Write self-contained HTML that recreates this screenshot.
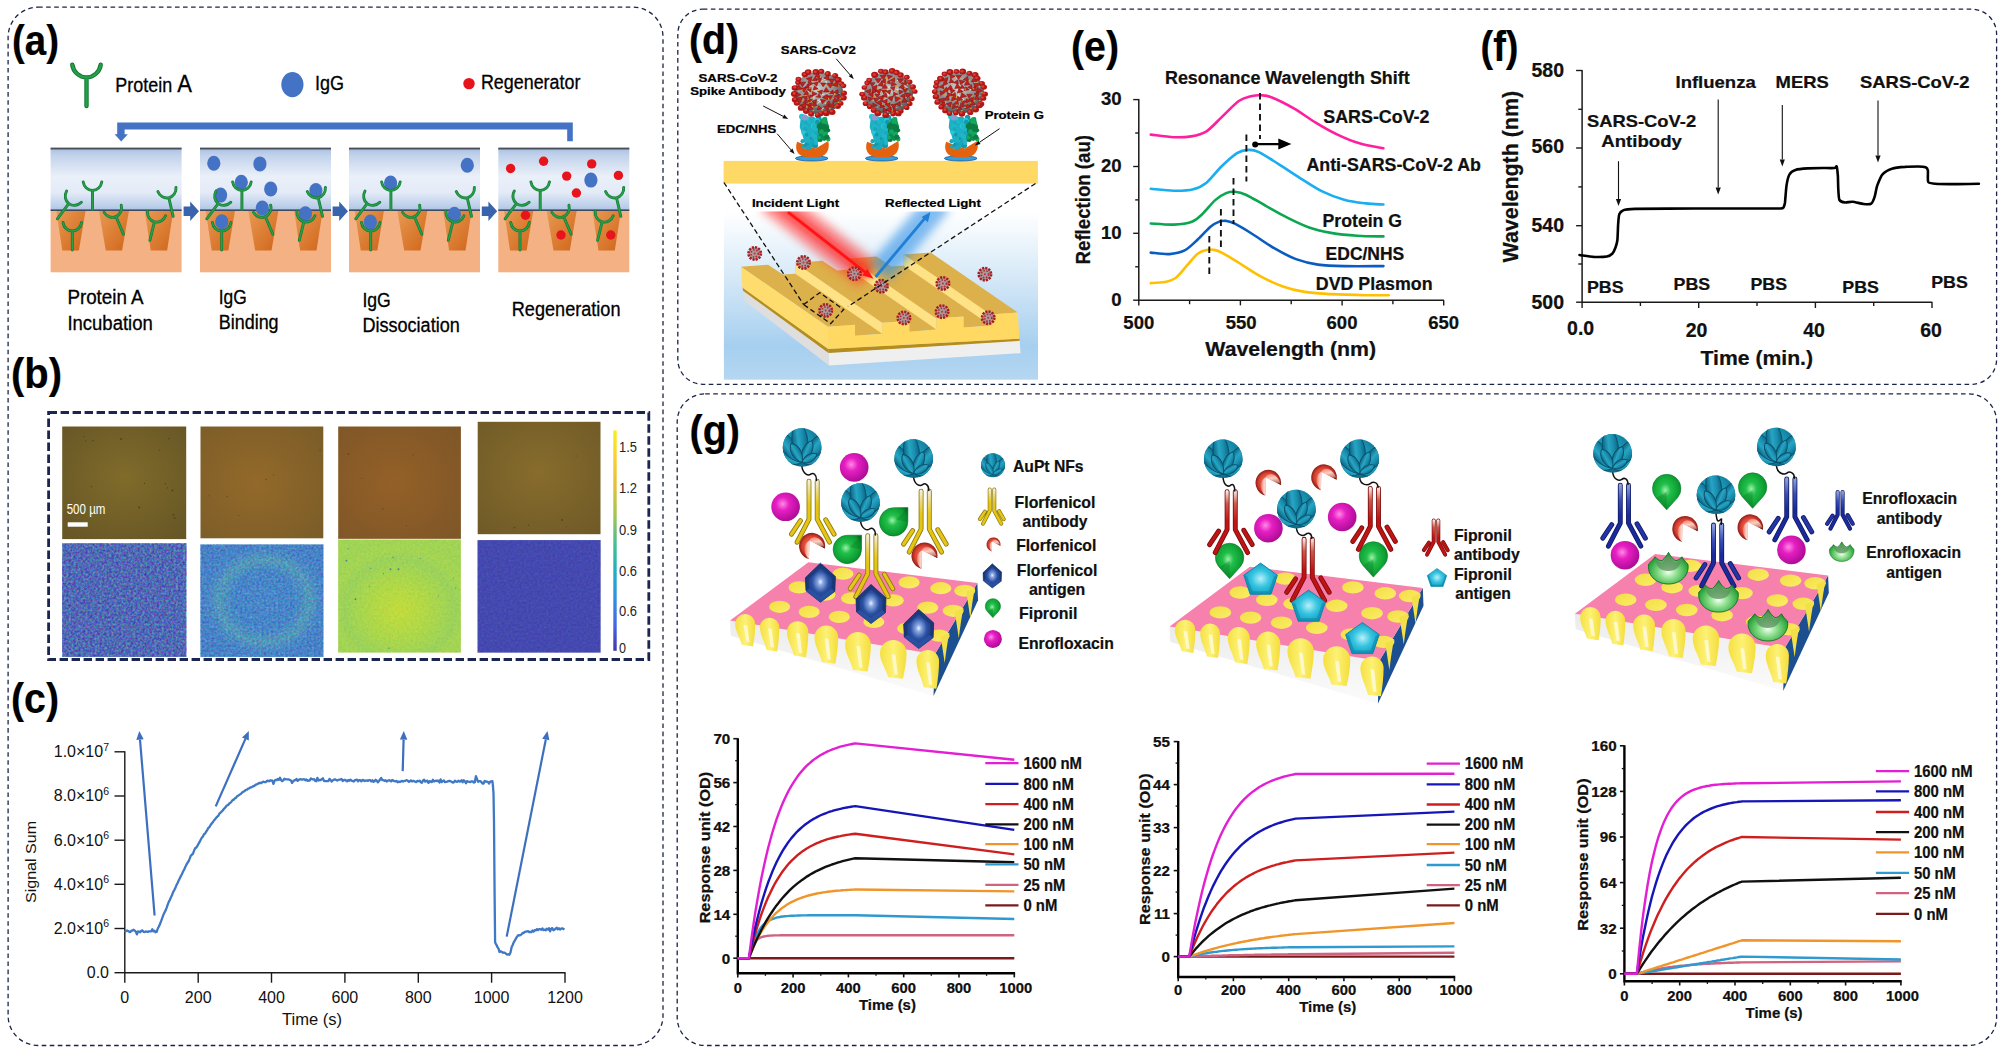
<!DOCTYPE html>
<html lang="en"><head><meta charset="utf-8"><title>Figure</title>
<style>
html,body{margin:0;padding:0;background:#fff;}
body{width:2001px;height:1053px;overflow:hidden;}
svg{display:block;font-family:"Liberation Sans",sans-serif;}
text[font-weight="bold"]{stroke:#000;stroke-width:0.22px;}
</style></head><body>
<svg width="2001" height="1053" viewBox="0 0 2001 1053">
<defs>
<linearGradient id="aSky" x1="0" y1="0" x2="0" y2="1">
<stop offset="0" stop-color="#a9bfe3"/><stop offset="0.12" stop-color="#c3d3ec"/><stop offset="0.45" stop-color="#eaf0f9"/>
<stop offset="0.7" stop-color="#e4ebf7"/><stop offset="0.92" stop-color="#bccfea"/><stop offset="1" stop-color="#a8c0e4"/></linearGradient>
<linearGradient id="aWell" x1="0" y1="0" x2="1" y2="1">
<stop offset="0" stop-color="#e79a55"/><stop offset="0.5" stop-color="#dc7f35"/><stop offset="1" stop-color="#cf661c"/></linearGradient>
<g id="aY" fill="none" stroke-linecap="round">
<path d="M-9.3 -10.6 A9.4 10 0 0 0 9.3 -10.6 M0 -0.6 L0 17" stroke="#157a36" stroke-width="2.9"/>
<path d="M-9.3 -10.6 A9.4 10 0 0 0 9.3 -10.6 M0 -0.6 L0 17" stroke="#27a04a" stroke-width="1.5"/>
</g>

<radialGradient id="bT1" cx="0.5" cy="0.45" r="0.75"><stop offset="0" stop-color="#806b2a"/><stop offset="1" stop-color="#655526"/></radialGradient>
<radialGradient id="bT2" cx="0.45" cy="0.5" r="0.75"><stop offset="0" stop-color="#93692a"/><stop offset="1" stop-color="#7a5c28"/></radialGradient>
<radialGradient id="bT3" cx="0.45" cy="0.5" r="0.75"><stop offset="0" stop-color="#946028"/><stop offset="1" stop-color="#7d5627"/></radialGradient>
<radialGradient id="bT4" cx="0.5" cy="0.45" r="0.75"><stop offset="0" stop-color="#876c2c"/><stop offset="1" stop-color="#6e5927"/></radialGradient>
<radialGradient id="bB2" cx="0.52" cy="0.5" r="0.5"><stop offset="0" stop-color="#4a88cc"/><stop offset="0.5" stop-color="#4584ca"/><stop offset="0.74" stop-color="#58a2b6"/><stop offset="0.9" stop-color="#4a88c8"/><stop offset="1" stop-color="#4680c8"/></radialGradient>
<radialGradient id="bB3" cx="0.5" cy="0.62" r="0.62"><stop offset="0" stop-color="#cbde38"/><stop offset="0.35" stop-color="#b4da46"/><stop offset="0.6" stop-color="#a2d556"/><stop offset="0.72" stop-color="#98d160"/><stop offset="0.85" stop-color="#a4d655"/><stop offset="1" stop-color="#a0d458"/></radialGradient>
<linearGradient id="bCB" x1="0" y1="0" x2="0" y2="1">
<stop offset="0" stop-color="#f9f016"/><stop offset="0.12" stop-color="#fbd02e"/><stop offset="0.25" stop-color="#e3c03c"/><stop offset="0.38" stop-color="#a6c550"/>
<stop offset="0.5" stop-color="#4fc08a"/><stop offset="0.62" stop-color="#1fb3bd"/><stop offset="0.75" stop-color="#2e94e0"/><stop offset="0.88" stop-color="#4468e6"/><stop offset="1" stop-color="#4436a8"/></linearGradient>
<filter id="nzA" x="0" y="0" width="1" height="1" color-interpolation-filters="sRGB"><feTurbulence type="fractalNoise" baseFrequency="0.42" numOctaves="2" seed="7"/>
<feColorMatrix type="matrix" values="1.3 0 0 0 -0.36  0 1.7 0 0 -0.43  0 0 1.0 0 0.22  0 0 0 0 1"/></filter>
<filter id="nzB" x="0" y="0" width="1" height="1" color-interpolation-filters="sRGB"><feTurbulence type="fractalNoise" baseFrequency="0.42" numOctaves="2" seed="11"/>
<feColorMatrix type="matrix" values="1.2 0 0 0 -0.3  0 1.3 0 0 -0.12  0 0 0.9 0 0.32  0 0 0 0 1"/></filter>
<filter id="nzC" x="0" y="0" width="1" height="1" color-interpolation-filters="sRGB"><feTurbulence type="fractalNoise" baseFrequency="0.45" numOctaves="1" seed="5"/>
<feColorMatrix type="matrix" values="0.8 0 0 0 0.25  0 0.5 0 0 0.58  0 0 0.6 0 0.0  0 0 0 0 1"/></filter>
<filter id="nzD" x="0" y="0" width="1" height="1" color-interpolation-filters="sRGB"><feTurbulence type="fractalNoise" baseFrequency="0.45" numOctaves="1" seed="9"/>
<feColorMatrix type="matrix" values="0.5 0 0 0 0.02  0 0.5 0 0 0.04  0 0 0.5 0 0.44  0 0 0 0 1"/></filter>


<linearGradient id="dBg" x1="0" y1="0" x2="0" y2="1"><stop offset="0" stop-color="#ffffff"/><stop offset="0.12" stop-color="#f3f9fd"/><stop offset="0.45" stop-color="#cfe5f6"/><stop offset="0.8" stop-color="#a6cfef"/><stop offset="1" stop-color="#b4d7f2"/></linearGradient>
<radialGradient id="dVg" cx="0.45" cy="0.4" r="0.6"><stop offset="0" stop-color="#cfcfcf"/><stop offset="0.6" stop-color="#8e8e8e"/><stop offset="1" stop-color="#555555"/></radialGradient>
<linearGradient id="dRed" gradientUnits="userSpaceOnUse" x1="787.8" y1="211.9" x2="873.5" y2="278.7"><stop offset="0" stop-color="#ff2020" stop-opacity="0.75"/><stop offset="0.8" stop-color="#ff2020" stop-opacity="0.7"/><stop offset="1" stop-color="#ff3020" stop-opacity="0.25"/></linearGradient>
<filter id="dBlur" x="-0.3" y="-0.3" width="1.6" height="1.6"><feGaussianBlur stdDeviation="5"/></filter>
<filter id="dBlur2" x="-0.3" y="-0.3" width="1.6" height="1.6"><feGaussianBlur stdDeviation="3.5"/></filter>
<clipPath id="dClip"><rect x="723.9" y="211.5" width="314.1" height="168.2"/></clipPath>


<radialGradient id="gNF" cx="0.42" cy="0.38" r="0.7"><stop offset="0" stop-color="#2fb1cf"/><stop offset="0.55" stop-color="#168aaa"/><stop offset="1" stop-color="#0a5f7f"/></radialGradient>
<linearGradient id="gLeaf" x1="0" y1="0" x2="1" y2="0"><stop offset="0" stop-color="#0b6180"/><stop offset="0.4" stop-color="#27a5c4"/><stop offset="0.7" stop-color="#1a8eae"/><stop offset="1" stop-color="#0c6785"/></linearGradient>
<radialGradient id="gMag" cx="0.4" cy="0.4" r="0.65"><stop offset="0" stop-color="#ff8ae6"/><stop offset="0.35" stop-color="#e71fc3"/><stop offset="1" stop-color="#a80a92"/></radialGradient>
<radialGradient id="gGrn" cx="0.45" cy="0.45" r="0.62"><stop offset="0" stop-color="#9ff0a8"/><stop offset="0.3" stop-color="#21c04a"/><stop offset="0.8" stop-color="#0b9a30"/><stop offset="1" stop-color="#086d22"/></radialGradient>
<radialGradient id="gRed" cx="0.52" cy="0.56" r="0.6"><stop offset="0" stop-color="#fff4ee"/><stop offset="0.3" stop-color="#f7b0a2"/><stop offset="0.7" stop-color="#dc5a4a"/><stop offset="1" stop-color="#b4322a"/></radialGradient>
<radialGradient id="gGem" cx="0.5" cy="0.48" r="0.55"><stop offset="0" stop-color="#eef3ff"/><stop offset="0.16" stop-color="#8aa8e2"/><stop offset="0.5" stop-color="#2a50a2"/><stop offset="1" stop-color="#17306f"/></radialGradient>
<radialGradient id="gPen" cx="0.5" cy="0.5" r="0.6"><stop offset="0" stop-color="#b8f0fa"/><stop offset="0.45" stop-color="#35c4e0"/><stop offset="1" stop-color="#0e93b8"/></radialGradient>
<radialGradient id="gCrn" cx="0.5" cy="0.62" r="0.62"><stop offset="0" stop-color="#f4fff2"/><stop offset="0.35" stop-color="#8fe08f"/><stop offset="0.8" stop-color="#2fa83f"/><stop offset="1" stop-color="#147a26"/></radialGradient>
<linearGradient id="gCone" x1="0" y1="0" x2="1" y2="0"><stop offset="0" stop-color="#f5e040"/><stop offset="0.5" stop-color="#fdf176"/><stop offset="1" stop-color="#f4dd3a"/></linearGradient>
<linearGradient id="gDot" x1="0" y1="0" x2="1" y2="1"><stop offset="0" stop-color="#f2dd45"/><stop offset="1" stop-color="#fbee66"/></linearGradient>
<linearGradient id="gFront" x1="0" y1="0" x2="0" y2="1"><stop offset="0" stop-color="#ecebec"/><stop offset="0.6" stop-color="#f6f5f6"/><stop offset="1" stop-color="#fbfbfb"/></linearGradient>
<linearGradient id="gAbY" gradientUnits="userSpaceOnUse" x1="0" y1="0" x2="0" y2="30"><stop offset="0" stop-color="#f4eedc"/><stop offset="0.35" stop-color="#ecd97c"/><stop offset="0.75" stop-color="#e6c81c"/><stop offset="1" stop-color="#e4c414"/></linearGradient>
<linearGradient id="gAbR" gradientUnits="userSpaceOnUse" x1="0" y1="0" x2="0" y2="30"><stop offset="0" stop-color="#f6e6e0"/><stop offset="0.4" stop-color="#cf5a4a"/><stop offset="1" stop-color="#c01414"/></linearGradient>
<linearGradient id="gAbB" gradientUnits="userSpaceOnUse" x1="0" y1="0" x2="0" y2="30"><stop offset="0" stop-color="#8fa2dc"/><stop offset="0.5" stop-color="#3a4fb8"/><stop offset="1" stop-color="#1a2a9a"/></linearGradient>
<clipPath id="gNFc"><circle r="19.3"/></clipPath>
<g id="gNFs">
<circle r="19.3" fill="url(#gNF)"/>
<g stroke="#084e69" stroke-width="0.9" fill="url(#gLeaf)" clip-path="url(#gNFc)">
<path d="M0 15 C-10 4 -10 -14 0 -24 C10 -14 10 4 0 15 Z" transform="rotate(-72 0 15)"/>
<path d="M0 15 C-10 4 -10 -14 0 -24 C10 -14 10 4 0 15 Z" transform="rotate(74 0 15)"/>
<path d="M0 15 C-10 4 -10 -16 0 -26 C10 -16 10 4 0 15 Z" transform="rotate(-40 0 15)"/>
<path d="M0 15 C-10 4 -10 -16 0 -26 C10 -16 10 4 0 15 Z" transform="rotate(42 0 15)"/>
<path d="M0 15 C-10.5 3 -10.5 -17 0 -27 C10.5 -17 10.5 3 0 15 Z" transform="rotate(-6 0 15)"/>
<path d="M0 15 C-6 8 -6.5 -3 0 -9 C6.5 -3 6 8 0 15 Z" transform="rotate(24 0 15)"/>
<path d="M0 15 C-6 8 -6.5 -2 0 -7 C6.5 -2 6 8 0 15 Z" transform="rotate(-30 0 15)"/>
<path d="M0 15 C-5 10 -5 2 0 -2 C5 2 5 10 0 15 Z" transform="rotate(60 0 15)"/>
</g></g>
<linearGradient id="gPacA" x1="0.3" y1="0" x2="0.55" y2="1"><stop offset="0" stop-color="#f08474"/><stop offset="0.4" stop-color="#fbd0c4"/><stop offset="0.8" stop-color="#c88474"/><stop offset="1" stop-color="#5c1c18"/></linearGradient>
<linearGradient id="gPacB" x1="0" y1="0.5" x2="1" y2="0.5"><stop offset="0" stop-color="#ea6e5e"/><stop offset="0.55" stop-color="#f8c2b4"/><stop offset="1" stop-color="#fde2d8"/></linearGradient>
<radialGradient id="gPacO" cx="0.5" cy="0.5" r="0.5"><stop offset="0.35" stop-color="#f26a58"/><stop offset="0.75" stop-color="#d8402f"/><stop offset="1" stop-color="#8e1d18"/></radialGradient>
<g id="gPacS">
<path d="M-4 14.3 A13.5 13.8 0 1 1 12.6 3.2 L-3.5 -5 Z" fill="url(#gPacO)"/>
<path d="M-3.5 -5 C-0.5 -11 9 -9.5 12.6 3.2 Z" fill="url(#gPacA)"/>
<path d="M-3.5 -5 C-10.5 -1 -10 9 -4 14.3 Z" fill="url(#gPacB)"/>
</g>
<g id="gGemS"><polygon points="0,-19.6 15,-6.2 14.4,8.6 0,19.4 -14.4,8 -15,-5" fill="url(#gGem)" stroke="#17326f" stroke-width="0.8"/>
<path d="M0 -19.6 L15 -6.2 L14.4 8.6 L11.3 6 L11.6 -4.6 L0 -14.6 L-11.6 -3.8 L-11.2 5.6 L-14.4 8 L-15 -5 Z" fill="#19336f" opacity="0.6"/>
<path d="M-14.4 8 L-11.2 5.6 L0 14 L11.3 6 L14.4 8.6 L0 19.4 Z" fill="#2c56a8" opacity="0.75"/></g>
<g id="gPenS"><polygon points="0,-16.5 16.8,-4.4 10.4,14.6 -10.4,14.6 -16.8,-4.4" fill="url(#gPen)" stroke="#0c82a6" stroke-width="0.9"/>
<path d="M-16.8 -4.4 L-10.4 14.6 L10.4 14.6 L16.8 -4.4 L13.4 -3.2 L8.2 11.6 L-8.2 11.6 L-13.4 -3.2 Z" fill="#0a87ab" opacity="0.6"/></g>
<g id="gCrnS"><path d="M-19.6 -5.5 C-17 -8 -14.5 -10.5 -13.2 -12.6 C-11 -9.8 -8.4 -8.6 -6.2 -8.8 C-3.6 -11 -1.4 -14.2 0.2 -17 C2 -13.6 4.2 -10.6 7 -8.8 C9.6 -8.8 11.8 -10.2 13.6 -12.6 C15 -10 17.4 -7.2 19.6 -5.2 C21.4 5 13 14.6 0 14.6 C-13 14.6 -21.4 5 -19.6 -5.5 Z" fill="url(#gCrn)" stroke="#126e22" stroke-width="0.9"/>
<path d="M-13.2 -11 C-11 -8 -8.4 -7 -6.2 -7.2 C-3.6 -9.4 -1.4 -12.4 0.2 -15 C2 -12 4.2 -9 7 -7.2 C9.6 -7.2 11.8 -8.6 13.6 -11 C12 -2 7 1.5 0 1.5 C-7 1.5 -12 -2 -13.2 -11 Z" fill="#5f8f62" opacity="0.75"/></g>

</defs>
<rect width="2001" height="1053" fill="#fff"/>
<rect x="8.1" y="7.2" width="654.9" height="1038.3" rx="30" ry="30" fill="none" stroke="#1c2348" stroke-width="1.3" stroke-dasharray="4.6 3.45"/>
<rect x="677.8" y="9.2" width="1318.8" height="375.1" rx="25" ry="25" fill="none" stroke="#1c2348" stroke-width="1.3" stroke-dasharray="4.6 3.45"/>
<rect x="677.2" y="393.8" width="1319.4" height="651.7" rx="28" ry="28" fill="none" stroke="#1c2348" stroke-width="1.3" stroke-dasharray="4.6 3.45"/>
<text x="12.0" y="54.5" font-size="42" font-weight="bold" textLength="47.0" lengthAdjust="spacingAndGlyphs" >(a)</text>
<text x="11.0" y="388.0" font-size="42" font-weight="bold" textLength="51.0" lengthAdjust="spacingAndGlyphs" >(b)</text>
<text x="11.0" y="713.0" font-size="42" font-weight="bold" textLength="48.0" lengthAdjust="spacingAndGlyphs" >(c)</text>
<text x="689.0" y="54.0" font-size="42" font-weight="bold" textLength="50.0" lengthAdjust="spacingAndGlyphs" >(d)</text>
<text x="1071.0" y="60.5" font-size="42" font-weight="bold" textLength="48.0" lengthAdjust="spacingAndGlyphs" >(e)</text>
<text x="1480.5" y="61.0" font-size="42" font-weight="bold" textLength="38.0" lengthAdjust="spacingAndGlyphs" >(f)</text>
<text x="689.5" y="445.0" font-size="42" font-weight="bold" textLength="50.5" lengthAdjust="spacingAndGlyphs" >(g)</text>
<g transform="translate(50.6 0)">
<rect x="0" y="148.2" width="131" height="63" fill="url(#aSky)"/>
<rect x="0" y="210.2" width="131" height="62.1" fill="#f4b183"/>
<polygon points="5.7,210.6 35,210.6 28.3,250.4 11.7,250.4" fill="url(#aWell)"/>
<polygon points="48.3,210.6 78.4,210.6 71.5,250.4 55.2,250.4" fill="url(#aWell)"/>
<polygon points="94.1,210.6 122.7,210.6 116.5,250.4 100.1,250.4" fill="url(#aWell)"/>
<rect x="0" y="147.6" width="131" height="1.9" fill="#4a4f58"/>
<rect x="0" y="209.4" width="131" height="1.6" fill="#3f4a5c"/>
<use href="#aY" transform="translate(41.9 192.5) rotate(0)"/>
<use href="#aY" transform="translate(17.0 205.2) rotate(37)"/>
<use href="#aY" transform="translate(21.7 233.1) rotate(0)"/>
<use href="#aY" transform="translate(66.2 218.5) rotate(-23)"/>
<use href="#aY" transform="translate(118.7 199.8) rotate(-13)"/>
<use href="#aY" transform="translate(103.4 223.8) rotate(14)"/>
</g>
<g transform="translate(200.0 0)">
<rect x="0" y="148.2" width="131" height="63" fill="url(#aSky)"/>
<rect x="0" y="210.2" width="131" height="62.1" fill="#f4b183"/>
<polygon points="5.7,210.6 35,210.6 28.3,250.4 11.7,250.4" fill="url(#aWell)"/>
<polygon points="48.3,210.6 78.4,210.6 71.5,250.4 55.2,250.4" fill="url(#aWell)"/>
<polygon points="94.1,210.6 122.7,210.6 116.5,250.4 100.1,250.4" fill="url(#aWell)"/>
<rect x="0" y="147.6" width="131" height="1.9" fill="#4a4f58"/>
<rect x="0" y="209.4" width="131" height="1.6" fill="#3f4a5c"/>
<ellipse cx="13.8" cy="163.3" rx="6.6" ry="7.5" fill="#4472c4"/>
<ellipse cx="59.9" cy="163.9" rx="6.6" ry="7.5" fill="#4472c4"/>
<ellipse cx="41.3" cy="182.2" rx="6.6" ry="7.5" fill="#4472c4"/>
<ellipse cx="20.6" cy="195.1" rx="6.6" ry="7.5" fill="#4472c4"/>
<ellipse cx="70.7" cy="189" rx="6.6" ry="7.5" fill="#4472c4"/>
<ellipse cx="115.9" cy="190.6" rx="6.6" ry="7.5" fill="#4472c4"/>
<ellipse cx="62.3" cy="208" rx="6.6" ry="7.5" fill="#4472c4"/>
<ellipse cx="105.4" cy="213.7" rx="6.6" ry="7.5" fill="#4472c4"/>
<ellipse cx="21.8" cy="221.8" rx="6.6" ry="7.5" fill="#4472c4"/>
<use href="#aY" transform="translate(41.9 192.5) rotate(0)"/>
<use href="#aY" transform="translate(17.0 205.2) rotate(37)"/>
<use href="#aY" transform="translate(21.7 233.1) rotate(0)"/>
<use href="#aY" transform="translate(66.2 218.5) rotate(-23)"/>
<use href="#aY" transform="translate(118.7 199.8) rotate(-13)"/>
<use href="#aY" transform="translate(103.4 223.8) rotate(14)"/>
</g>
<g transform="translate(349.0 0)">
<rect x="0" y="148.2" width="131" height="63" fill="url(#aSky)"/>
<rect x="0" y="210.2" width="131" height="62.1" fill="#f4b183"/>
<polygon points="5.7,210.6 35,210.6 28.3,250.4 11.7,250.4" fill="url(#aWell)"/>
<polygon points="48.3,210.6 78.4,210.6 71.5,250.4 55.2,250.4" fill="url(#aWell)"/>
<polygon points="94.1,210.6 122.7,210.6 116.5,250.4 100.1,250.4" fill="url(#aWell)"/>
<rect x="0" y="147.6" width="131" height="1.9" fill="#4a4f58"/>
<rect x="0" y="209.4" width="131" height="1.6" fill="#3f4a5c"/>
<ellipse cx="118.3" cy="165.2" rx="6.6" ry="7.5" fill="#4472c4"/>
<ellipse cx="41.6" cy="183" rx="6.6" ry="7.5" fill="#4472c4"/>
<ellipse cx="105.4" cy="214.2" rx="6.6" ry="7.5" fill="#4472c4"/>
<ellipse cx="21.4" cy="222.1" rx="6.6" ry="7.5" fill="#4472c4"/>
<use href="#aY" transform="translate(41.9 192.5) rotate(0)"/>
<use href="#aY" transform="translate(17.0 205.2) rotate(37)"/>
<use href="#aY" transform="translate(21.7 233.1) rotate(0)"/>
<use href="#aY" transform="translate(66.2 218.5) rotate(-23)"/>
<use href="#aY" transform="translate(118.7 199.8) rotate(-13)"/>
<use href="#aY" transform="translate(103.4 223.8) rotate(14)"/>
</g>
<g transform="translate(498.3 0)">
<rect x="0" y="148.2" width="131" height="63" fill="url(#aSky)"/>
<rect x="0" y="210.2" width="131" height="62.1" fill="#f4b183"/>
<polygon points="5.7,210.6 35,210.6 28.3,250.4 11.7,250.4" fill="url(#aWell)"/>
<polygon points="48.3,210.6 78.4,210.6 71.5,250.4 55.2,250.4" fill="url(#aWell)"/>
<polygon points="94.1,210.6 122.7,210.6 116.5,250.4 100.1,250.4" fill="url(#aWell)"/>
<rect x="0" y="147.6" width="131" height="1.9" fill="#4a4f58"/>
<rect x="0" y="209.4" width="131" height="1.6" fill="#3f4a5c"/>
<circle cx="12.3" cy="168.5" r="4.7" fill="#e8141c"/>
<circle cx="45.3" cy="161.2" r="4.7" fill="#e8141c"/>
<circle cx="93.4" cy="163.9" r="4.7" fill="#e8141c"/>
<circle cx="68.4" cy="176.1" r="4.7" fill="#e8141c"/>
<circle cx="120.1" cy="175.4" r="4.7" fill="#e8141c"/>
<circle cx="78.1" cy="193" r="4.7" fill="#e8141c"/>
<circle cx="27.2" cy="215.3" r="4.7" fill="#e8141c"/>
<circle cx="62.7" cy="235" r="4.7" fill="#e8141c"/>
<circle cx="112.5" cy="235" r="4.7" fill="#e8141c"/>
<ellipse cx="92.6" cy="180.1" rx="6.6" ry="7.5" fill="#4472c4"/>
<use href="#aY" transform="translate(41.9 192.5) rotate(0)"/>
<use href="#aY" transform="translate(17.0 205.2) rotate(37)"/>
<use href="#aY" transform="translate(21.7 233.1) rotate(0)"/>
<use href="#aY" transform="translate(66.2 218.5) rotate(-23)"/>
<use href="#aY" transform="translate(118.7 199.8) rotate(-13)"/>
<use href="#aY" transform="translate(103.4 223.8) rotate(14)"/>
</g>
<polygon points="183.6,206.5 190.2,206.5 190.2,201.6 199.0,211.3 190.2,221 190.2,216.1 183.6,216.1" fill="#3a63ad"/>
<polygon points="332.6,206.5 339.20000000000005,206.5 339.20000000000005,201.6 348.0,211.3 339.20000000000005,221 339.20000000000005,216.1 332.6,216.1" fill="#3a63ad"/>
<polygon points="481.8,206.5 488.40000000000003,206.5 488.40000000000003,201.6 497.2,211.3 488.40000000000003,221 488.40000000000003,216.1 481.8,216.1" fill="#3a63ad"/>
<path d="M572.8 141.3 L572.8 122.4 L117.2 122.4 L117.2 135 L124.6 135 L124.6 129.4 L567.2 129.4 L567.2 141.3 Z" fill="#4472c4"/>
<polygon points="114.6,134.3 127.9,134.3 121.2,141.4" fill="#4472c4"/>
<g transform="translate(86.5 80.5) scale(1.53 1.5)"><use href="#aY"/></g>
<text x="115.3" y="92.0" font-size="20" textLength="76.5" lengthAdjust="spacingAndGlyphs" stroke="#000" stroke-width="0.3">Protein <tspan font-size="24.5">A</tspan></text>
<ellipse cx="292.4" cy="84.6" rx="11.1" ry="12.6" fill="#4472c4"/>
<text x="315.0" y="89.5" font-size="20" textLength="29.0" lengthAdjust="spacingAndGlyphs" stroke="#000" stroke-width="0.3">IgG</text>
<circle cx="469" cy="83.6" r="5.7" fill="#e8141c"/>
<text x="480.9" y="88.8" font-size="20" textLength="99.5" lengthAdjust="spacingAndGlyphs" stroke="#000" stroke-width="0.3">Regenerator</text>
<text x="67.4" y="304.3" font-size="19.5" textLength="76.2" lengthAdjust="spacingAndGlyphs" stroke="#000" stroke-width="0.3">Protein A</text>
<text x="67.4" y="330.0" font-size="19.5" textLength="85.4" lengthAdjust="spacingAndGlyphs" stroke="#000" stroke-width="0.3">Incubation</text>
<text x="218.8" y="303.6" font-size="19.5" textLength="28.0" lengthAdjust="spacingAndGlyphs" stroke="#000" stroke-width="0.3">IgG</text>
<text x="218.8" y="328.9" font-size="19.5" textLength="59.8" lengthAdjust="spacingAndGlyphs" stroke="#000" stroke-width="0.3">Binding</text>
<text x="362.4" y="306.7" font-size="19.5" textLength="28.4" lengthAdjust="spacingAndGlyphs" stroke="#000" stroke-width="0.3">IgG</text>
<text x="362.4" y="331.6" font-size="19.5" textLength="97.4" lengthAdjust="spacingAndGlyphs" stroke="#000" stroke-width="0.3">Dissociation</text>
<text x="511.8" y="316.2" font-size="19.5" textLength="108.7" lengthAdjust="spacingAndGlyphs" stroke="#000" stroke-width="0.3">Regeneration</text>
<rect x="48.6" y="412.5" width="600.2" height="247" fill="none" stroke="#1a2550" stroke-width="2.8" stroke-dasharray="8.4 3.6"/>
<rect x="62.2" y="426.5" width="124" height="112.6" fill="url(#bT1)"/>
<rect x="200.5" y="426.5" width="122.8" height="111.8" fill="url(#bT2)"/>
<rect x="338.2" y="426.5" width="122.7" height="112.4" fill="url(#bT3)"/>
<rect x="477.7" y="421.8" width="122.8" height="112.4" fill="url(#bT4)"/>
<rect x="62.2" y="543.3" width="124" height="113.6" fill="#5568b4"/>
<rect x="62.2" y="543.3" width="124" height="113.6" filter="url(#nzA)" opacity="0.38"/>
<rect x="200.5" y="544.5" width="122.8" height="112.4" fill="url(#bB2)"/>
<rect x="200.5" y="544.5" width="122.8" height="112.4" filter="url(#nzB)" opacity="0.3"/>
<rect x="338.2" y="539.6" width="122.7" height="112.9" fill="url(#bB3)"/>
<rect x="338.2" y="539.6" width="122.7" height="112.9" filter="url(#nzC)" opacity="0.22"/>
<rect x="338.2" y="538.9" width="122.7" height="0.8" fill="#d8e8b0"/>
<rect x="477.7" y="540.1" width="122.8" height="112.4" fill="#4549b0"/>
<rect x="477.7" y="540.1" width="122.8" height="112.4" filter="url(#nzD)" opacity="0.3"/>
<circle cx="93.1" cy="440.5" r="0.70" fill="#4a4326"/>
<circle cx="83.5" cy="436.6" r="0.70" fill="#4a4326"/>
<circle cx="173.5" cy="514.8" r="0.88" fill="#4a4326"/>
<circle cx="91.4" cy="486.7" r="0.64" fill="#4a4326"/>
<circle cx="85.6" cy="440.8" r="0.61" fill="#4a4326"/>
<circle cx="174.6" cy="517.9" r="0.90" fill="#4a4326"/>
<circle cx="159.7" cy="450.1" r="0.65" fill="#4a4326"/>
<circle cx="139.2" cy="507.5" r="0.93" fill="#4a4326"/>
<circle cx="169.0" cy="438.7" r="0.80" fill="#4a4326"/>
<circle cx="144.5" cy="483.4" r="0.59" fill="#4a4326"/>
<circle cx="121.1" cy="439.0" r="0.97" fill="#4a4326"/>
<circle cx="167.3" cy="487.9" r="0.65" fill="#4a4326"/>
<circle cx="172.4" cy="490.5" r="0.94" fill="#4a4326"/>
<circle cx="165.3" cy="483.7" r="0.71" fill="#4a4326"/>
<circle cx="273.5" cy="475.1" r="0.58" fill="#5e4a24"/>
<circle cx="239.1" cy="515.5" r="0.52" fill="#5e4a24"/>
<circle cx="208.9" cy="495.8" r="0.64" fill="#5e4a24"/>
<circle cx="265.9" cy="479.4" r="0.67" fill="#5e4a24"/>
<circle cx="320.0" cy="450.2" r="0.71" fill="#5e4a24"/>
<circle cx="227.2" cy="496.4" r="0.64" fill="#5e4a24"/>
<circle cx="382.7" cy="509.0" r="0.66" fill="#5e4424"/>
<circle cx="406.4" cy="525.7" r="0.55" fill="#5e4424"/>
<circle cx="348.4" cy="453.9" r="0.88" fill="#5e4424"/>
<circle cx="413.0" cy="454.8" r="0.67" fill="#5e4424"/>
<circle cx="361.9" cy="478.3" r="0.52" fill="#5e4424"/>
<circle cx="562.1" cy="520.1" r="0.98" fill="#564824"/>
<circle cx="566.5" cy="526.9" r="0.51" fill="#564824"/>
<circle cx="514.5" cy="527.6" r="0.89" fill="#564824"/>
<circle cx="528.6" cy="525.2" r="0.81" fill="#564824"/>
<circle cx="576.2" cy="456.0" r="0.60" fill="#564824"/>
<circle cx="393.0" cy="557.2" r="0.69" fill="#3f8a9a"/>
<circle cx="453.4" cy="578.0" r="0.50" fill="#3f8a9a"/>
<circle cx="346.4" cy="560.7" r="0.89" fill="#3f8a9a"/>
<circle cx="383.5" cy="573.6" r="0.55" fill="#3f8a9a"/>
<circle cx="455.8" cy="587.9" r="0.60" fill="#3f8a9a"/>
<circle cx="348.1" cy="548.5" r="0.58" fill="#3f8a9a"/>
<circle cx="420.2" cy="558.6" r="0.52" fill="#3f8a9a"/>
<circle cx="398.5" cy="569.2" r="1.00" fill="#3f8a9a"/>
<circle cx="355.5" cy="599.2" r="0.89" fill="#3f8a9a"/>
<circle cx="389.0" cy="648.2" r="0.74" fill="#3f8a9a"/>
<circle cx="369.4" cy="586.5" r="0.52" fill="#3f8a9a"/>
<circle cx="390.4" cy="569.2" r="0.94" fill="#3f8a9a"/>
<circle cx="438.2" cy="595.9" r="0.52" fill="#3f8a9a"/>
<circle cx="370.9" cy="568.5" r="0.60" fill="#3f8a9a"/>
<text x="66.7" y="514.1" font-size="14.5" textLength="38.7" lengthAdjust="spacingAndGlyphs" fill="#fff" >500 µm</text>
<rect x="67.7" y="522.3" width="20" height="4.4" fill="#fff"/>
<rect x="613.3" y="430.4" width="3.4" height="220.4" fill="url(#bCB)"/>
<text x="619.0" y="452.0" font-size="15.5" textLength="18.0" lengthAdjust="spacingAndGlyphs" fill="#222" >1.5</text>
<text x="619.0" y="492.7" font-size="15.5" textLength="18.0" lengthAdjust="spacingAndGlyphs" fill="#222" >1.2</text>
<text x="619.0" y="535.4" font-size="15.5" textLength="18.0" lengthAdjust="spacingAndGlyphs" fill="#222" >0.9</text>
<text x="619.0" y="575.5" font-size="15.5" textLength="18.0" lengthAdjust="spacingAndGlyphs" fill="#222" >0.6</text>
<text x="619.0" y="616.2" font-size="15.5" textLength="18.0" lengthAdjust="spacingAndGlyphs" fill="#222" >0.6</text>
<text x="619.0" y="653.3" font-size="15.5" textLength="7.0" lengthAdjust="spacingAndGlyphs" fill="#222" >0</text>
<path d="M124.8 751.3 L124.8 972.7 L565.5 972.7" fill="none" stroke="#1a1a1a" stroke-width="1.4"/>
<line x1="114.5" y1="972.7" x2="124.8" y2="972.7" stroke="#1a1a1a" stroke-width="1.4"/>
<text x="109.0" y="978.0" font-size="16" text-anchor="end" fill="#111" >0.0</text>
<line x1="114.5" y1="928.5" x2="124.8" y2="928.5" stroke="#1a1a1a" stroke-width="1.4"/>
<text x="109.0" y="933.8" font-size="16" text-anchor="end" fill="#111" >2.0×10<tspan font-size="10.5" dy="-6.5">6</tspan></text>
<line x1="114.5" y1="884.3" x2="124.8" y2="884.3" stroke="#1a1a1a" stroke-width="1.4"/>
<text x="109.0" y="889.6" font-size="16" text-anchor="end" fill="#111" >4.0×10<tspan font-size="10.5" dy="-6.5">6</tspan></text>
<line x1="114.5" y1="840.2" x2="124.8" y2="840.2" stroke="#1a1a1a" stroke-width="1.4"/>
<text x="109.0" y="845.5" font-size="16" text-anchor="end" fill="#111" >6.0×10<tspan font-size="10.5" dy="-6.5">6</tspan></text>
<line x1="114.5" y1="796.0" x2="124.8" y2="796.0" stroke="#1a1a1a" stroke-width="1.4"/>
<text x="109.0" y="801.3" font-size="16" text-anchor="end" fill="#111" >8.0×10<tspan font-size="10.5" dy="-6.5">6</tspan></text>
<line x1="114.5" y1="751.8" x2="124.8" y2="751.8" stroke="#1a1a1a" stroke-width="1.4"/>
<text x="109.0" y="757.1" font-size="16" text-anchor="end" fill="#111" >1.0×10<tspan font-size="10.5" dy="-6.5">7</tspan></text>
<line x1="124.8" y1="972.7" x2="124.8" y2="982.7" stroke="#1a1a1a" stroke-width="1.4"/>
<text x="124.8" y="1002.9" font-size="16" text-anchor="middle" fill="#111" >0</text>
<line x1="198.2" y1="972.7" x2="198.2" y2="982.7" stroke="#1a1a1a" stroke-width="1.4"/>
<text x="198.2" y="1002.9" font-size="16" text-anchor="middle" fill="#111" >200</text>
<line x1="271.5" y1="972.7" x2="271.5" y2="982.7" stroke="#1a1a1a" stroke-width="1.4"/>
<text x="271.5" y="1002.9" font-size="16" text-anchor="middle" fill="#111" >400</text>
<line x1="344.9" y1="972.7" x2="344.9" y2="982.7" stroke="#1a1a1a" stroke-width="1.4"/>
<text x="344.9" y="1002.9" font-size="16" text-anchor="middle" fill="#111" >600</text>
<line x1="418.3" y1="972.7" x2="418.3" y2="982.7" stroke="#1a1a1a" stroke-width="1.4"/>
<text x="418.3" y="1002.9" font-size="16" text-anchor="middle" fill="#111" >800</text>
<line x1="491.6" y1="972.7" x2="491.6" y2="982.7" stroke="#1a1a1a" stroke-width="1.4"/>
<text x="491.6" y="1002.9" font-size="16" text-anchor="middle" fill="#111" >1000</text>
<line x1="565.0" y1="972.7" x2="565.0" y2="982.7" stroke="#1a1a1a" stroke-width="1.4"/>
<text x="565.0" y="1002.9" font-size="16" text-anchor="middle" fill="#111" >1200</text>
<text x="312.0" y="1024.7" font-size="16" text-anchor="middle" textLength="60.0" lengthAdjust="spacingAndGlyphs" fill="#111" >Time (s)</text>
<text x="36.4" y="862.0" font-size="15" text-anchor="middle" textLength="82.0" lengthAdjust="spacingAndGlyphs" fill="#111" transform="rotate(-90 36.4 862.0)" >Signal Sum</text>
<path d="M124.8 932.3 L125.9 931.0 L127.0 930.4 L128.1 931.1 L129.2 931.6 L130.3 932.1 L131.4 930.7 L132.5 930.5 L133.6 929.8 L134.7 930.7 L135.8 931.6 L136.9 934.4 L138.0 931.5 L139.1 931.6 L140.2 932.2 L141.3 930.8 L142.4 930.4 L143.5 931.8 L144.6 932.0 L145.7 931.5 L146.8 931.6 L147.9 931.9 L149.0 931.4 L150.1 931.4 L151.2 931.3 L152.3 929.3 L153.4 931.4 L154.5 930.6 L155.6 932.3 L156.7 931.8 L157.8 928.5 L158.9 926.5 L160.0 924.0 L161.1 921.2 L162.2 918.2 L163.3 915.1 L164.4 912.8 L165.5 910.4 L166.6 907.9 L167.7 904.7 L168.8 901.9 L169.9 899.8 L171.0 897.2 L172.1 895.0 L173.2 891.8 L174.3 890.1 L175.4 887.7 L176.5 885.1 L177.6 882.9 L178.7 880.5 L179.8 878.3 L180.9 876.1 L182.0 874.0 L183.1 871.4 L184.2 869.7 L185.3 866.9 L186.4 864.7 L187.5 862.8 L188.6 861.3 L189.7 858.6 L190.8 855.6 L191.9 854.8 L193.0 853.6 L194.1 850.6 L195.2 848.3 L196.3 847.5 L197.4 845.9 L198.5 843.8 L199.6 841.9 L200.7 839.7 L201.8 837.7 L202.9 836.4 L204.0 834.3 L205.1 833.5 L206.2 831.6 L207.3 829.8 L208.4 827.9 L209.5 827.0 L210.6 825.0 L211.7 823.5 L212.8 822.3 L213.9 820.5 L215.0 819.4 L216.1 817.9 L217.2 816.7 L218.3 815.8 L219.4 813.7 L220.5 812.7 L221.6 811.6 L222.7 810.5 L223.8 809.0 L224.9 807.9 L226.0 806.6 L227.1 805.3 L228.2 805.0 L229.3 803.4 L230.4 802.8 L231.5 801.7 L232.6 800.0 L233.7 799.8 L234.8 798.4 L236.0 797.8 L237.1 796.2 L238.2 795.7 L239.3 794.8 L240.4 794.3 L241.5 793.2 L242.6 792.2 L243.7 791.6 L244.8 790.8 L245.9 789.8 L247.0 789.7 L248.1 788.6 L249.2 788.4 L250.3 787.4 L251.4 787.4 L252.5 786.6 L253.6 786.1 L254.7 785.6 L255.8 784.7 L256.9 784.4 L258.0 783.7 L259.1 783.0 L260.2 782.9 L261.3 783.1 L262.4 782.0 L263.5 781.7 L264.6 782.2 L265.7 782.1 L266.8 781.1 L267.9 780.7 L269.0 781.3 L270.1 780.5 L271.2 780.3 L272.3 780.6 L273.4 783.8 L274.5 780.9 L275.6 779.8 L276.7 780.2 L277.8 779.0 L278.9 779.8 L280.0 777.7 L281.1 780.1 L282.2 781.2 L283.3 780.3 L284.4 778.8 L285.5 779.3 L286.6 779.3 L287.7 779.4 L288.8 779.5 L289.9 779.9 L291.0 780.5 L292.1 782.9 L293.2 781.4 L294.3 780.2 L295.4 780.2 L296.5 778.9 L297.6 780.8 L298.7 779.8 L299.8 779.4 L300.9 779.2 L302.0 779.7 L303.1 779.3 L304.2 779.2 L305.3 780.3 L306.4 779.4 L307.5 780.8 L308.6 780.5 L309.7 780.6 L310.8 778.4 L311.9 779.1 L313.0 779.5 L314.1 779.2 L315.2 780.8 L316.3 781.2 L317.4 777.9 L318.5 780.6 L319.6 779.8 L320.7 780.0 L321.8 779.2 L322.9 778.3 L324.0 780.9 L325.1 781.1 L326.2 781.1 L327.3 781.1 L328.4 781.0 L329.5 778.9 L330.6 780.1 L331.7 781.5 L332.8 780.4 L333.9 779.6 L335.0 779.3 L336.1 779.9 L337.2 780.6 L338.3 779.9 L339.4 779.6 L340.5 779.6 L341.6 779.0 L342.7 781.0 L343.8 780.1 L344.9 779.8 L346.0 780.5 L347.1 781.4 L348.2 780.1 L349.3 780.7 L350.4 779.6 L351.5 780.6 L352.6 780.9 L353.7 781.5 L354.8 780.2 L355.9 780.0 L357.0 779.6 L358.1 781.3 L359.2 780.1 L360.3 780.2 L361.4 781.4 L362.5 780.0 L363.6 780.2 L364.7 781.0 L365.8 780.6 L366.9 780.4 L368.0 780.9 L369.1 780.1 L370.2 780.2 L371.3 781.4 L372.4 780.2 L373.5 781.9 L374.6 781.2 L375.7 779.8 L376.8 780.7 L377.9 782.2 L379.0 781.1 L380.1 779.4 L381.2 778.0 L382.3 780.2 L383.4 780.1 L384.5 780.8 L385.6 780.1 L386.7 781.5 L387.8 780.8 L388.9 780.2 L390.0 780.6 L391.1 781.4 L392.2 779.9 L393.3 780.7 L394.4 781.1 L395.5 781.3 L396.6 780.9 L397.7 782.2 L398.8 781.6 L399.9 782.0 L401.0 781.4 L402.1 780.9 L403.2 781.6 L404.3 780.9 L405.4 780.8 L406.5 780.2 L407.6 780.5 L408.7 781.9 L409.8 781.4 L410.9 780.5 L412.0 781.4 L413.1 780.8 L414.2 781.2 L415.3 781.7 L416.4 782.1 L417.5 780.8 L418.6 781.2 L419.7 780.7 L420.8 782.2 L421.9 782.8 L423.0 780.5 L424.1 779.7 L425.2 781.6 L426.3 781.1 L427.4 780.7 L428.5 782.9 L429.6 781.1 L430.7 781.7 L431.8 782.1 L432.9 779.8 L434.0 781.5 L435.1 780.9 L436.2 780.6 L437.3 781.1 L438.4 780.6 L439.5 782.5 L440.6 779.4 L441.7 782.1 L442.8 781.1 L443.9 780.5 L445.0 782.1 L446.1 781.9 L447.2 781.6 L448.3 781.2 L449.4 781.0 L450.5 781.2 L451.6 781.8 L452.7 782.5 L453.8 782.3 L454.9 780.7 L456.1 781.7 L457.2 781.8 L458.3 780.7 L459.4 781.7 L460.5 781.4 L461.6 780.2 L462.7 782.2 L463.8 780.3 L464.9 781.3 L466.0 783.2 L467.1 781.1 L468.2 781.7 L469.3 781.8 L470.4 782.0 L471.5 781.3 L472.6 781.3 L473.7 782.6 L474.8 782.2 L475.9 776.2 L477.0 779.0 L478.1 781.9 L479.2 781.1 L480.3 781.1 L481.4 782.0 L482.5 783.5 L483.6 783.5 L484.7 780.9 L485.8 781.5 L486.9 781.6 L488.0 782.1 L489.1 783.5 L490.2 781.6 L491.3 781.4 L492.4 781.2 L492.9 785.3 L493.5 793.0 L494.0 822.1 L494.6 893.9 L495.1 942.3 L495.7 943.6 L496.2 944.5 L496.8 945.4 L497.3 946.9 L498.4 948.4 L499.5 952.0 L500.6 951.2 L501.7 951.7 L502.8 952.8 L503.9 952.5 L505.0 952.9 L506.1 953.8 L507.2 954.7 L508.3 954.2 L509.4 954.7 L510.5 952.5 L511.6 947.3 L512.7 945.0 L513.8 942.1 L514.9 940.5 L516.0 938.4 L517.1 936.6 L518.2 935.2 L519.3 935.5 L520.4 935.1 L521.5 934.4 L522.6 933.0 L523.7 933.1 L524.8 931.8 L525.9 931.6 L527.0 931.5 L528.1 931.1 L529.2 932.1 L530.3 931.9 L531.4 932.2 L532.5 930.5 L533.6 931.6 L534.7 930.2 L535.8 930.4 L536.9 929.1 L538.0 930.0 L539.1 929.1 L540.2 929.1 L541.3 929.9 L542.4 928.5 L543.5 930.1 L544.6 929.7 L545.7 930.3 L546.8 928.8 L547.9 929.6 L549.0 928.1 L550.1 931.3 L551.2 928.7 L552.3 928.1 L553.4 930.2 L554.5 929.7 L555.6 928.6 L556.7 927.8 L557.8 929.4 L558.9 928.3 L560.0 929.5 L561.1 928.6 L562.2 928.3 L563.3 928.8 L564.4 929.6" fill="none" stroke="#3f78c4" stroke-width="2.3" stroke-linejoin="round"/>
<line x1="154.6" y1="915.5" x2="140.0" y2="739.6" stroke="#3d6fc0" stroke-width="2.2"/>
<polygon points="139.3,731.1 143.7,739.3 136.3,739.9" fill="#3d6fc0"/>
<line x1="215.7" y1="806.4" x2="245.4" y2="738.9" stroke="#3d6fc0" stroke-width="2.2"/>
<polygon points="248.8,731.1 248.8,740.4 242.0,737.4" fill="#3d6fc0"/>
<line x1="402.7" y1="771.1" x2="403.6" y2="739.6" stroke="#3d6fc0" stroke-width="2.2"/>
<polygon points="403.8,731.1 407.3,739.7 399.9,739.5" fill="#3d6fc0"/>
<line x1="506.7" y1="936.6" x2="545.8" y2="739.5" stroke="#3d6fc0" stroke-width="2.2"/>
<polygon points="547.5,731.1 549.4,740.2 542.2,738.7" fill="#3d6fc0"/>
<rect x="723.6" y="160.9" width="314.3" height="22.7" fill="#ffd966"/>
<rect x="723.9" y="211.5" width="314.1" height="168.2" fill="url(#dBg)"/>
<polygon points="743.1,290.2 828.5,352.7 829.1,365.5 744.4,300.7" fill="#dedede"/>
<polygon points="828.5,352.7 1019.6,340.2 1020.6,353.2 829.1,365.5" fill="#efefef"/>
<polygon points="742.5,287.2 828.2,348.7 828.5,353.1 743.1,290.7" fill="#b58d1e"/>
<polygon points="828.2,348.7 1019.4,338.6 1019.7,340.8 828.5,353.1" fill="#b58d1e"/>
<polygon points="740.9,266.7 768.0,264.7 782.9,274.6 795.2,273.7 795.2,262.7 822.3,260.7 837.2,270.5 849.4,269.6 849.4,258.6 876.5,256.6 891.5,266.5 903.7,265.6 903.7,254.6 930.8,252.6 1017.8,312.6 990.7,314.6 990.7,325.6 963.5,327.6 963.5,316.6 936.4,318.6 936.4,329.6 909.3,331.7 909.3,320.7 882.2,322.7 882.2,333.7 855.0,335.7 855.0,324.7 827.9,326.7" fill="#dcb04a"/>
<polygon points="882.2,322.7 795.2,262.7 795.2,273.7 882.2,333.7" fill="#ffe285"/>
<polygon points="936.4,318.6 849.4,258.6 849.4,269.6 936.4,329.6" fill="#ffe285"/>
<polygon points="990.7,314.6 903.7,254.6 903.7,265.6 990.7,325.6" fill="#ffe285"/>
<polygon points="827.9,326.7 740.9,266.7 742.5,287.7 828.2,349.0" fill="#ffdc6e"/>
<polygon points="827.9,326.7 855.0,324.7 855.0,335.7 882.2,333.7 882.2,322.7 909.3,320.7 909.3,331.7 936.4,329.6 936.4,318.6 963.5,316.6 963.5,327.6 990.7,325.6 990.7,314.6 1017.8,312.6 1019.4,338.8 828.2,349.0" fill="#ffd962"/>
<g clip-path="url(#dClip)">
<line x1="770" y1="198" x2="868" y2="274.5" stroke="#ff2a2a" stroke-width="30" opacity="0.55" filter="url(#dBlur)"/>
<line x1="880" y1="272" x2="940" y2="201" stroke="#2d8fe6" stroke-width="26" opacity="0.6" filter="url(#dBlur)"/>
<line x1="772" y1="199.6" x2="868" y2="274.5" stroke="#ff1010" stroke-width="9" opacity="0.55" filter="url(#dBlur2)"/>
<line x1="787.8" y1="211.9" x2="867" y2="273.7" stroke="#ff1414" stroke-width="2.8"/>
<polygon points="873.5,278.7 862.3,275.2 867.2,268.9" fill="#ff1414"/>
<line x1="875.5" y1="277" x2="925" y2="218.2" stroke="#1f7fd6" stroke-width="2.8"/>
<polygon points="930.4,212 927.9,222.3 921.6,217" fill="#1f7fd6"/>
</g>
<g transform="translate(754.7 253.5)"><circle r="6.4" fill="#a89c9c"/><circle r="6.2" fill="none" stroke="#a81c26" stroke-width="2.6" stroke-dasharray="2.1 1.1"/><circle r="3.6" fill="none" stroke="#b42a32" stroke-width="1.6" stroke-dasharray="1.5 1.5"/><circle r="1" fill="#c03038"/></g>
<g transform="translate(803.5 262.5)"><circle r="6.4" fill="#a89c9c"/><circle r="6.2" fill="none" stroke="#a81c26" stroke-width="2.6" stroke-dasharray="2.1 1.1"/><circle r="3.6" fill="none" stroke="#b42a32" stroke-width="1.6" stroke-dasharray="1.5 1.5"/><circle r="1" fill="#c03038"/></g>
<g transform="translate(854.4 273.7)"><circle r="6.4" fill="#a89c9c"/><circle r="6.2" fill="none" stroke="#a81c26" stroke-width="2.6" stroke-dasharray="2.1 1.1"/><circle r="3.6" fill="none" stroke="#b42a32" stroke-width="1.6" stroke-dasharray="1.5 1.5"/><circle r="1" fill="#c03038"/></g>
<g transform="translate(881.4 286.2)"><circle r="6.4" fill="#a89c9c"/><circle r="6.2" fill="none" stroke="#a81c26" stroke-width="2.6" stroke-dasharray="2.1 1.1"/><circle r="3.6" fill="none" stroke="#b42a32" stroke-width="1.6" stroke-dasharray="1.5 1.5"/><circle r="1" fill="#c03038"/></g>
<g transform="translate(942.9 283.5)"><circle r="6.4" fill="#a89c9c"/><circle r="6.2" fill="none" stroke="#a81c26" stroke-width="2.6" stroke-dasharray="2.1 1.1"/><circle r="3.6" fill="none" stroke="#b42a32" stroke-width="1.6" stroke-dasharray="1.5 1.5"/><circle r="1" fill="#c03038"/></g>
<g transform="translate(984.9 274.2)"><circle r="6.4" fill="#a89c9c"/><circle r="6.2" fill="none" stroke="#a81c26" stroke-width="2.6" stroke-dasharray="2.1 1.1"/><circle r="3.6" fill="none" stroke="#b42a32" stroke-width="1.6" stroke-dasharray="1.5 1.5"/><circle r="1" fill="#c03038"/></g>
<g transform="translate(825.7 310.5)"><circle r="6.4" fill="#a89c9c"/><circle r="6.2" fill="none" stroke="#a81c26" stroke-width="2.6" stroke-dasharray="2.1 1.1"/><circle r="3.6" fill="none" stroke="#b42a32" stroke-width="1.6" stroke-dasharray="1.5 1.5"/><circle r="1" fill="#c03038"/></g>
<g transform="translate(903.9 318.0)"><circle r="6.4" fill="#a89c9c"/><circle r="6.2" fill="none" stroke="#a81c26" stroke-width="2.6" stroke-dasharray="2.1 1.1"/><circle r="3.6" fill="none" stroke="#b42a32" stroke-width="1.6" stroke-dasharray="1.5 1.5"/><circle r="1" fill="#c03038"/></g>
<g transform="translate(942.1 311.7)"><circle r="6.4" fill="#a89c9c"/><circle r="6.2" fill="none" stroke="#a81c26" stroke-width="2.6" stroke-dasharray="2.1 1.1"/><circle r="3.6" fill="none" stroke="#b42a32" stroke-width="1.6" stroke-dasharray="1.5 1.5"/><circle r="1" fill="#c03038"/></g>
<g transform="translate(988.2 317.7)"><circle r="6.4" fill="#a89c9c"/><circle r="6.2" fill="none" stroke="#a81c26" stroke-width="2.6" stroke-dasharray="2.1 1.1"/><circle r="3.6" fill="none" stroke="#b42a32" stroke-width="1.6" stroke-dasharray="1.5 1.5"/><circle r="1" fill="#c03038"/></g>
<path d="M723.9 182.5 L803.7 304.6 M1035.5 183.5 L848 306.5" fill="none" stroke="#111" stroke-width="1.3" stroke-dasharray="5 3"/>
<polygon points="803.7,304.6 819.7,292.7 843.6,309.6 830.6,323.6" fill="none" stroke="#111" stroke-width="1.3" stroke-dasharray="5 3"/>
<g transform="translate(811.7 0)">
<ellipse cx="0" cy="158.4" rx="16.3" ry="2.6" fill="#2f9fe0" stroke="#174a80" stroke-width="0.7"/>
<path d="M-14.6 141.8 C-17.5 150 -14 157.2 -3 157.2 L5 157.2 C14 157.2 19 150 16.5 141 L4 148.5 Z" fill="#e4620e"/>
<path d="M-11 118 L2 116.5 L9 124 L7.5 140 L3 147.5 L-6 147 L-9 136 L-12 127 Z" fill="#1cb0c4"/>
<path d="M6 119 L15 118 L17.5 127 L15 138 L8 140.5 L5 131 Z" fill="#109a56"/>
<circle cx="0.6" cy="139.5" r="2.8" fill="#1fb6c9"/>
<circle cx="5.1" cy="140.6" r="2.2" fill="#1fb6c9"/>
<circle cx="6.4" cy="120.0" r="2.4" fill="#25c6d6"/>
<circle cx="-4.5" cy="119.7" r="2.2" fill="#25c6d6"/>
<circle cx="-3.9" cy="122.1" r="2.9" fill="#1aa7bb"/>
<circle cx="-9.1" cy="141.2" r="2.1" fill="#1aa7bb"/>
<circle cx="-9.8" cy="116.6" r="2.9" fill="#25c6d6"/>
<circle cx="3.7" cy="146.3" r="2.1" fill="#25c6d6"/>
<circle cx="-6.4" cy="146.3" r="2.5" fill="#25c6d6"/>
<circle cx="-8.7" cy="146.5" r="2.1" fill="#1aa7bb"/>
<circle cx="-6.2" cy="127.7" r="2.1" fill="#25c6d6"/>
<circle cx="-7.0" cy="126.8" r="2.8" fill="#1fb6c9"/>
<circle cx="0.0" cy="138.4" r="2.0" fill="#1597ac"/>
<circle cx="4.7" cy="131.4" r="2.2" fill="#1aa7bb"/>
<circle cx="-2.6" cy="122.0" r="2.2" fill="#1fb6c9"/>
<circle cx="7.4" cy="127.6" r="2.3" fill="#1aa7bb"/>
<circle cx="-4.8" cy="134.4" r="1.9" fill="#1fb6c9"/>
<circle cx="2.4" cy="135.8" r="2.9" fill="#1fb6c9"/>
<circle cx="3.4" cy="145.3" r="2.9" fill="#1597ac"/>
<circle cx="-1.7" cy="144.2" r="2.2" fill="#1aa7bb"/>
<circle cx="4.2" cy="143.2" r="1.9" fill="#1fb6c9"/>
<circle cx="-8.1" cy="132.4" r="2.3" fill="#25c6d6"/>
<circle cx="-5.4" cy="145.2" r="2.5" fill="#1597ac"/>
<circle cx="1.9" cy="126.0" r="2.8" fill="#25c6d6"/>
<circle cx="2.6" cy="126.1" r="2.4" fill="#1fb6c9"/>
<circle cx="6.9" cy="117.5" r="2.7" fill="#1597ac"/>
<circle cx="4.9" cy="130.6" r="2.4" fill="#1fb6c9"/>
<circle cx="8.1" cy="136.3" r="2.8" fill="#1597ac"/>
<circle cx="5.1" cy="120.5" r="2.7" fill="#25c6d6"/>
<circle cx="0.7" cy="140.9" r="2.0" fill="#1aa7bb"/>
<circle cx="-4.7" cy="118.3" r="2.4" fill="#25c6d6"/>
<circle cx="-3.0" cy="147.5" r="2.8" fill="#1aa7bb"/>
<circle cx="7.7" cy="137.9" r="2.2" fill="#1597ac"/>
<circle cx="-6.4" cy="129.0" r="2.1" fill="#1aa7bb"/>
<circle cx="4.8" cy="133.0" r="2.1" fill="#1aa7bb"/>
<circle cx="5.7" cy="122.1" r="2.4" fill="#1597ac"/>
<circle cx="-5.0" cy="134.7" r="1.9" fill="#1597ac"/>
<circle cx="9.6" cy="133.6" r="2.1" fill="#0e8c4c"/>
<circle cx="8.5" cy="139.6" r="2.5" fill="#0b7d43"/>
<circle cx="12.8" cy="131.0" r="1.8" fill="#0b7d43"/>
<circle cx="9.2" cy="124.4" r="2.1" fill="#0b7d43"/>
<circle cx="9.4" cy="132.3" r="2.5" fill="#0e8c4c"/>
<circle cx="9.5" cy="136.6" r="2.7" fill="#0e8c4c"/>
<circle cx="16.5" cy="139.1" r="2.3" fill="#13a862"/>
<circle cx="7.7" cy="126.3" r="2.7" fill="#0b7d43"/>
<circle cx="13.3" cy="134.0" r="2.5" fill="#13a862"/>
<circle cx="12.5" cy="138.6" r="2.3" fill="#0e8c4c"/>
<circle cx="8.9" cy="130.4" r="2.7" fill="#0b7d43"/>
<circle cx="13.6" cy="119.1" r="2.0" fill="#0e8c4c"/>
<circle cx="12.6" cy="122.4" r="2.6" fill="#13a862"/>
<circle cx="12.6" cy="119.4" r="2.3" fill="#13a862"/>
<circle cx="7.4" cy="137.7" r="1.9" fill="#13a862"/>
<circle cx="11.0" cy="130.3" r="2.2" fill="#0b7d43"/>
<circle cx="9.8" cy="131.7" r="2.4" fill="#13a862"/>
<circle cx="13.6" cy="126.5" r="2.2" fill="#0b7d43"/>
<circle cx="15.2" cy="137.1" r="2.5" fill="#0b7d43"/>
<circle cx="16.4" cy="130.3" r="2.1" fill="#0b7d43"/>
<circle cx="11.7" cy="125.8" r="2.4" fill="#0b7d43"/>
<circle cx="14.7" cy="127.5" r="2.6" fill="#0b7d43"/>
<circle cx="-7" cy="117.5" r="3" fill="#8f9bd0"/>
</g>
<g transform="translate(881.7 0)">
<ellipse cx="0" cy="158.4" rx="16.3" ry="2.6" fill="#2f9fe0" stroke="#174a80" stroke-width="0.7"/>
<path d="M-14.6 141.8 C-17.5 150 -14 157.2 -3 157.2 L5 157.2 C14 157.2 19 150 16.5 141 L4 148.5 Z" fill="#e4620e"/>
<path d="M-11 118 L2 116.5 L9 124 L7.5 140 L3 147.5 L-6 147 L-9 136 L-12 127 Z" fill="#1cb0c4"/>
<path d="M6 119 L15 118 L17.5 127 L15 138 L8 140.5 L5 131 Z" fill="#109a56"/>
<circle cx="0.6" cy="139.5" r="2.8" fill="#1fb6c9"/>
<circle cx="5.1" cy="140.6" r="2.2" fill="#1fb6c9"/>
<circle cx="6.4" cy="120.0" r="2.4" fill="#25c6d6"/>
<circle cx="-4.5" cy="119.7" r="2.2" fill="#25c6d6"/>
<circle cx="-3.9" cy="122.1" r="2.9" fill="#1aa7bb"/>
<circle cx="-9.1" cy="141.2" r="2.1" fill="#1aa7bb"/>
<circle cx="-9.8" cy="116.6" r="2.9" fill="#25c6d6"/>
<circle cx="3.7" cy="146.3" r="2.1" fill="#25c6d6"/>
<circle cx="-6.4" cy="146.3" r="2.5" fill="#25c6d6"/>
<circle cx="-8.7" cy="146.5" r="2.1" fill="#1aa7bb"/>
<circle cx="-6.2" cy="127.7" r="2.1" fill="#25c6d6"/>
<circle cx="-7.0" cy="126.8" r="2.8" fill="#1fb6c9"/>
<circle cx="0.0" cy="138.4" r="2.0" fill="#1597ac"/>
<circle cx="4.7" cy="131.4" r="2.2" fill="#1aa7bb"/>
<circle cx="-2.6" cy="122.0" r="2.2" fill="#1fb6c9"/>
<circle cx="7.4" cy="127.6" r="2.3" fill="#1aa7bb"/>
<circle cx="-4.8" cy="134.4" r="1.9" fill="#1fb6c9"/>
<circle cx="2.4" cy="135.8" r="2.9" fill="#1fb6c9"/>
<circle cx="3.4" cy="145.3" r="2.9" fill="#1597ac"/>
<circle cx="-1.7" cy="144.2" r="2.2" fill="#1aa7bb"/>
<circle cx="4.2" cy="143.2" r="1.9" fill="#1fb6c9"/>
<circle cx="-8.1" cy="132.4" r="2.3" fill="#25c6d6"/>
<circle cx="-5.4" cy="145.2" r="2.5" fill="#1597ac"/>
<circle cx="1.9" cy="126.0" r="2.8" fill="#25c6d6"/>
<circle cx="2.6" cy="126.1" r="2.4" fill="#1fb6c9"/>
<circle cx="6.9" cy="117.5" r="2.7" fill="#1597ac"/>
<circle cx="4.9" cy="130.6" r="2.4" fill="#1fb6c9"/>
<circle cx="8.1" cy="136.3" r="2.8" fill="#1597ac"/>
<circle cx="5.1" cy="120.5" r="2.7" fill="#25c6d6"/>
<circle cx="0.7" cy="140.9" r="2.0" fill="#1aa7bb"/>
<circle cx="-4.7" cy="118.3" r="2.4" fill="#25c6d6"/>
<circle cx="-3.0" cy="147.5" r="2.8" fill="#1aa7bb"/>
<circle cx="7.7" cy="137.9" r="2.2" fill="#1597ac"/>
<circle cx="-6.4" cy="129.0" r="2.1" fill="#1aa7bb"/>
<circle cx="4.8" cy="133.0" r="2.1" fill="#1aa7bb"/>
<circle cx="5.7" cy="122.1" r="2.4" fill="#1597ac"/>
<circle cx="-5.0" cy="134.7" r="1.9" fill="#1597ac"/>
<circle cx="9.6" cy="133.6" r="2.1" fill="#0e8c4c"/>
<circle cx="8.5" cy="139.6" r="2.5" fill="#0b7d43"/>
<circle cx="12.8" cy="131.0" r="1.8" fill="#0b7d43"/>
<circle cx="9.2" cy="124.4" r="2.1" fill="#0b7d43"/>
<circle cx="9.4" cy="132.3" r="2.5" fill="#0e8c4c"/>
<circle cx="9.5" cy="136.6" r="2.7" fill="#0e8c4c"/>
<circle cx="16.5" cy="139.1" r="2.3" fill="#13a862"/>
<circle cx="7.7" cy="126.3" r="2.7" fill="#0b7d43"/>
<circle cx="13.3" cy="134.0" r="2.5" fill="#13a862"/>
<circle cx="12.5" cy="138.6" r="2.3" fill="#0e8c4c"/>
<circle cx="8.9" cy="130.4" r="2.7" fill="#0b7d43"/>
<circle cx="13.6" cy="119.1" r="2.0" fill="#0e8c4c"/>
<circle cx="12.6" cy="122.4" r="2.6" fill="#13a862"/>
<circle cx="12.6" cy="119.4" r="2.3" fill="#13a862"/>
<circle cx="7.4" cy="137.7" r="1.9" fill="#13a862"/>
<circle cx="11.0" cy="130.3" r="2.2" fill="#0b7d43"/>
<circle cx="9.8" cy="131.7" r="2.4" fill="#13a862"/>
<circle cx="13.6" cy="126.5" r="2.2" fill="#0b7d43"/>
<circle cx="15.2" cy="137.1" r="2.5" fill="#0b7d43"/>
<circle cx="16.4" cy="130.3" r="2.1" fill="#0b7d43"/>
<circle cx="11.7" cy="125.8" r="2.4" fill="#0b7d43"/>
<circle cx="14.7" cy="127.5" r="2.6" fill="#0b7d43"/>
<circle cx="-7" cy="117.5" r="3" fill="#8f9bd0"/>
</g>
<g transform="translate(960.7 0)">
<ellipse cx="0" cy="158.4" rx="16.3" ry="2.6" fill="#2f9fe0" stroke="#174a80" stroke-width="0.7"/>
<path d="M-14.6 141.8 C-17.5 150 -14 157.2 -3 157.2 L5 157.2 C14 157.2 19 150 16.5 141 L4 148.5 Z" fill="#e4620e"/>
<path d="M-11 118 L2 116.5 L9 124 L7.5 140 L3 147.5 L-6 147 L-9 136 L-12 127 Z" fill="#1cb0c4"/>
<path d="M6 119 L15 118 L17.5 127 L15 138 L8 140.5 L5 131 Z" fill="#109a56"/>
<circle cx="0.6" cy="139.5" r="2.8" fill="#1fb6c9"/>
<circle cx="5.1" cy="140.6" r="2.2" fill="#1fb6c9"/>
<circle cx="6.4" cy="120.0" r="2.4" fill="#25c6d6"/>
<circle cx="-4.5" cy="119.7" r="2.2" fill="#25c6d6"/>
<circle cx="-3.9" cy="122.1" r="2.9" fill="#1aa7bb"/>
<circle cx="-9.1" cy="141.2" r="2.1" fill="#1aa7bb"/>
<circle cx="-9.8" cy="116.6" r="2.9" fill="#25c6d6"/>
<circle cx="3.7" cy="146.3" r="2.1" fill="#25c6d6"/>
<circle cx="-6.4" cy="146.3" r="2.5" fill="#25c6d6"/>
<circle cx="-8.7" cy="146.5" r="2.1" fill="#1aa7bb"/>
<circle cx="-6.2" cy="127.7" r="2.1" fill="#25c6d6"/>
<circle cx="-7.0" cy="126.8" r="2.8" fill="#1fb6c9"/>
<circle cx="0.0" cy="138.4" r="2.0" fill="#1597ac"/>
<circle cx="4.7" cy="131.4" r="2.2" fill="#1aa7bb"/>
<circle cx="-2.6" cy="122.0" r="2.2" fill="#1fb6c9"/>
<circle cx="7.4" cy="127.6" r="2.3" fill="#1aa7bb"/>
<circle cx="-4.8" cy="134.4" r="1.9" fill="#1fb6c9"/>
<circle cx="2.4" cy="135.8" r="2.9" fill="#1fb6c9"/>
<circle cx="3.4" cy="145.3" r="2.9" fill="#1597ac"/>
<circle cx="-1.7" cy="144.2" r="2.2" fill="#1aa7bb"/>
<circle cx="4.2" cy="143.2" r="1.9" fill="#1fb6c9"/>
<circle cx="-8.1" cy="132.4" r="2.3" fill="#25c6d6"/>
<circle cx="-5.4" cy="145.2" r="2.5" fill="#1597ac"/>
<circle cx="1.9" cy="126.0" r="2.8" fill="#25c6d6"/>
<circle cx="2.6" cy="126.1" r="2.4" fill="#1fb6c9"/>
<circle cx="6.9" cy="117.5" r="2.7" fill="#1597ac"/>
<circle cx="4.9" cy="130.6" r="2.4" fill="#1fb6c9"/>
<circle cx="8.1" cy="136.3" r="2.8" fill="#1597ac"/>
<circle cx="5.1" cy="120.5" r="2.7" fill="#25c6d6"/>
<circle cx="0.7" cy="140.9" r="2.0" fill="#1aa7bb"/>
<circle cx="-4.7" cy="118.3" r="2.4" fill="#25c6d6"/>
<circle cx="-3.0" cy="147.5" r="2.8" fill="#1aa7bb"/>
<circle cx="7.7" cy="137.9" r="2.2" fill="#1597ac"/>
<circle cx="-6.4" cy="129.0" r="2.1" fill="#1aa7bb"/>
<circle cx="4.8" cy="133.0" r="2.1" fill="#1aa7bb"/>
<circle cx="5.7" cy="122.1" r="2.4" fill="#1597ac"/>
<circle cx="-5.0" cy="134.7" r="1.9" fill="#1597ac"/>
<circle cx="9.6" cy="133.6" r="2.1" fill="#0e8c4c"/>
<circle cx="8.5" cy="139.6" r="2.5" fill="#0b7d43"/>
<circle cx="12.8" cy="131.0" r="1.8" fill="#0b7d43"/>
<circle cx="9.2" cy="124.4" r="2.1" fill="#0b7d43"/>
<circle cx="9.4" cy="132.3" r="2.5" fill="#0e8c4c"/>
<circle cx="9.5" cy="136.6" r="2.7" fill="#0e8c4c"/>
<circle cx="16.5" cy="139.1" r="2.3" fill="#13a862"/>
<circle cx="7.7" cy="126.3" r="2.7" fill="#0b7d43"/>
<circle cx="13.3" cy="134.0" r="2.5" fill="#13a862"/>
<circle cx="12.5" cy="138.6" r="2.3" fill="#0e8c4c"/>
<circle cx="8.9" cy="130.4" r="2.7" fill="#0b7d43"/>
<circle cx="13.6" cy="119.1" r="2.0" fill="#0e8c4c"/>
<circle cx="12.6" cy="122.4" r="2.6" fill="#13a862"/>
<circle cx="12.6" cy="119.4" r="2.3" fill="#13a862"/>
<circle cx="7.4" cy="137.7" r="1.9" fill="#13a862"/>
<circle cx="11.0" cy="130.3" r="2.2" fill="#0b7d43"/>
<circle cx="9.8" cy="131.7" r="2.4" fill="#13a862"/>
<circle cx="13.6" cy="126.5" r="2.2" fill="#0b7d43"/>
<circle cx="15.2" cy="137.1" r="2.5" fill="#0b7d43"/>
<circle cx="16.4" cy="130.3" r="2.1" fill="#0b7d43"/>
<circle cx="11.7" cy="125.8" r="2.4" fill="#0b7d43"/>
<circle cx="14.7" cy="127.5" r="2.6" fill="#0b7d43"/>
<circle cx="-7" cy="117.5" r="3" fill="#8f9bd0"/>
</g>
<g transform="translate(818.7 93) scale(1 0.86)"><circle r="24.5" fill="url(#dVg)"/><line x1="12.1" y1="13.6" x2="14.2" y2="11.7" stroke="#e8e8e8" stroke-width="1.1" opacity="0.8"/><line x1="-11.1" y1="0.3" x2="-9.9" y2="2.6" stroke="#e8e8e8" stroke-width="1.1" opacity="0.8"/><line x1="2.9" y1="2.0" x2="5.6" y2="1.4" stroke="#e8e8e8" stroke-width="1.1" opacity="0.8"/><line x1="0.2" y1="-3.0" x2="-0.2" y2="-1.3" stroke="#e8e8e8" stroke-width="1.1" opacity="0.8"/><line x1="2.7" y1="19.8" x2="5.9" y2="16.1" stroke="#e8e8e8" stroke-width="1.1" opacity="0.8"/><line x1="12.6" y1="2.0" x2="16.1" y2="1.1" stroke="#e8e8e8" stroke-width="1.1" opacity="0.8"/><line x1="2.2" y1="10.4" x2="-1.6" y2="8.1" stroke="#e8e8e8" stroke-width="1.1" opacity="0.8"/><line x1="-11.0" y1="4.5" x2="-13.2" y2="2.4" stroke="#e8e8e8" stroke-width="1.1" opacity="0.8"/><line x1="2.2" y1="11.1" x2="0.5" y2="7.2" stroke="#e8e8e8" stroke-width="1.1" opacity="0.8"/><line x1="6.8" y1="-11.1" x2="7.9" y2="-13.6" stroke="#e8e8e8" stroke-width="1.1" opacity="0.8"/><line x1="18.5" y1="-0.9" x2="15.4" y2="-2.2" stroke="#e8e8e8" stroke-width="1.1" opacity="0.8"/><line x1="-2.8" y1="-15.5" x2="0.7" y2="-16.2" stroke="#e8e8e8" stroke-width="1.1" opacity="0.8"/><line x1="7.3" y1="-13.2" x2="5.7" y2="-12.5" stroke="#e8e8e8" stroke-width="1.1" opacity="0.8"/><line x1="13.5" y1="-12.3" x2="13.5" y2="-11.6" stroke="#e8e8e8" stroke-width="1.1" opacity="0.8"/><line x1="7.2" y1="1.6" x2="9.6" y2="0.9" stroke="#e8e8e8" stroke-width="1.1" opacity="0.8"/><line x1="6.0" y1="11.4" x2="7.6" y2="12.8" stroke="#e8e8e8" stroke-width="1.1" opacity="0.8"/><line x1="-7.7" y1="7.7" x2="-7.6" y2="10.0" stroke="#e8e8e8" stroke-width="1.1" opacity="0.8"/><line x1="-10.0" y1="-1.3" x2="-10.1" y2="-5.1" stroke="#e8e8e8" stroke-width="1.1" opacity="0.8"/><line x1="15.1" y1="4.2" x2="18.9" y2="5.0" stroke="#e8e8e8" stroke-width="1.1" opacity="0.8"/><line x1="-4.8" y1="3.8" x2="-4.7" y2="7.6" stroke="#e8e8e8" stroke-width="1.1" opacity="0.8"/><line x1="1.6" y1="-12.6" x2="4.5" y2="-14.8" stroke="#e8e8e8" stroke-width="1.1" opacity="0.8"/><line x1="-20.1" y1="-1.7" x2="-19.4" y2="-2.1" stroke="#e8e8e8" stroke-width="1.1" opacity="0.8"/><line x1="-1.6" y1="12.8" x2="2.1" y2="8.8" stroke="#e8e8e8" stroke-width="1.1" opacity="0.8"/><line x1="3.7" y1="-17.4" x2="6.8" y2="-15.4" stroke="#e8e8e8" stroke-width="1.1" opacity="0.8"/><line x1="4.5" y1="-11.5" x2="5.0" y2="-12.1" stroke="#e8e8e8" stroke-width="1.1" opacity="0.8"/><line x1="17.5" y1="6.4" x2="18.1" y2="4.0" stroke="#e8e8e8" stroke-width="1.1" opacity="0.8"/><circle cx="25.3" cy="0.0" r="3.0" fill="#b01818"/><circle cx="24.2" cy="-0.8" r="1.5" fill="#e23a30"/><circle cx="24.8" cy="5.5" r="3.3" fill="#b01818"/><circle cx="23.7" cy="4.6" r="1.5" fill="#e23a30"/><circle cx="22.1" cy="12.1" r="2.7" fill="#b01818"/><circle cx="21.1" cy="11.1" r="1.5" fill="#e23a30"/><circle cx="19.0" cy="15.5" r="3.2" fill="#b01818"/><circle cx="18.1" cy="14.3" r="1.5" fill="#e23a30"/><circle cx="13.5" cy="22.2" r="3.4" fill="#b01818"/><circle cx="12.7" cy="21.0" r="1.5" fill="#e23a30"/><circle cx="7.6" cy="23.5" r="3.5" fill="#b01818"/><circle cx="6.8" cy="22.2" r="1.5" fill="#e23a30"/><circle cx="2.3" cy="24.2" r="2.7" fill="#b01818"/><circle cx="1.6" cy="22.9" r="1.5" fill="#e23a30"/><circle cx="-1.1" cy="25.9" r="2.9" fill="#b01818"/><circle cx="-1.7" cy="24.6" r="1.5" fill="#e23a30"/><circle cx="-7.6" cy="24.5" r="3.0" fill="#b01818"/><circle cx="-8.0" cy="23.2" r="1.5" fill="#e23a30"/><circle cx="-12.5" cy="21.1" r="3.2" fill="#b01818"/><circle cx="-12.8" cy="19.8" r="1.5" fill="#e23a30"/><circle cx="-17.6" cy="17.4" r="3.3" fill="#b01818"/><circle cx="-17.9" cy="16.2" r="1.5" fill="#e23a30"/><circle cx="-21.9" cy="11.7" r="3.1" fill="#b01818"/><circle cx="-22.1" cy="10.7" r="1.5" fill="#e23a30"/><circle cx="-23.8" cy="7.8" r="3.1" fill="#b01818"/><circle cx="-23.9" cy="6.9" r="1.5" fill="#e23a30"/><circle cx="-24.3" cy="1.2" r="3.5" fill="#b01818"/><circle cx="-24.4" cy="0.4" r="1.5" fill="#e23a30"/><circle cx="-23.9" cy="-5.9" r="3.2" fill="#b01818"/><circle cx="-24.0" cy="-6.6" r="1.5" fill="#e23a30"/><circle cx="-20.8" cy="-12.3" r="2.7" fill="#b01818"/><circle cx="-21.0" cy="-12.8" r="1.5" fill="#e23a30"/><circle cx="-20.3" cy="-16.0" r="2.8" fill="#b01818"/><circle cx="-20.5" cy="-16.5" r="1.5" fill="#e23a30"/><circle cx="-13.9" cy="-21.6" r="3.2" fill="#b01818"/><circle cx="-14.2" cy="-22.0" r="1.5" fill="#e23a30"/><circle cx="-10.5" cy="-24.3" r="3.4" fill="#b01818"/><circle cx="-10.9" cy="-24.6" r="1.5" fill="#e23a30"/><circle cx="-2.9" cy="-24.5" r="3.3" fill="#b01818"/><circle cx="-3.4" cy="-24.8" r="1.5" fill="#e23a30"/><circle cx="2.6" cy="-25.3" r="3.0" fill="#b01818"/><circle cx="2.0" cy="-25.6" r="1.5" fill="#e23a30"/><circle cx="9.1" cy="-22.5" r="3.0" fill="#b01818"/><circle cx="8.3" cy="-22.8" r="1.5" fill="#e23a30"/><circle cx="16.5" cy="-20.4" r="3.0" fill="#b01818"/><circle cx="15.5" cy="-20.8" r="1.5" fill="#e23a30"/><circle cx="19.5" cy="-15.4" r="3.5" fill="#b01818"/><circle cx="18.5" cy="-15.9" r="1.5" fill="#e23a30"/><circle cx="22.7" cy="-10.8" r="2.9" fill="#b01818"/><circle cx="21.6" cy="-11.4" r="1.5" fill="#e23a30"/><circle cx="24.9" cy="-8.3" r="2.7" fill="#b01818"/><circle cx="23.8" cy="-8.9" r="1.5" fill="#e23a30"/><polygon points="0,-2.9 2.9,2.3 -2.9,2.3" transform="translate(8.5 -18.2) rotate(21)" fill="#c41e1e" stroke="#7a1010" stroke-width="0.5"/><circle cx="11.1" cy="-16.0" r="0.8" fill="#f0a030"/><polygon points="0,-3.0 3.0,2.4 -3.0,2.4" transform="translate(13.6 -14.9) rotate(61)" fill="#c41e1e" stroke="#7a1010" stroke-width="0.5"/><circle cx="16.2" cy="-12.7" r="0.8" fill="#f0a030"/><polygon points="0,-2.6 2.6,2.1 -2.6,2.1" transform="translate(-8.7 8.4) rotate(81)" fill="#c41e1e" stroke="#7a1010" stroke-width="0.5"/><circle cx="-6.1" cy="10.6" r="0.8" fill="#f0a030"/><polygon points="0,-2.5 2.5,2.0 -2.5,2.0" transform="translate(-8.2 3.7) rotate(80)" fill="#c41e1e" stroke="#7a1010" stroke-width="0.5"/><circle cx="-5.6" cy="5.9" r="0.8" fill="#f0a030"/><polygon points="0,-2.7 2.7,2.1 -2.7,2.1" transform="translate(-4.1 13.9) rotate(105)" fill="#c41e1e" stroke="#7a1010" stroke-width="0.5"/><circle cx="-1.5" cy="16.1" r="0.8" fill="#f0a030"/><polygon points="0,-2.6 2.6,2.0 -2.6,2.0" transform="translate(2.2 -1.6) rotate(39)" fill="#c41e1e" stroke="#7a1010" stroke-width="0.5"/><circle cx="4.8" cy="0.6" r="0.8" fill="#f0a030"/><polygon points="0,-2.7 2.7,2.1 -2.7,2.1" transform="translate(18.1 -1.5) rotate(26)" fill="#c41e1e" stroke="#7a1010" stroke-width="0.5"/><circle cx="20.7" cy="0.7" r="0.8" fill="#f0a030"/><polygon points="0,-3.1 3.1,2.5 -3.1,2.5" transform="translate(-8.6 -16.7) rotate(41)" fill="#c41e1e" stroke="#7a1010" stroke-width="0.5"/><circle cx="-6.0" cy="-14.5" r="0.8" fill="#f0a030"/><polygon points="0,-2.6 2.6,2.1 -2.6,2.1" transform="translate(-20.3 2.0) rotate(87)" fill="#c41e1e" stroke="#7a1010" stroke-width="0.5"/><circle cx="-17.7" cy="4.2" r="0.8" fill="#f0a030"/><polygon points="0,-3.1 3.1,2.5 -3.1,2.5" transform="translate(7.3 4.3) rotate(26)" fill="#c41e1e" stroke="#7a1010" stroke-width="0.5"/><circle cx="9.9" cy="6.5" r="0.8" fill="#f0a030"/><polygon points="0,-3.1 3.1,2.5 -3.1,2.5" transform="translate(0.9 -15.9) rotate(44)" fill="#c41e1e" stroke="#7a1010" stroke-width="0.5"/><circle cx="3.5" cy="-13.7" r="0.8" fill="#f0a030"/><polygon points="0,-2.5 2.5,2.0 -2.5,2.0" transform="translate(10.0 11.4) rotate(5)" fill="#c41e1e" stroke="#7a1010" stroke-width="0.5"/><circle cx="12.6" cy="13.6" r="0.8" fill="#f0a030"/><polygon points="0,-3.0 3.0,2.4 -3.0,2.4" transform="translate(17.1 8.5) rotate(99)" fill="#c41e1e" stroke="#7a1010" stroke-width="0.5"/><circle cx="19.7" cy="10.7" r="0.8" fill="#f0a030"/><polygon points="0,-3.0 3.0,2.4 -3.0,2.4" transform="translate(-8.7 13.5) rotate(45)" fill="#c41e1e" stroke="#7a1010" stroke-width="0.5"/><circle cx="-6.1" cy="15.7" r="0.8" fill="#f0a030"/><polygon points="0,-2.5 2.5,2.0 -2.5,2.0" transform="translate(-8.8 -4.2) rotate(32)" fill="#c41e1e" stroke="#7a1010" stroke-width="0.5"/><circle cx="-6.2" cy="-2.0" r="0.8" fill="#f0a030"/><polygon points="0,-3.1 3.1,2.5 -3.1,2.5" transform="translate(11.9 -9.8) rotate(55)" fill="#c41e1e" stroke="#7a1010" stroke-width="0.5"/><circle cx="14.5" cy="-7.6" r="0.8" fill="#f0a030"/><polygon points="0,-2.5 2.5,2.0 -2.5,2.0" transform="translate(-3.0 -5.4) rotate(106)" fill="#c41e1e" stroke="#7a1010" stroke-width="0.5"/><circle cx="-0.4" cy="-3.2" r="0.8" fill="#f0a030"/><polygon points="0,-2.5 2.5,2.0 -2.5,2.0" transform="translate(13.3 -1.0) rotate(20)" fill="#c41e1e" stroke="#7a1010" stroke-width="0.5"/><circle cx="15.9" cy="1.2" r="0.8" fill="#f0a030"/><polygon points="0,-2.5 2.5,2.0 -2.5,2.0" transform="translate(1.0 17.7) rotate(109)" fill="#c41e1e" stroke="#7a1010" stroke-width="0.5"/><circle cx="3.6" cy="19.9" r="0.8" fill="#f0a030"/><polygon points="0,-3.1 3.1,2.5 -3.1,2.5" transform="translate(-14.6 14.0) rotate(35)" fill="#c41e1e" stroke="#7a1010" stroke-width="0.5"/><circle cx="-12.0" cy="16.2" r="0.8" fill="#f0a030"/><polygon points="0,-2.7 2.7,2.1 -2.7,2.1" transform="translate(-11.3 -7.8) rotate(8)" fill="#c41e1e" stroke="#7a1010" stroke-width="0.5"/><circle cx="-8.7" cy="-5.6" r="0.8" fill="#f0a030"/><polygon points="0,-3.2 3.2,2.5 -3.2,2.5" transform="translate(17.3 -10.5) rotate(13)" fill="#c41e1e" stroke="#7a1010" stroke-width="0.5"/><circle cx="19.9" cy="-8.3" r="0.8" fill="#f0a030"/><polygon points="0,-2.5 2.5,2.0 -2.5,2.0" transform="translate(-3.6 9.5) rotate(34)" fill="#c41e1e" stroke="#7a1010" stroke-width="0.5"/><circle cx="-1.0" cy="11.7" r="0.8" fill="#f0a030"/><polygon points="0,-2.6 2.6,2.1 -2.6,2.1" transform="translate(0.1 2.9) rotate(9)" fill="#c41e1e" stroke="#7a1010" stroke-width="0.5"/><circle cx="2.7" cy="5.1" r="0.8" fill="#f0a030"/><polygon points="0,-3.0 3.0,2.4 -3.0,2.4" transform="translate(8.1 -2.7) rotate(118)" fill="#c41e1e" stroke="#7a1010" stroke-width="0.5"/><circle cx="10.7" cy="-0.5" r="0.8" fill="#f0a030"/><polygon points="0,-2.5 2.5,2.0 -2.5,2.0" transform="translate(5.0 -10.4) rotate(62)" fill="#c41e1e" stroke="#7a1010" stroke-width="0.5"/><circle cx="7.6" cy="-8.2" r="0.8" fill="#f0a030"/><polygon points="0,-3.0 3.0,2.4 -3.0,2.4" transform="translate(-7.9 17.8) rotate(109)" fill="#c41e1e" stroke="#7a1010" stroke-width="0.5"/><circle cx="-5.3" cy="20.0" r="0.8" fill="#f0a030"/><polygon points="0,-2.6 2.6,2.1 -2.6,2.1" transform="translate(-3.7 -16.3) rotate(8)" fill="#c41e1e" stroke="#7a1010" stroke-width="0.5"/><circle cx="-1.1" cy="-14.1" r="0.8" fill="#f0a030"/><polygon points="0,-3.1 3.1,2.5 -3.1,2.5" transform="translate(-14.4 -4.6) rotate(54)" fill="#c41e1e" stroke="#7a1010" stroke-width="0.5"/><circle cx="-11.8" cy="-2.4" r="0.8" fill="#f0a030"/><polygon points="0,-2.6 2.6,2.1 -2.6,2.1" transform="translate(-13.0 9.3) rotate(1)" fill="#c41e1e" stroke="#7a1010" stroke-width="0.5"/><circle cx="-10.4" cy="11.5" r="0.8" fill="#f0a030"/><polygon points="0,-2.9 2.9,2.4 -2.9,2.4" transform="translate(-8.1 -10.9) rotate(88)" fill="#c41e1e" stroke="#7a1010" stroke-width="0.5"/><circle cx="-5.5" cy="-8.7" r="0.8" fill="#f0a030"/><polygon points="0,-2.6 2.6,2.1 -2.6,2.1" transform="translate(4.6 9.2) rotate(68)" fill="#c41e1e" stroke="#7a1010" stroke-width="0.5"/><circle cx="7.2" cy="11.4" r="0.8" fill="#f0a030"/><polygon points="0,-3.2 3.2,2.5 -3.2,2.5" transform="translate(-18.5 6.7) rotate(46)" fill="#c41e1e" stroke="#7a1010" stroke-width="0.5"/><circle cx="-15.9" cy="8.9" r="0.8" fill="#f0a030"/><polygon points="0,-3.2 3.2,2.5 -3.2,2.5" transform="translate(13.7 13.9) rotate(14)" fill="#c41e1e" stroke="#7a1010" stroke-width="0.5"/><circle cx="16.3" cy="16.1" r="0.8" fill="#f0a030"/><polygon points="0,-3.0 3.0,2.4 -3.0,2.4" transform="translate(-19.3 -5.7) rotate(117)" fill="#c41e1e" stroke="#7a1010" stroke-width="0.5"/><circle cx="-16.7" cy="-3.5" r="0.8" fill="#f0a030"/><polygon points="0,-2.8 2.8,2.3 -2.8,2.3" transform="translate(-12.2 -0.2) rotate(0)" fill="#c41e1e" stroke="#7a1010" stroke-width="0.5"/><circle cx="-9.6" cy="2.0" r="0.8" fill="#f0a030"/><polygon points="0,-2.6 2.6,2.1 -2.6,2.1" transform="translate(-12.9 4.9) rotate(48)" fill="#c41e1e" stroke="#7a1010" stroke-width="0.5"/><circle cx="-10.3" cy="7.1" r="0.8" fill="#f0a030"/><polygon points="0,-3.1 3.1,2.5 -3.1,2.5" transform="translate(-15.7 -11.1) rotate(61)" fill="#c41e1e" stroke="#7a1010" stroke-width="0.5"/><circle cx="-13.1" cy="-8.9" r="0.8" fill="#f0a030"/><polygon points="0,-2.6 2.6,2.1 -2.6,2.1" transform="translate(-0.7 -20.4) rotate(20)" fill="#c41e1e" stroke="#7a1010" stroke-width="0.5"/><circle cx="1.9" cy="-18.2" r="0.8" fill="#f0a030"/><polygon points="0,-2.8 2.8,2.2 -2.8,2.2" transform="translate(-4.3 0.9) rotate(89)" fill="#c41e1e" stroke="#7a1010" stroke-width="0.5"/><circle cx="-1.7" cy="3.1" r="0.8" fill="#f0a030"/><polygon points="0,-3.1 3.1,2.5 -3.1,2.5" transform="translate(8.5 16.1) rotate(40)" fill="#c41e1e" stroke="#7a1010" stroke-width="0.5"/><circle cx="11.1" cy="18.3" r="0.8" fill="#f0a030"/><polygon points="0,-2.9 2.9,2.3 -2.9,2.3" transform="translate(19.1 3.7) rotate(38)" fill="#c41e1e" stroke="#7a1010" stroke-width="0.5"/><circle cx="21.7" cy="5.9" r="0.8" fill="#f0a030"/><polygon points="0,-2.5 2.5,2.0 -2.5,2.0" transform="translate(-2.2 -11.1) rotate(48)" fill="#c41e1e" stroke="#7a1010" stroke-width="0.5"/><circle cx="0.4" cy="-8.9" r="0.8" fill="#f0a030"/><polygon points="0,-2.5 2.5,2.0 -2.5,2.0" transform="translate(11.8 4.4) rotate(56)" fill="#c41e1e" stroke="#7a1010" stroke-width="0.5"/><circle cx="14.4" cy="6.6" r="0.8" fill="#f0a030"/></g>
<g transform="translate(888.6 93) scale(1 0.86)"><circle r="24.5" fill="url(#dVg)"/><line x1="19.3" y1="-5.5" x2="15.8" y2="-8.8" stroke="#e8e8e8" stroke-width="1.1" opacity="0.8"/><line x1="8.3" y1="-14.0" x2="9.7" y2="-15.5" stroke="#e8e8e8" stroke-width="1.1" opacity="0.8"/><line x1="-11.0" y1="-8.6" x2="-10.3" y2="-11.3" stroke="#e8e8e8" stroke-width="1.1" opacity="0.8"/><line x1="-9.1" y1="4.3" x2="-7.4" y2="8.2" stroke="#e8e8e8" stroke-width="1.1" opacity="0.8"/><line x1="12.2" y1="-4.0" x2="11.7" y2="-5.9" stroke="#e8e8e8" stroke-width="1.1" opacity="0.8"/><line x1="3.4" y1="0.8" x2="3.1" y2="-0.7" stroke="#e8e8e8" stroke-width="1.1" opacity="0.8"/><line x1="-13.9" y1="13.0" x2="-13.7" y2="13.5" stroke="#e8e8e8" stroke-width="1.1" opacity="0.8"/><line x1="0.3" y1="3.4" x2="-1.1" y2="0.5" stroke="#e8e8e8" stroke-width="1.1" opacity="0.8"/><line x1="-20.9" y1="-1.3" x2="-19.5" y2="-3.9" stroke="#e8e8e8" stroke-width="1.1" opacity="0.8"/><line x1="13.6" y1="-10.8" x2="15.5" y2="-7.5" stroke="#e8e8e8" stroke-width="1.1" opacity="0.8"/><line x1="1.4" y1="-17.2" x2="0.2" y2="-13.3" stroke="#e8e8e8" stroke-width="1.1" opacity="0.8"/><line x1="5.7" y1="-1.4" x2="7.8" y2="0.3" stroke="#e8e8e8" stroke-width="1.1" opacity="0.8"/><line x1="-12.2" y1="3.0" x2="-12.3" y2="6.4" stroke="#e8e8e8" stroke-width="1.1" opacity="0.8"/><line x1="-18.0" y1="-0.1" x2="-19.1" y2="3.0" stroke="#e8e8e8" stroke-width="1.1" opacity="0.8"/><line x1="9.1" y1="-6.7" x2="9.7" y2="-3.3" stroke="#e8e8e8" stroke-width="1.1" opacity="0.8"/><line x1="-1.9" y1="-11.6" x2="-4.2" y2="-13.0" stroke="#e8e8e8" stroke-width="1.1" opacity="0.8"/><line x1="-1.9" y1="-5.7" x2="1.4" y2="-7.5" stroke="#e8e8e8" stroke-width="1.1" opacity="0.8"/><line x1="7.3" y1="-4.5" x2="10.9" y2="-2.9" stroke="#e8e8e8" stroke-width="1.1" opacity="0.8"/><line x1="-12.3" y1="-0.3" x2="-11.1" y2="0.4" stroke="#e8e8e8" stroke-width="1.1" opacity="0.8"/><line x1="-2.6" y1="6.2" x2="-2.5" y2="9.7" stroke="#e8e8e8" stroke-width="1.1" opacity="0.8"/><line x1="-3.1" y1="-3.0" x2="-0.6" y2="-1.2" stroke="#e8e8e8" stroke-width="1.1" opacity="0.8"/><line x1="5.4" y1="-3.5" x2="7.3" y2="-7.1" stroke="#e8e8e8" stroke-width="1.1" opacity="0.8"/><line x1="-4.5" y1="-6.5" x2="-6.7" y2="-3.5" stroke="#e8e8e8" stroke-width="1.1" opacity="0.8"/><line x1="9.7" y1="7.7" x2="12.6" y2="5.6" stroke="#e8e8e8" stroke-width="1.1" opacity="0.8"/><line x1="4.6" y1="18.3" x2="4.0" y2="20.0" stroke="#e8e8e8" stroke-width="1.1" opacity="0.8"/><line x1="9.3" y1="1.9" x2="6.7" y2="3.3" stroke="#e8e8e8" stroke-width="1.1" opacity="0.8"/><circle cx="26.3" cy="-1.8" r="2.7" fill="#b01818"/><circle cx="25.2" cy="-2.5" r="1.5" fill="#e23a30"/><circle cx="23.2" cy="6.6" r="2.9" fill="#b01818"/><circle cx="22.1" cy="5.7" r="1.5" fill="#e23a30"/><circle cx="21.1" cy="12.4" r="2.9" fill="#b01818"/><circle cx="20.0" cy="11.4" r="1.5" fill="#e23a30"/><circle cx="18.2" cy="17.2" r="2.7" fill="#b01818"/><circle cx="17.3" cy="16.0" r="1.5" fill="#e23a30"/><circle cx="12.3" cy="21.2" r="2.7" fill="#b01818"/><circle cx="11.4" cy="19.9" r="1.5" fill="#e23a30"/><circle cx="9.7" cy="23.7" r="3.4" fill="#b01818"/><circle cx="8.9" cy="22.4" r="1.5" fill="#e23a30"/><circle cx="4.5" cy="24.5" r="2.7" fill="#b01818"/><circle cx="3.8" cy="23.2" r="1.5" fill="#e23a30"/><circle cx="-2.9" cy="25.8" r="3.4" fill="#b01818"/><circle cx="-3.5" cy="24.5" r="1.5" fill="#e23a30"/><circle cx="-10.7" cy="23.6" r="3.5" fill="#b01818"/><circle cx="-11.1" cy="22.3" r="1.5" fill="#e23a30"/><circle cx="-15.0" cy="20.3" r="2.9" fill="#b01818"/><circle cx="-15.3" cy="19.1" r="1.5" fill="#e23a30"/><circle cx="-19.0" cy="16.0" r="2.8" fill="#b01818"/><circle cx="-19.2" cy="14.9" r="1.5" fill="#e23a30"/><circle cx="-23.1" cy="12.4" r="2.8" fill="#b01818"/><circle cx="-23.3" cy="11.3" r="1.5" fill="#e23a30"/><circle cx="-24.4" cy="5.7" r="3.2" fill="#b01818"/><circle cx="-24.5" cy="4.7" r="1.5" fill="#e23a30"/><circle cx="-26.4" cy="1.5" r="2.9" fill="#b01818"/><circle cx="-26.5" cy="0.7" r="1.5" fill="#e23a30"/><circle cx="-24.3" cy="-6.4" r="2.7" fill="#b01818"/><circle cx="-24.4" cy="-7.1" r="1.5" fill="#e23a30"/><circle cx="-21.5" cy="-11.6" r="2.8" fill="#b01818"/><circle cx="-21.7" cy="-12.1" r="1.5" fill="#e23a30"/><circle cx="-19.5" cy="-14.8" r="2.8" fill="#b01818"/><circle cx="-19.7" cy="-15.3" r="1.5" fill="#e23a30"/><circle cx="-13.9" cy="-21.1" r="3.6" fill="#b01818"/><circle cx="-14.3" cy="-21.5" r="1.5" fill="#e23a30"/><circle cx="-7.7" cy="-25.4" r="2.9" fill="#b01818"/><circle cx="-8.1" cy="-25.7" r="1.5" fill="#e23a30"/><circle cx="-3.2" cy="-24.5" r="3.2" fill="#b01818"/><circle cx="-3.7" cy="-24.8" r="1.5" fill="#e23a30"/><circle cx="3.6" cy="-25.8" r="3.3" fill="#b01818"/><circle cx="3.0" cy="-26.1" r="1.5" fill="#e23a30"/><circle cx="8.0" cy="-23.8" r="3.2" fill="#b01818"/><circle cx="7.2" cy="-24.1" r="1.5" fill="#e23a30"/><circle cx="12.1" cy="-20.9" r="3.1" fill="#b01818"/><circle cx="11.3" cy="-21.3" r="1.5" fill="#e23a30"/><circle cx="18.2" cy="-18.3" r="2.9" fill="#b01818"/><circle cx="17.3" cy="-18.7" r="1.5" fill="#e23a30"/><circle cx="21.0" cy="-12.8" r="2.9" fill="#b01818"/><circle cx="19.9" cy="-13.3" r="1.5" fill="#e23a30"/><circle cx="24.3" cy="-7.2" r="3.1" fill="#b01818"/><circle cx="23.2" cy="-7.8" r="1.5" fill="#e23a30"/><polygon points="0,-2.6 2.6,2.1 -2.6,2.1" transform="translate(-6.0 15.3) rotate(109)" fill="#c41e1e" stroke="#7a1010" stroke-width="0.5"/><circle cx="-3.4" cy="17.5" r="0.8" fill="#f0a030"/><polygon points="0,-2.7 2.7,2.2 -2.7,2.2" transform="translate(17.0 -4.0) rotate(61)" fill="#c41e1e" stroke="#7a1010" stroke-width="0.5"/><circle cx="19.6" cy="-1.8" r="0.8" fill="#f0a030"/><polygon points="0,-2.7 2.7,2.2 -2.7,2.2" transform="translate(-4.1 -2.3) rotate(63)" fill="#c41e1e" stroke="#7a1010" stroke-width="0.5"/><circle cx="-1.5" cy="-0.1" r="0.8" fill="#f0a030"/><polygon points="0,-3.0 3.0,2.4 -3.0,2.4" transform="translate(2.6 5.7) rotate(44)" fill="#c41e1e" stroke="#7a1010" stroke-width="0.5"/><circle cx="5.2" cy="7.9" r="0.8" fill="#f0a030"/><polygon points="0,-2.9 2.9,2.3 -2.9,2.3" transform="translate(-19.5 -2.4) rotate(35)" fill="#c41e1e" stroke="#7a1010" stroke-width="0.5"/><circle cx="-16.9" cy="-0.2" r="0.8" fill="#f0a030"/><polygon points="0,-2.4 2.4,1.9 -2.4,1.9" transform="translate(12.4 -1.3) rotate(82)" fill="#c41e1e" stroke="#7a1010" stroke-width="0.5"/><circle cx="15.0" cy="0.9" r="0.8" fill="#f0a030"/><polygon points="0,-3.1 3.1,2.5 -3.1,2.5" transform="translate(9.1 6.7) rotate(81)" fill="#c41e1e" stroke="#7a1010" stroke-width="0.5"/><circle cx="11.7" cy="8.9" r="0.8" fill="#f0a030"/><polygon points="0,-2.6 2.6,2.1 -2.6,2.1" transform="translate(-12.1 7.6) rotate(71)" fill="#c41e1e" stroke="#7a1010" stroke-width="0.5"/><circle cx="-9.5" cy="9.8" r="0.8" fill="#f0a030"/><polygon points="0,-2.5 2.5,2.0 -2.5,2.0" transform="translate(-13.8 14.2) rotate(91)" fill="#c41e1e" stroke="#7a1010" stroke-width="0.5"/><circle cx="-11.2" cy="16.4" r="0.8" fill="#f0a030"/><polygon points="0,-2.7 2.7,2.2 -2.7,2.2" transform="translate(5.5 14.5) rotate(56)" fill="#c41e1e" stroke="#7a1010" stroke-width="0.5"/><circle cx="8.1" cy="16.7" r="0.8" fill="#f0a030"/><polygon points="0,-2.5 2.5,2.0 -2.5,2.0" transform="translate(0.3 -12.9) rotate(15)" fill="#c41e1e" stroke="#7a1010" stroke-width="0.5"/><circle cx="2.9" cy="-10.7" r="0.8" fill="#f0a030"/><polygon points="0,-2.9 2.9,2.3 -2.9,2.3" transform="translate(16.5 9.2) rotate(115)" fill="#c41e1e" stroke="#7a1010" stroke-width="0.5"/><circle cx="19.1" cy="11.4" r="0.8" fill="#f0a030"/><polygon points="0,-3.0 3.0,2.4 -3.0,2.4" transform="translate(-9.8 -15.2) rotate(60)" fill="#c41e1e" stroke="#7a1010" stroke-width="0.5"/><circle cx="-7.2" cy="-13.0" r="0.8" fill="#f0a030"/><polygon points="0,-3.0 3.0,2.4 -3.0,2.4" transform="translate(-8.7 10.8) rotate(32)" fill="#c41e1e" stroke="#7a1010" stroke-width="0.5"/><circle cx="-6.1" cy="13.0" r="0.8" fill="#f0a030"/><polygon points="0,-3.2 3.2,2.5 -3.2,2.5" transform="translate(-14.0 -2.3) rotate(97)" fill="#c41e1e" stroke="#7a1010" stroke-width="0.5"/><circle cx="-11.4" cy="-0.1" r="0.8" fill="#f0a030"/><polygon points="0,-2.8 2.8,2.2 -2.8,2.2" transform="translate(-2.9 9.4) rotate(31)" fill="#c41e1e" stroke="#7a1010" stroke-width="0.5"/><circle cx="-0.3" cy="11.6" r="0.8" fill="#f0a030"/><polygon points="0,-3.1 3.1,2.4 -3.1,2.4" transform="translate(13.7 -7.7) rotate(12)" fill="#c41e1e" stroke="#7a1010" stroke-width="0.5"/><circle cx="16.3" cy="-5.5" r="0.8" fill="#f0a030"/><polygon points="0,-2.9 2.9,2.3 -2.9,2.3" transform="translate(16.1 -12.4) rotate(15)" fill="#c41e1e" stroke="#7a1010" stroke-width="0.5"/><circle cx="18.7" cy="-10.2" r="0.8" fill="#f0a030"/><polygon points="0,-2.5 2.5,2.0 -2.5,2.0" transform="translate(-15.9 -10.8) rotate(61)" fill="#c41e1e" stroke="#7a1010" stroke-width="0.5"/><circle cx="-13.3" cy="-8.6" r="0.8" fill="#f0a030"/><polygon points="0,-3.0 3.0,2.4 -3.0,2.4" transform="translate(-4.9 -19.2) rotate(57)" fill="#c41e1e" stroke="#7a1010" stroke-width="0.5"/><circle cx="-2.3" cy="-17.0" r="0.8" fill="#f0a030"/><polygon points="0,-2.6 2.6,2.1 -2.6,2.1" transform="translate(1.4 -18.9) rotate(75)" fill="#c41e1e" stroke="#7a1010" stroke-width="0.5"/><circle cx="4.0" cy="-16.7" r="0.8" fill="#f0a030"/><polygon points="0,-3.0 3.0,2.4 -3.0,2.4" transform="translate(19.8 2.1) rotate(73)" fill="#c41e1e" stroke="#7a1010" stroke-width="0.5"/><circle cx="22.4" cy="4.3" r="0.8" fill="#f0a030"/><polygon points="0,-2.7 2.7,2.2 -2.7,2.2" transform="translate(10.4 12.2) rotate(30)" fill="#c41e1e" stroke="#7a1010" stroke-width="0.5"/><circle cx="13.0" cy="14.4" r="0.8" fill="#f0a030"/><polygon points="0,-2.5 2.5,2.0 -2.5,2.0" transform="translate(5.6 19.4) rotate(0)" fill="#c41e1e" stroke="#7a1010" stroke-width="0.5"/><circle cx="8.2" cy="21.6" r="0.8" fill="#f0a030"/><polygon points="0,-2.7 2.7,2.1 -2.7,2.1" transform="translate(-16.8 1.6) rotate(32)" fill="#c41e1e" stroke="#7a1010" stroke-width="0.5"/><circle cx="-14.2" cy="3.8" r="0.8" fill="#f0a030"/><polygon points="0,-2.5 2.5,2.0 -2.5,2.0" transform="translate(4.9 -5.7) rotate(46)" fill="#c41e1e" stroke="#7a1010" stroke-width="0.5"/><circle cx="7.5" cy="-3.5" r="0.8" fill="#f0a030"/><polygon points="0,-2.4 2.4,1.9 -2.4,1.9" transform="translate(-10.9 2.5) rotate(67)" fill="#c41e1e" stroke="#7a1010" stroke-width="0.5"/><circle cx="-8.3" cy="4.7" r="0.8" fill="#f0a030"/><polygon points="0,-2.6 2.6,2.1 -2.6,2.1" transform="translate(-17.9 6.7) rotate(78)" fill="#c41e1e" stroke="#7a1010" stroke-width="0.5"/><circle cx="-15.3" cy="8.9" r="0.8" fill="#f0a030"/><polygon points="0,-2.9 2.9,2.3 -2.9,2.3" transform="translate(5.1 -10.1) rotate(96)" fill="#c41e1e" stroke="#7a1010" stroke-width="0.5"/><circle cx="7.7" cy="-7.9" r="0.8" fill="#f0a030"/><polygon points="0,-3.1 3.1,2.5 -3.1,2.5" transform="translate(-7.3 -10.6) rotate(11)" fill="#c41e1e" stroke="#7a1010" stroke-width="0.5"/><circle cx="-4.7" cy="-8.4" r="0.8" fill="#f0a030"/><polygon points="0,-2.6 2.6,2.1 -2.6,2.1" transform="translate(4.8 -15.5) rotate(28)" fill="#c41e1e" stroke="#7a1010" stroke-width="0.5"/><circle cx="7.4" cy="-13.3" r="0.8" fill="#f0a030"/><polygon points="0,-2.5 2.5,2.0 -2.5,2.0" transform="translate(-3.4 19.8) rotate(98)" fill="#c41e1e" stroke="#7a1010" stroke-width="0.5"/><circle cx="-0.8" cy="22.0" r="0.8" fill="#f0a030"/><polygon points="0,-3.2 3.2,2.5 -3.2,2.5" transform="translate(-6.8 5.2) rotate(42)" fill="#c41e1e" stroke="#7a1010" stroke-width="0.5"/><circle cx="-4.2" cy="7.4" r="0.8" fill="#f0a030"/><polygon points="0,-3.1 3.1,2.5 -3.1,2.5" transform="translate(-9.6 -2.6) rotate(47)" fill="#c41e1e" stroke="#7a1010" stroke-width="0.5"/><circle cx="-7.0" cy="-0.4" r="0.8" fill="#f0a030"/><polygon points="0,-2.6 2.6,2.1 -2.6,2.1" transform="translate(-0.1 13.3) rotate(41)" fill="#c41e1e" stroke="#7a1010" stroke-width="0.5"/><circle cx="2.5" cy="15.5" r="0.8" fill="#f0a030"/><polygon points="0,-2.5 2.5,2.0 -2.5,2.0" transform="translate(0.6 -1.8) rotate(42)" fill="#c41e1e" stroke="#7a1010" stroke-width="0.5"/><circle cx="3.2" cy="0.4" r="0.8" fill="#f0a030"/><polygon points="0,-3.0 3.0,2.4 -3.0,2.4" transform="translate(12.3 -15.1) rotate(61)" fill="#c41e1e" stroke="#7a1010" stroke-width="0.5"/><circle cx="14.9" cy="-12.9" r="0.8" fill="#f0a030"/><polygon points="0,-2.6 2.6,2.0 -2.6,2.0" transform="translate(14.9 2.9) rotate(23)" fill="#c41e1e" stroke="#7a1010" stroke-width="0.5"/><circle cx="17.5" cy="5.1" r="0.8" fill="#f0a030"/><polygon points="0,-2.6 2.6,2.1 -2.6,2.1" transform="translate(-4.4 -14.2) rotate(26)" fill="#c41e1e" stroke="#7a1010" stroke-width="0.5"/><circle cx="-1.8" cy="-12.0" r="0.8" fill="#f0a030"/><polygon points="0,-2.8 2.8,2.2 -2.8,2.2" transform="translate(-3.3 2.4) rotate(14)" fill="#c41e1e" stroke="#7a1010" stroke-width="0.5"/><circle cx="-0.7" cy="4.6" r="0.8" fill="#f0a030"/><polygon points="0,-3.2 3.2,2.5 -3.2,2.5" transform="translate(1.0 18.8) rotate(22)" fill="#c41e1e" stroke="#7a1010" stroke-width="0.5"/><circle cx="3.6" cy="21.0" r="0.8" fill="#f0a030"/><polygon points="0,-2.5 2.5,2.0 -2.5,2.0" transform="translate(7.0 1.3) rotate(93)" fill="#c41e1e" stroke="#7a1010" stroke-width="0.5"/><circle cx="9.6" cy="3.5" r="0.8" fill="#f0a030"/><polygon points="0,-2.9 2.9,2.3 -2.9,2.3" transform="translate(-13.2 -6.9) rotate(39)" fill="#c41e1e" stroke="#7a1010" stroke-width="0.5"/><circle cx="-10.6" cy="-4.7" r="0.8" fill="#f0a030"/><polygon points="0,-3.1 3.1,2.5 -3.1,2.5" transform="translate(-3.7 -7.8) rotate(0)" fill="#c41e1e" stroke="#7a1010" stroke-width="0.5"/><circle cx="-1.1" cy="-5.6" r="0.8" fill="#f0a030"/></g>
<g transform="translate(959.6 92.5) scale(1 0.86)"><circle r="24.5" fill="url(#dVg)"/><line x1="1.0" y1="12.8" x2="-0.1" y2="13.6" stroke="#e8e8e8" stroke-width="1.1" opacity="0.8"/><line x1="-2.9" y1="-3.0" x2="-6.8" y2="-0.3" stroke="#e8e8e8" stroke-width="1.1" opacity="0.8"/><line x1="-0.4" y1="7.2" x2="3.5" y2="7.0" stroke="#e8e8e8" stroke-width="1.1" opacity="0.8"/><line x1="6.0" y1="-9.9" x2="7.1" y2="-12.7" stroke="#e8e8e8" stroke-width="1.1" opacity="0.8"/><line x1="-12.3" y1="-14.0" x2="-12.1" y2="-12.0" stroke="#e8e8e8" stroke-width="1.1" opacity="0.8"/><line x1="-2.0" y1="-3.7" x2="0.1" y2="-2.9" stroke="#e8e8e8" stroke-width="1.1" opacity="0.8"/><line x1="-1.1" y1="3.4" x2="1.8" y2="3.2" stroke="#e8e8e8" stroke-width="1.1" opacity="0.8"/><line x1="-3.7" y1="-18.5" x2="-1.9" y2="-15.1" stroke="#e8e8e8" stroke-width="1.1" opacity="0.8"/><line x1="-13.8" y1="10.7" x2="-14.2" y2="14.2" stroke="#e8e8e8" stroke-width="1.1" opacity="0.8"/><line x1="3.4" y1="-3.3" x2="0.5" y2="-5.5" stroke="#e8e8e8" stroke-width="1.1" opacity="0.8"/><line x1="10.6" y1="-2.3" x2="11.6" y2="-3.9" stroke="#e8e8e8" stroke-width="1.1" opacity="0.8"/><line x1="-9.9" y1="-0.5" x2="-11.1" y2="0.2" stroke="#e8e8e8" stroke-width="1.1" opacity="0.8"/><line x1="-16.6" y1="-9.7" x2="-15.2" y2="-6.3" stroke="#e8e8e8" stroke-width="1.1" opacity="0.8"/><line x1="12.9" y1="-16.4" x2="14.3" y2="-19.0" stroke="#e8e8e8" stroke-width="1.1" opacity="0.8"/><line x1="13.0" y1="-15.6" x2="16.3" y2="-15.1" stroke="#e8e8e8" stroke-width="1.1" opacity="0.8"/><line x1="-1.5" y1="-6.6" x2="1.1" y2="-6.0" stroke="#e8e8e8" stroke-width="1.1" opacity="0.8"/><line x1="-0.9" y1="4.0" x2="1.9" y2="8.0" stroke="#e8e8e8" stroke-width="1.1" opacity="0.8"/><line x1="14.8" y1="9.2" x2="14.1" y2="6.4" stroke="#e8e8e8" stroke-width="1.1" opacity="0.8"/><line x1="-4.6" y1="16.2" x2="-1.6" y2="12.6" stroke="#e8e8e8" stroke-width="1.1" opacity="0.8"/><line x1="-2.9" y1="-2.5" x2="-1.1" y2="-3.9" stroke="#e8e8e8" stroke-width="1.1" opacity="0.8"/><line x1="15.1" y1="-14.1" x2="15.2" y2="-10.1" stroke="#e8e8e8" stroke-width="1.1" opacity="0.8"/><line x1="-1.6" y1="4.1" x2="-0.8" y2="0.3" stroke="#e8e8e8" stroke-width="1.1" opacity="0.8"/><line x1="3.4" y1="9.8" x2="4.2" y2="7.0" stroke="#e8e8e8" stroke-width="1.1" opacity="0.8"/><line x1="18.0" y1="4.9" x2="16.5" y2="8.6" stroke="#e8e8e8" stroke-width="1.1" opacity="0.8"/><line x1="7.8" y1="-5.9" x2="7.5" y2="-5.8" stroke="#e8e8e8" stroke-width="1.1" opacity="0.8"/><line x1="-8.5" y1="-10.8" x2="-8.0" y2="-9.8" stroke="#e8e8e8" stroke-width="1.1" opacity="0.8"/><circle cx="25.3" cy="1.8" r="3.1" fill="#b01818"/><circle cx="24.2" cy="0.9" r="1.5" fill="#e23a30"/><circle cx="23.7" cy="6.7" r="3.0" fill="#b01818"/><circle cx="22.6" cy="5.8" r="1.5" fill="#e23a30"/><circle cx="21.5" cy="13.5" r="3.2" fill="#b01818"/><circle cx="20.5" cy="12.4" r="1.5" fill="#e23a30"/><circle cx="20.0" cy="15.1" r="3.2" fill="#b01818"/><circle cx="19.0" cy="14.0" r="1.5" fill="#e23a30"/><circle cx="16.1" cy="19.9" r="3.3" fill="#b01818"/><circle cx="15.2" cy="18.7" r="1.5" fill="#e23a30"/><circle cx="10.7" cy="23.2" r="3.1" fill="#b01818"/><circle cx="9.9" cy="22.0" r="1.5" fill="#e23a30"/><circle cx="2.3" cy="24.8" r="3.3" fill="#b01818"/><circle cx="1.6" cy="23.5" r="1.5" fill="#e23a30"/><circle cx="-3.8" cy="23.8" r="2.8" fill="#b01818"/><circle cx="-4.3" cy="22.6" r="1.5" fill="#e23a30"/><circle cx="-10.1" cy="24.4" r="2.9" fill="#b01818"/><circle cx="-10.5" cy="23.2" r="1.5" fill="#e23a30"/><circle cx="-14.4" cy="21.1" r="3.0" fill="#b01818"/><circle cx="-14.7" cy="19.9" r="1.5" fill="#e23a30"/><circle cx="-18.2" cy="16.9" r="3.0" fill="#b01818"/><circle cx="-18.5" cy="15.7" r="1.5" fill="#e23a30"/><circle cx="-22.2" cy="11.2" r="3.0" fill="#b01818"/><circle cx="-22.3" cy="10.2" r="1.5" fill="#e23a30"/><circle cx="-23.7" cy="4.8" r="3.2" fill="#b01818"/><circle cx="-23.8" cy="3.9" r="1.5" fill="#e23a30"/><circle cx="-24.8" cy="-0.9" r="2.9" fill="#b01818"/><circle cx="-24.9" cy="-1.7" r="1.5" fill="#e23a30"/><circle cx="-23.6" cy="-7.1" r="2.9" fill="#b01818"/><circle cx="-23.8" cy="-7.7" r="1.5" fill="#e23a30"/><circle cx="-22.9" cy="-11.7" r="2.8" fill="#b01818"/><circle cx="-23.1" cy="-12.3" r="1.5" fill="#e23a30"/><circle cx="-19.1" cy="-16.0" r="3.5" fill="#b01818"/><circle cx="-19.3" cy="-16.5" r="1.5" fill="#e23a30"/><circle cx="-15.1" cy="-21.4" r="2.9" fill="#b01818"/><circle cx="-15.4" cy="-21.8" r="1.5" fill="#e23a30"/><circle cx="-9.7" cy="-23.7" r="3.5" fill="#b01818"/><circle cx="-10.1" cy="-24.1" r="1.5" fill="#e23a30"/><circle cx="-3.2" cy="-24.4" r="2.8" fill="#b01818"/><circle cx="-3.7" cy="-24.7" r="1.5" fill="#e23a30"/><circle cx="3.1" cy="-24.4" r="3.4" fill="#b01818"/><circle cx="2.4" cy="-24.7" r="1.5" fill="#e23a30"/><circle cx="9.9" cy="-22.4" r="3.0" fill="#b01818"/><circle cx="9.1" cy="-22.8" r="1.5" fill="#e23a30"/><circle cx="15.6" cy="-20.4" r="3.4" fill="#b01818"/><circle cx="14.7" cy="-20.8" r="1.5" fill="#e23a30"/><circle cx="17.9" cy="-16.6" r="3.0" fill="#b01818"/><circle cx="16.9" cy="-17.1" r="1.5" fill="#e23a30"/><circle cx="22.4" cy="-10.5" r="3.0" fill="#b01818"/><circle cx="21.4" cy="-11.0" r="1.5" fill="#e23a30"/><circle cx="24.3" cy="-6.3" r="3.1" fill="#b01818"/><circle cx="23.2" cy="-7.0" r="1.5" fill="#e23a30"/><polygon points="0,-2.4 2.4,1.9 -2.4,1.9" transform="translate(7.1 -3.9) rotate(113)" fill="#c41e1e" stroke="#7a1010" stroke-width="0.5"/><circle cx="9.7" cy="-1.7" r="0.8" fill="#f0a030"/><polygon points="0,-2.7 2.7,2.2 -2.7,2.2" transform="translate(14.8 -13.9) rotate(114)" fill="#c41e1e" stroke="#7a1010" stroke-width="0.5"/><circle cx="17.4" cy="-11.7" r="0.8" fill="#f0a030"/><polygon points="0,-2.9 2.9,2.3 -2.9,2.3" transform="translate(-0.5 -18.7) rotate(62)" fill="#c41e1e" stroke="#7a1010" stroke-width="0.5"/><circle cx="2.1" cy="-16.5" r="0.8" fill="#f0a030"/><polygon points="0,-2.6 2.6,2.1 -2.6,2.1" transform="translate(-2.9 11.6) rotate(8)" fill="#c41e1e" stroke="#7a1010" stroke-width="0.5"/><circle cx="-0.3" cy="13.8" r="0.8" fill="#f0a030"/><polygon points="0,-3.0 3.0,2.4 -3.0,2.4" transform="translate(-9.3 -5.8) rotate(5)" fill="#c41e1e" stroke="#7a1010" stroke-width="0.5"/><circle cx="-6.7" cy="-3.6" r="0.8" fill="#f0a030"/><polygon points="0,-3.1 3.1,2.5 -3.1,2.5" transform="translate(17.2 -8.9) rotate(69)" fill="#c41e1e" stroke="#7a1010" stroke-width="0.5"/><circle cx="19.8" cy="-6.7" r="0.8" fill="#f0a030"/><polygon points="0,-2.5 2.5,2.0 -2.5,2.0" transform="translate(17.6 1.5) rotate(36)" fill="#c41e1e" stroke="#7a1010" stroke-width="0.5"/><circle cx="20.2" cy="3.7" r="0.8" fill="#f0a030"/><polygon points="0,-2.7 2.7,2.2 -2.7,2.2" transform="translate(-7.7 -12.7) rotate(113)" fill="#c41e1e" stroke="#7a1010" stroke-width="0.5"/><circle cx="-5.1" cy="-10.5" r="0.8" fill="#f0a030"/><polygon points="0,-2.8 2.8,2.2 -2.8,2.2" transform="translate(-0.3 19.0) rotate(94)" fill="#c41e1e" stroke="#7a1010" stroke-width="0.5"/><circle cx="2.3" cy="21.2" r="0.8" fill="#f0a030"/><polygon points="0,-2.8 2.8,2.3 -2.8,2.3" transform="translate(-5.4 7.3) rotate(98)" fill="#c41e1e" stroke="#7a1010" stroke-width="0.5"/><circle cx="-2.8" cy="9.5" r="0.8" fill="#f0a030"/><polygon points="0,-3.1 3.1,2.5 -3.1,2.5" transform="translate(8.7 16.1) rotate(97)" fill="#c41e1e" stroke="#7a1010" stroke-width="0.5"/><circle cx="11.3" cy="18.3" r="0.8" fill="#f0a030"/><polygon points="0,-2.9 2.9,2.3 -2.9,2.3" transform="translate(0.8 -1.6) rotate(104)" fill="#c41e1e" stroke="#7a1010" stroke-width="0.5"/><circle cx="3.4" cy="0.6" r="0.8" fill="#f0a030"/><polygon points="0,-2.6 2.6,2.1 -2.6,2.1" transform="translate(10.2 3.3) rotate(63)" fill="#c41e1e" stroke="#7a1010" stroke-width="0.5"/><circle cx="12.8" cy="5.5" r="0.8" fill="#f0a030"/><polygon points="0,-3.0 3.0,2.4 -3.0,2.4" transform="translate(-12.5 6.6) rotate(0)" fill="#c41e1e" stroke="#7a1010" stroke-width="0.5"/><circle cx="-9.9" cy="8.8" r="0.8" fill="#f0a030"/><polygon points="0,-3.2 3.2,2.5 -3.2,2.5" transform="translate(3.8 3.8) rotate(103)" fill="#c41e1e" stroke="#7a1010" stroke-width="0.5"/><circle cx="6.4" cy="6.0" r="0.8" fill="#f0a030"/><polygon points="0,-2.7 2.7,2.1 -2.7,2.1" transform="translate(12.5 7.5) rotate(38)" fill="#c41e1e" stroke="#7a1010" stroke-width="0.5"/><circle cx="15.1" cy="9.7" r="0.8" fill="#f0a030"/><polygon points="0,-2.9 2.9,2.3 -2.9,2.3" transform="translate(-9.8 13.3) rotate(43)" fill="#c41e1e" stroke="#7a1010" stroke-width="0.5"/><circle cx="-7.2" cy="15.5" r="0.8" fill="#f0a030"/><polygon points="0,-2.5 2.5,2.0 -2.5,2.0" transform="translate(4.3 11.0) rotate(67)" fill="#c41e1e" stroke="#7a1010" stroke-width="0.5"/><circle cx="6.9" cy="13.2" r="0.8" fill="#f0a030"/><polygon points="0,-2.5 2.5,2.0 -2.5,2.0" transform="translate(-2.7 -12.4) rotate(21)" fill="#c41e1e" stroke="#7a1010" stroke-width="0.5"/><circle cx="-0.1" cy="-10.2" r="0.8" fill="#f0a030"/><polygon points="0,-3.0 3.0,2.4 -3.0,2.4" transform="translate(2.6 -12.4) rotate(75)" fill="#c41e1e" stroke="#7a1010" stroke-width="0.5"/><circle cx="5.2" cy="-10.2" r="0.8" fill="#f0a030"/><polygon points="0,-2.7 2.7,2.2 -2.7,2.2" transform="translate(-17.2 0.4) rotate(83)" fill="#c41e1e" stroke="#7a1010" stroke-width="0.5"/><circle cx="-14.6" cy="2.6" r="0.8" fill="#f0a030"/><polygon points="0,-2.8 2.8,2.3 -2.8,2.3" transform="translate(-9.8 2.5) rotate(83)" fill="#c41e1e" stroke="#7a1010" stroke-width="0.5"/><circle cx="-7.2" cy="4.7" r="0.8" fill="#f0a030"/><polygon points="0,-3.1 3.1,2.5 -3.1,2.5" transform="translate(-17.2 8.6) rotate(45)" fill="#c41e1e" stroke="#7a1010" stroke-width="0.5"/><circle cx="-14.6" cy="10.8" r="0.8" fill="#f0a030"/><polygon points="0,-2.9 2.9,2.3 -2.9,2.3" transform="translate(13.2 12.9) rotate(106)" fill="#c41e1e" stroke="#7a1010" stroke-width="0.5"/><circle cx="15.8" cy="15.1" r="0.8" fill="#f0a030"/><polygon points="0,-3.0 3.0,2.4 -3.0,2.4" transform="translate(14.9 -4.6) rotate(4)" fill="#c41e1e" stroke="#7a1010" stroke-width="0.5"/><circle cx="17.5" cy="-2.4" r="0.8" fill="#f0a030"/><polygon points="0,-3.0 3.0,2.4 -3.0,2.4" transform="translate(-1.5 -6.5) rotate(112)" fill="#c41e1e" stroke="#7a1010" stroke-width="0.5"/><circle cx="1.1" cy="-4.3" r="0.8" fill="#f0a030"/><polygon points="0,-2.6 2.6,2.1 -2.6,2.1" transform="translate(-17.2 -7.3) rotate(22)" fill="#c41e1e" stroke="#7a1010" stroke-width="0.5"/><circle cx="-14.6" cy="-5.1" r="0.8" fill="#f0a030"/><polygon points="0,-2.6 2.6,2.1 -2.6,2.1" transform="translate(-7.2 -18.7) rotate(85)" fill="#c41e1e" stroke="#7a1010" stroke-width="0.5"/><circle cx="-4.6" cy="-16.5" r="0.8" fill="#f0a030"/><polygon points="0,-3.0 3.0,2.4 -3.0,2.4" transform="translate(8.1 -10.2) rotate(115)" fill="#c41e1e" stroke="#7a1010" stroke-width="0.5"/><circle cx="10.7" cy="-8.0" r="0.8" fill="#f0a030"/><polygon points="0,-2.6 2.6,2.1 -2.6,2.1" transform="translate(-6.8 -1.9) rotate(80)" fill="#c41e1e" stroke="#7a1010" stroke-width="0.5"/><circle cx="-4.2" cy="0.3" r="0.8" fill="#f0a030"/><polygon points="0,-2.9 2.9,2.3 -2.9,2.3" transform="translate(-4.8 16.2) rotate(97)" fill="#c41e1e" stroke="#7a1010" stroke-width="0.5"/><circle cx="-2.2" cy="18.4" r="0.8" fill="#f0a030"/><polygon points="0,-2.9 2.9,2.3 -2.9,2.3" transform="translate(7.1 -16.2) rotate(18)" fill="#c41e1e" stroke="#7a1010" stroke-width="0.5"/><circle cx="9.7" cy="-14.0" r="0.8" fill="#f0a030"/><polygon points="0,-2.9 2.9,2.4 -2.9,2.4" transform="translate(-13.5 -15.1) rotate(36)" fill="#c41e1e" stroke="#7a1010" stroke-width="0.5"/><circle cx="-10.9" cy="-12.9" r="0.8" fill="#f0a030"/><polygon points="0,-2.4 2.4,1.9 -2.4,1.9" transform="translate(-14.1 -10.4) rotate(92)" fill="#c41e1e" stroke="#7a1010" stroke-width="0.5"/><circle cx="-11.5" cy="-8.2" r="0.8" fill="#f0a030"/><polygon points="0,-2.7 2.7,2.2 -2.7,2.2" transform="translate(2.9 15.1) rotate(94)" fill="#c41e1e" stroke="#7a1010" stroke-width="0.5"/><circle cx="5.5" cy="17.3" r="0.8" fill="#f0a030"/><polygon points="0,-2.4 2.4,1.9 -2.4,1.9" transform="translate(3.1 -6.1) rotate(116)" fill="#c41e1e" stroke="#7a1010" stroke-width="0.5"/><circle cx="5.7" cy="-3.9" r="0.8" fill="#f0a030"/><polygon points="0,-3.0 3.0,2.4 -3.0,2.4" transform="translate(-13.5 -3.4) rotate(9)" fill="#c41e1e" stroke="#7a1010" stroke-width="0.5"/><circle cx="-10.9" cy="-1.2" r="0.8" fill="#f0a030"/><polygon points="0,-2.6 2.6,2.1 -2.6,2.1" transform="translate(-5.4 2.5) rotate(20)" fill="#c41e1e" stroke="#7a1010" stroke-width="0.5"/><circle cx="-2.8" cy="4.7" r="0.8" fill="#f0a030"/><polygon points="0,-3.0 3.0,2.4 -3.0,2.4" transform="translate(0.1 7.5) rotate(95)" fill="#c41e1e" stroke="#7a1010" stroke-width="0.5"/><circle cx="2.7" cy="9.7" r="0.8" fill="#f0a030"/><polygon points="0,-2.6 2.6,2.1 -2.6,2.1" transform="translate(-15.7 13.0) rotate(16)" fill="#c41e1e" stroke="#7a1010" stroke-width="0.5"/><circle cx="-13.1" cy="15.2" r="0.8" fill="#f0a030"/><polygon points="0,-3.1 3.1,2.5 -3.1,2.5" transform="translate(19.7 -2.4) rotate(100)" fill="#c41e1e" stroke="#7a1010" stroke-width="0.5"/><circle cx="22.3" cy="-0.2" r="0.8" fill="#f0a030"/><polygon points="0,-2.7 2.7,2.2 -2.7,2.2" transform="translate(17.6 6.9) rotate(118)" fill="#c41e1e" stroke="#7a1010" stroke-width="0.5"/><circle cx="20.2" cy="9.1" r="0.8" fill="#f0a030"/><polygon points="0,-2.6 2.6,2.1 -2.6,2.1" transform="translate(11.1 -6.7) rotate(22)" fill="#c41e1e" stroke="#7a1010" stroke-width="0.5"/><circle cx="13.7" cy="-4.5" r="0.8" fill="#f0a030"/><polygon points="0,-2.5 2.5,2.0 -2.5,2.0" transform="translate(8.5 9.8) rotate(91)" fill="#c41e1e" stroke="#7a1010" stroke-width="0.5"/><circle cx="11.1" cy="12.0" r="0.8" fill="#f0a030"/></g>
<text x="780.8" y="53.8" font-size="11.4" font-weight="bold" textLength="75.0" lengthAdjust="spacingAndGlyphs" >SARS-CoV2</text>
<text x="698.5" y="81.6" font-size="11.4" font-weight="bold" textLength="79.0" lengthAdjust="spacingAndGlyphs" >SARS-CoV-2</text>
<text x="690.2" y="94.9" font-size="11.4" font-weight="bold" textLength="95.6" lengthAdjust="spacingAndGlyphs" >Spike Antibody</text>
<text x="717.0" y="133.2" font-size="11.4" font-weight="bold" textLength="59.2" lengthAdjust="spacingAndGlyphs" >EDC/NHS</text>
<text x="984.7" y="118.9" font-size="11.4" font-weight="bold" textLength="59.2" lengthAdjust="spacingAndGlyphs" >Protein G</text>
<text x="751.9" y="206.5" font-size="11" font-weight="bold" textLength="87.2" lengthAdjust="spacingAndGlyphs" >Incident Light</text>
<text x="885.1" y="206.5" font-size="11" font-weight="bold" textLength="95.7" lengthAdjust="spacingAndGlyphs" >Reflected Light</text>
<line x1="836.2" y1="58.8" x2="850.2" y2="75.0" stroke="#111" stroke-width="1.0"/>
<polygon points="853.8,79.2 848.7,76.3 851.7,73.7" fill="#111"/>
<line x1="763.2" y1="106.0" x2="783.3" y2="116.4" stroke="#111" stroke-width="1.0"/>
<polygon points="788.2,118.9 782.4,118.2 784.2,114.6" fill="#111"/>
<line x1="777.1" y1="133.7" x2="791.0" y2="149.9" stroke="#111" stroke-width="1.0"/>
<polygon points="794.6,154.1 789.5,151.2 792.5,148.6" fill="#111"/>
<line x1="999.5" y1="128.7" x2="979.5" y2="142.3" stroke="#111" stroke-width="1.0"/>
<polygon points="974.9,145.4 978.3,140.7 980.6,144.0" fill="#111"/>
<path d="M1138.8 99 L1138.8 300.2 L1444 300.2" fill="none" stroke="#1a1a1a" stroke-width="1.5"/>
<line x1="1133.2" y1="300.2" x2="1138.8" y2="300.2" stroke="#1a1a1a" stroke-width="1.4"/>
<line x1="1135.2" y1="266.8" x2="1138.8" y2="266.8" stroke="#1a1a1a" stroke-width="1.4"/>
<line x1="1133.2" y1="233.3" x2="1138.8" y2="233.3" stroke="#1a1a1a" stroke-width="1.4"/>
<line x1="1135.2" y1="199.9" x2="1138.8" y2="199.9" stroke="#1a1a1a" stroke-width="1.4"/>
<line x1="1133.2" y1="166.5" x2="1138.8" y2="166.5" stroke="#1a1a1a" stroke-width="1.4"/>
<line x1="1135.2" y1="133.0" x2="1138.8" y2="133.0" stroke="#1a1a1a" stroke-width="1.4"/>
<line x1="1133.2" y1="99.6" x2="1138.8" y2="99.6" stroke="#1a1a1a" stroke-width="1.4"/>
<line x1="1138.8" y1="300.2" x2="1138.8" y2="305.4" stroke="#1a1a1a" stroke-width="1.4"/>
<line x1="1189.6" y1="300.2" x2="1189.6" y2="304.2" stroke="#1a1a1a" stroke-width="1.4"/>
<line x1="1240.4" y1="300.2" x2="1240.4" y2="305.4" stroke="#1a1a1a" stroke-width="1.4"/>
<line x1="1291.2" y1="300.2" x2="1291.2" y2="304.2" stroke="#1a1a1a" stroke-width="1.4"/>
<line x1="1342.1" y1="300.2" x2="1342.1" y2="305.4" stroke="#1a1a1a" stroke-width="1.4"/>
<line x1="1392.9" y1="300.2" x2="1392.9" y2="304.2" stroke="#1a1a1a" stroke-width="1.4"/>
<line x1="1443.7" y1="300.2" x2="1443.7" y2="305.4" stroke="#1a1a1a" stroke-width="1.4"/>
<path d="M1150.8 283.1 C1153.1 283.0 1160.8 283.0 1164.9 282.1 C1169.1 281.1 1172.2 280.4 1175.9 277.7 C1179.5 275.0 1183.2 269.7 1186.8 265.7 C1190.4 261.7 1194.4 256.3 1197.7 253.7 C1201.0 251.0 1203.9 250.6 1206.5 249.9 C1209.0 249.3 1210.5 249.3 1213.0 249.7 C1215.6 250.2 1217.4 250.3 1221.7 252.6 C1226.1 254.8 1232.7 259.0 1239.2 263.0 C1245.8 267.1 1253.8 272.7 1261.1 276.6 C1268.3 280.5 1275.6 283.9 1282.9 286.4 C1290.2 289.0 1296.7 290.6 1304.7 291.9 C1312.8 293.2 1320.8 293.5 1331.0 294.1 C1341.2 294.6 1356.3 295.0 1365.9 295.2 C1375.6 295.3 1385.0 295.2 1388.8 295.2" fill="none" stroke="#ffc000" stroke-width="2.6" stroke-linecap="round"/>
<path d="M1150.8 252.6 C1153.8 252.8 1163.7 254.5 1169.3 254.1 C1175.0 253.7 1179.9 252.8 1184.6 250.4 C1189.3 247.9 1193.3 243.5 1197.7 239.5 C1202.1 235.5 1207.2 229.3 1210.8 226.4 C1214.5 223.4 1217.0 222.5 1219.6 221.5 C1222.1 220.6 1223.6 220.5 1226.1 220.9 C1228.7 221.3 1230.5 221.5 1234.8 223.7 C1239.2 225.9 1245.8 229.9 1252.3 234.0 C1258.9 238.1 1266.9 244.0 1274.2 248.2 C1281.4 252.4 1288.7 256.4 1296.0 259.1 C1303.3 261.8 1309.8 263.4 1317.9 264.6 C1325.9 265.7 1333.1 265.9 1344.1 266.1 C1355.0 266.4 1376.8 266.1 1383.4 266.1" fill="none" stroke="#0a5cc0" stroke-width="2.6" stroke-linecap="round"/>
<path d="M1150.8 223.5 C1154.6 223.7 1167.0 224.9 1173.7 224.6 C1180.4 224.3 1186.4 223.7 1191.2 222.0 C1195.9 220.3 1198.1 218.0 1202.1 214.3 C1206.1 210.7 1211.2 203.7 1215.2 200.1 C1219.2 196.6 1222.8 194.5 1226.1 193.1 C1229.4 191.8 1231.6 191.6 1234.8 191.8 C1238.1 192.1 1240.7 192.4 1245.8 194.7 C1250.9 197.0 1258.5 201.8 1265.4 205.6 C1272.3 209.4 1280.0 214.0 1287.3 217.6 C1294.6 221.3 1301.8 224.9 1309.1 227.4 C1316.4 230.0 1323.0 231.5 1331.0 232.9 C1339.0 234.3 1348.4 235.2 1357.2 235.7 C1365.9 236.3 1379.0 236.3 1383.4 236.4" fill="none" stroke="#0aa650" stroke-width="2.6" stroke-linecap="round"/>
<path d="M1150.8 188.8 C1154.6 189.1 1166.6 190.7 1173.7 190.7 C1180.8 190.8 1187.9 190.6 1193.3 189.2 C1198.8 187.9 1201.7 186.5 1206.5 182.7 C1211.2 178.8 1216.6 171.2 1221.7 166.3 C1226.8 161.4 1232.7 155.9 1237.0 153.2 C1241.4 150.4 1244.3 150.1 1248.0 149.9 C1251.6 149.7 1253.8 149.7 1258.9 152.1 C1264.0 154.5 1271.6 159.7 1278.5 164.1 C1285.5 168.5 1293.1 173.7 1300.4 178.3 C1307.7 182.8 1314.9 187.8 1322.2 191.4 C1329.5 195.0 1336.8 197.7 1344.1 199.7 C1351.3 201.7 1359.4 202.6 1365.9 203.4 C1372.5 204.2 1380.5 204.3 1383.4 204.5" fill="none" stroke="#1aaef0" stroke-width="2.6" stroke-linecap="round"/>
<path d="M1150.8 134.6 C1154.6 135.0 1167.0 136.9 1173.7 137.2 C1180.4 137.5 1185.7 137.3 1191.2 136.4 C1196.6 135.4 1201.4 134.5 1206.5 131.3 C1211.5 128.1 1216.3 122.2 1221.7 117.1 C1227.2 112.0 1234.1 104.3 1239.2 100.8 C1244.3 97.2 1248.7 96.9 1252.3 95.9 C1256.0 95.0 1257.8 95.0 1261.1 95.3 C1264.3 95.5 1266.5 95.3 1272.0 97.5 C1277.4 99.7 1286.5 104.2 1293.8 108.4 C1301.1 112.6 1308.4 118.2 1315.7 122.6 C1323.0 127.0 1330.2 131.2 1337.5 134.6 C1344.8 138.1 1351.7 141.1 1359.4 143.3 C1367.0 145.6 1379.4 147.4 1383.4 148.2" fill="none" stroke="#ff1f9c" stroke-width="2.6" stroke-linecap="round"/>
<line x1="1260" y1="93" x2="1260" y2="139" stroke="#111" stroke-width="1.9" stroke-dasharray="6.5 4"/>
<line x1="1246.4" y1="134.6" x2="1246.4" y2="181.6" stroke="#111" stroke-width="1.9" stroke-dasharray="6.5 4"/>
<line x1="1233.5" y1="178" x2="1233.5" y2="224" stroke="#111" stroke-width="1.9" stroke-dasharray="6.5 4"/>
<line x1="1220.9" y1="209" x2="1220.9" y2="248" stroke="#111" stroke-width="1.9" stroke-dasharray="6.5 4"/>
<line x1="1209.3" y1="236" x2="1209.3" y2="274" stroke="#111" stroke-width="1.9" stroke-dasharray="6.5 4"/>
<circle cx="1255.2" cy="144.4" r="3" fill="#000"/>
<line x1="1255" y1="144.2" x2="1280" y2="144.1" stroke="#000" stroke-width="2.2"/>
<polygon points="1291.4,144 1278.3,138.6 1278.3,149.5" fill="#000"/>
<text x="1165.0" y="84.4" font-size="18" font-weight="bold" textLength="244.6" lengthAdjust="spacingAndGlyphs" fill="#111" >Resonance Wavelength Shift</text>
<text x="1323.3" y="123.0" font-size="17.5" font-weight="bold" textLength="106.2" lengthAdjust="spacingAndGlyphs" fill="#111" >SARS-CoV-2</text>
<text x="1306.4" y="170.7" font-size="17.5" font-weight="bold" textLength="174.5" lengthAdjust="spacingAndGlyphs" fill="#111" >Anti-SARS-CoV-2 Ab</text>
<text x="1322.6" y="227.0" font-size="17.5" font-weight="bold" textLength="79.4" lengthAdjust="spacingAndGlyphs" fill="#111" >Protein G</text>
<text x="1325.6" y="260.0" font-size="17.5" font-weight="bold" textLength="78.7" lengthAdjust="spacingAndGlyphs" fill="#111" >EDC/NHS</text>
<text x="1315.8" y="289.6" font-size="17.5" font-weight="bold" textLength="116.7" lengthAdjust="spacingAndGlyphs" fill="#111" >DVD Plasmon</text>
<text x="1121.6" y="105.2" font-size="18.6" font-weight="bold" text-anchor="end" fill="#111" >30</text>
<text x="1121.6" y="171.9" font-size="18.6" font-weight="bold" text-anchor="end" fill="#111" >20</text>
<text x="1121.6" y="239.4" font-size="18.6" font-weight="bold" text-anchor="end" fill="#111" >10</text>
<text x="1121.6" y="306.2" font-size="18.6" font-weight="bold" text-anchor="end" fill="#111" >0</text>
<text x="1138.8" y="329.3" font-size="18.5" font-weight="bold" text-anchor="middle" fill="#111" >500</text>
<text x="1241.2" y="329.3" font-size="18.5" font-weight="bold" text-anchor="middle" fill="#111" >550</text>
<text x="1342.0" y="329.3" font-size="18.5" font-weight="bold" text-anchor="middle" fill="#111" >600</text>
<text x="1443.7" y="329.3" font-size="18.5" font-weight="bold" text-anchor="middle" fill="#111" >650</text>
<text x="1290.7" y="355.6" font-size="20.5" font-weight="bold" text-anchor="middle" textLength="170.7" lengthAdjust="spacingAndGlyphs" fill="#111" >Wavelength (nm)</text>
<text x="1090.5" y="199.7" font-size="19.5" font-weight="bold" text-anchor="middle" textLength="129.4" lengthAdjust="spacingAndGlyphs" fill="#111" transform="rotate(-90 1090.5 199.7)" >Reflection (au)</text>
<path d="M1582.1 70 L1582.1 302.2 L1932.3 302.2" fill="none" stroke="#1a1a1a" stroke-width="1.5"/>
<line x1="1576.1" y1="70.5" x2="1582.1" y2="70.5" stroke="#1a1a1a" stroke-width="1.4"/>
<line x1="1578.3" y1="109.3" x2="1582.1" y2="109.3" stroke="#1a1a1a" stroke-width="1.4"/>
<line x1="1576.1" y1="148" x2="1582.1" y2="148" stroke="#1a1a1a" stroke-width="1.4"/>
<line x1="1578.3" y1="186.9" x2="1582.1" y2="186.9" stroke="#1a1a1a" stroke-width="1.4"/>
<line x1="1576.1" y1="225.7" x2="1582.1" y2="225.7" stroke="#1a1a1a" stroke-width="1.4"/>
<line x1="1578.3" y1="264" x2="1582.1" y2="264" stroke="#1a1a1a" stroke-width="1.4"/>
<line x1="1576.1" y1="302.2" x2="1582.1" y2="302.2" stroke="#1a1a1a" stroke-width="1.4"/>
<line x1="1582.1" y1="302.2" x2="1582.1" y2="308" stroke="#1a1a1a" stroke-width="1.4"/>
<line x1="1640.4" y1="302.2" x2="1640.4" y2="306" stroke="#1a1a1a" stroke-width="1.4"/>
<line x1="1698.7" y1="302.2" x2="1698.7" y2="308" stroke="#1a1a1a" stroke-width="1.4"/>
<line x1="1757.0" y1="302.2" x2="1757.0" y2="306" stroke="#1a1a1a" stroke-width="1.4"/>
<line x1="1815.4" y1="302.2" x2="1815.4" y2="308" stroke="#1a1a1a" stroke-width="1.4"/>
<line x1="1873.7" y1="302.2" x2="1873.7" y2="306" stroke="#1a1a1a" stroke-width="1.4"/>
<line x1="1932.0" y1="302.2" x2="1932.0" y2="308" stroke="#1a1a1a" stroke-width="1.4"/>
<path d="M1579.5 255.0 C1581.2 255.2 1590.6 256.7 1593.7 256.9 C1596.9 257.0 1604.7 256.9 1606.9 256.5 C1609.1 256.1 1611.5 254.5 1612.5 253.5 C1613.5 252.4 1614.9 249.1 1615.5 247.5 C1616.1 245.9 1617.1 242.6 1617.4 240.0 C1617.7 237.4 1617.9 228.0 1618.1 225.0 C1618.3 222.0 1618.7 216.2 1619.2 214.5 C1619.8 212.8 1621.2 211.0 1623.0 210.4 C1624.8 209.7 1626.6 209.1 1635.0 208.9 C1643.4 208.7 1679.2 208.5 1695.0 208.5 C1710.7 208.5 1760.0 208.5 1770.0 208.5 C1780.0 208.5 1778.9 208.6 1780.5 208.5 C1782.1 208.4 1783.0 208.1 1783.5 207.4 C1784.0 206.7 1784.6 205.0 1785.0 202.5 C1785.3 200.0 1786.0 188.9 1786.5 185.6 C1787.0 182.3 1788.4 176.2 1789.5 174.4 C1790.5 172.5 1793.4 170.6 1795.5 169.9 C1797.6 169.2 1804.3 168.6 1807.5 168.4 C1810.6 168.2 1819.3 168.0 1822.5 168.0 C1825.6 168.0 1832.8 168.2 1834.5 168.0 C1836.2 167.8 1836.4 165.5 1836.7 166.5 C1837.1 167.5 1837.7 173.8 1837.9 176.2 C1838.0 178.7 1838.1 184.7 1838.2 187.5 C1838.4 190.3 1838.6 198.1 1839.4 199.9 C1840.2 201.6 1843.5 202.3 1845.0 202.5 C1846.5 202.7 1850.3 201.6 1852.5 201.7 C1854.7 201.9 1861.6 203.8 1863.7 204.0 C1865.9 204.2 1870.0 204.5 1871.2 203.6 C1872.5 202.8 1873.9 199.0 1874.6 196.9 C1875.3 194.8 1876.3 188.2 1877.2 185.6 C1878.2 183.0 1880.8 176.3 1882.5 174.4 C1884.2 172.4 1889.2 169.6 1891.9 168.7 C1894.5 167.9 1901.9 167.1 1905.0 166.9 C1908.1 166.6 1915.7 166.5 1918.1 166.5 C1920.5 166.5 1924.5 166.8 1925.6 167.2 C1926.8 167.7 1927.6 168.9 1927.9 170.6 C1928.2 172.3 1927.4 180.3 1928.2 181.9 C1929.1 183.4 1931.6 183.5 1935.0 183.7 C1938.4 184.0 1952.4 184.1 1957.5 184.1 C1962.6 184.1 1976.4 183.8 1978.9 183.7" fill="none" stroke="#000" stroke-width="2.6" stroke-linejoin="round" stroke-linecap="round"/>
<text x="1564.0" y="76.8" font-size="19.5" font-weight="bold" text-anchor="end" fill="#111" >580</text>
<text x="1564.0" y="153.0" font-size="19.5" font-weight="bold" text-anchor="end" fill="#111" >560</text>
<text x="1564.0" y="231.5" font-size="19.5" font-weight="bold" text-anchor="end" fill="#111" >540</text>
<text x="1564.0" y="308.8" font-size="19.5" font-weight="bold" text-anchor="end" fill="#111" >500</text>
<text x="1580.6" y="334.5" font-size="19.5" font-weight="bold" text-anchor="middle" fill="#111" >0.0</text>
<text x="1696.6" y="337.2" font-size="19.5" font-weight="bold" text-anchor="middle" fill="#111" >20</text>
<text x="1814.0" y="337.2" font-size="19.5" font-weight="bold" text-anchor="middle" fill="#111" >40</text>
<text x="1931.0" y="337.2" font-size="19.5" font-weight="bold" text-anchor="middle" fill="#111" >60</text>
<text x="1756.8" y="364.5" font-size="20.5" font-weight="bold" text-anchor="middle" textLength="112.5" lengthAdjust="spacingAndGlyphs" fill="#111" >Time (min.)</text>
<text x="1518.5" y="176.7" font-size="22.5" font-weight="bold" text-anchor="middle" textLength="171.5" lengthAdjust="spacingAndGlyphs" fill="#111" transform="rotate(-90 1518.5 176.7)" >Wavelength (nm)</text>
<text x="1675.5" y="88.1" font-size="17" font-weight="bold" textLength="80.2" lengthAdjust="spacingAndGlyphs" fill="#111" >Influenza</text>
<text x="1775.6" y="88.1" font-size="17" font-weight="bold" textLength="53.2" lengthAdjust="spacingAndGlyphs" fill="#111" >MERS</text>
<text x="1860.0" y="88.1" font-size="17" font-weight="bold" textLength="109.5" lengthAdjust="spacingAndGlyphs" fill="#111" >SARS-CoV-2</text>
<text x="1587.0" y="126.7" font-size="17" font-weight="bold" textLength="109.1" lengthAdjust="spacingAndGlyphs" fill="#111" >SARS-CoV-2</text>
<text x="1601.2" y="147.4" font-size="17" font-weight="bold" textLength="80.7" lengthAdjust="spacingAndGlyphs" fill="#111" >Antibody</text>
<text x="1587.0" y="292.5" font-size="17" font-weight="bold" textLength="36.6" lengthAdjust="spacingAndGlyphs" fill="#111" >PBS</text>
<text x="1673.6" y="289.8" font-size="17" font-weight="bold" textLength="36.6" lengthAdjust="spacingAndGlyphs" fill="#111" >PBS</text>
<text x="1750.5" y="289.8" font-size="17" font-weight="bold" textLength="36.6" lengthAdjust="spacingAndGlyphs" fill="#111" >PBS</text>
<text x="1842.3" y="293.2" font-size="17" font-weight="bold" textLength="36.6" lengthAdjust="spacingAndGlyphs" fill="#111" >PBS</text>
<text x="1931.2" y="288.0" font-size="17" font-weight="bold" textLength="36.6" lengthAdjust="spacingAndGlyphs" fill="#111" >PBS</text>
<line x1="1618.5" y1="161.2" x2="1618.5" y2="199.0" stroke="#111" stroke-width="1.1"/>
<polygon points="1618.5,206.0 1615.9,199.0 1621.1,199.0" fill="#111"/>
<line x1="1718.2" y1="99.4" x2="1718.2" y2="187.5" stroke="#111" stroke-width="1.1"/>
<polygon points="1718.2,194.5 1715.6,187.5 1720.8,187.5" fill="#111"/>
<line x1="1782.3" y1="105.0" x2="1782.3" y2="159.5" stroke="#111" stroke-width="1.1"/>
<polygon points="1782.3,166.5 1779.7,159.5 1784.9,159.5" fill="#111"/>
<line x1="1878.0" y1="100.5" x2="1878.0" y2="155.5" stroke="#111" stroke-width="1.1"/>
<polygon points="1878.0,162.5 1875.4,155.5 1880.6,155.5" fill="#111"/>
<g transform="translate(730.0 620.5) scale(0.977)">
<polygon points="0.0,0.0 209.7,34.6 208.3,77.3 0.7,15.5" fill="url(#gFront)"/>
<polygon points="209.7,34.6 253.2,-38.3 253.9,-20.6 208.3,77.3" fill="#1b4f8f"/>
<polygon points="0.0,0.0 80.2,-59.6 253.2,-38.3 209.7,34.6" fill="#f781ad"/>

<ellipse cx="115.6" cy="-47.8" rx="10.8" ry="6.2" fill="url(#gDot)"/>
<ellipse cx="183.3" cy="-39" rx="10.8" ry="6.2" fill="url(#gDot)"/>
<ellipse cx="215.7" cy="-33.1" rx="10.8" ry="6.2" fill="url(#gDot)"/>
<ellipse cx="240.2" cy="-30.4" rx="10.8" ry="6.2" fill="url(#gDot)"/>
<ellipse cx="70.7" cy="-33.9" rx="10.8" ry="6.2" fill="url(#gDot)"/>
<ellipse cx="97.2" cy="-26.5" rx="10.8" ry="6.2" fill="url(#gDot)"/>
<ellipse cx="124.4" cy="-22.8" rx="10.8" ry="6.2" fill="url(#gDot)"/>
<ellipse cx="167.1" cy="-20.6" rx="10.8" ry="6.2" fill="url(#gDot)"/>
<ellipse cx="202.4" cy="-13.2" rx="10.8" ry="6.2" fill="url(#gDot)"/>
<ellipse cx="228.4" cy="-9.9" rx="10.8" ry="6.2" fill="url(#gDot)"/>
<ellipse cx="50.8" cy="-14" rx="10.8" ry="6.2" fill="url(#gDot)"/>
<ellipse cx="81" cy="-8.8" rx="10.8" ry="6.2" fill="url(#gDot)"/>
<ellipse cx="111.9" cy="-3.7" rx="10.8" ry="6.2" fill="url(#gDot)"/>
<ellipse cx="147.2" cy="1.5" rx="10.8" ry="6.2" fill="url(#gDot)"/>
<ellipse cx="181.8" cy="8.1" rx="10.8" ry="6.2" fill="url(#gDot)"/>
<ellipse cx="214" cy="15.5" rx="10.8" ry="6.2" fill="url(#gDot)"/>
<path d="M241.7 -29.4 C243.7 -18.4 245.0 -8.4 246.0 -2.4 C247.2 -12.4 248.8 -24.4 250.8 -33.4 Z" fill="#f3df48"/>
<path d="M229.9 -8.9 C231.9 2.1 233.2 12.1 234.2 18.1 C235.4 8.1 237.0 -3.9 239.0 -12.9 Z" fill="#f3df48"/>
<path d="M215.5 16.5 C217.5 27.5 218.8 37.5 219.8 43.5 C221.0 33.5 222.6 21.5 224.6 12.5 Z" fill="#f3df48"/>
<path d="M5.2 3.7 A10.3 10.3 0 0 1 25.8 3.7 C25.8 11.0 25.0 19.2 23.7 26.5 L12.1 24.9 C10.8 18.7 5.2 11.0 5.2 3.7 Z" fill="url(#gCone)"/>
<polygon points="13.9,4.7 17.7,5.1 20.1,22.5 16.7,22.1" fill="#fffbe0" opacity="0.8"/>
<path d="M30.6 7.0 A9.9 9.9 0 0 1 50.4 7.0 C50.4 14.9 49.8 23.8 48.4 31.7 L37.4 30.1 C36.0 23.3 30.6 14.9 30.6 7.0 Z" fill="url(#gCone)"/>
<polygon points="38.9,8.0 42.7,8.4 45.1,27.7 41.7,27.3" fill="#fffbe0" opacity="0.8"/>
<path d="M58.2 11.7 A11 11 0 0 1 80.2 11.7 C80.2 20.0 79.2 29.2 77.8 37.5 L65.4 35.9 C64.0 28.7 58.2 20.0 58.2 11.7 Z" fill="url(#gCone)"/>
<polygon points="67.6,12.7 71.4,13.1 73.8,33.5 70.4,33.1" fill="#fffbe0" opacity="0.8"/>
<path d="M86.5 17.3 A12.1 12.1 0 0 1 110.7 17.3 C110.7 25.9 109.4 35.6 107.8 44.2 L94.2 42.6 C92.6 35.1 86.5 25.9 86.5 17.3 Z" fill="url(#gCone)"/>
<polygon points="97.0,18.3 100.8,18.7 103.2,40.2 99.8,39.8" fill="#fffbe0" opacity="0.8"/>
<path d="M117.8 25.0 A13.2 13.2 0 0 1 144.2 25.0 C144.2 33.7 142.5 43.6 140.8 52.3 L126.0 50.7 C124.3 43.0 117.8 33.7 117.8 25.0 Z" fill="url(#gCone)"/>
<polygon points="129.4,26.0 133.2,26.4 135.6,48.3 132.2,47.9" fill="#fffbe0" opacity="0.8"/>
<path d="M153.5 33.5 A13.6 13.6 0 0 1 180.7 33.5 C180.7 41.9 178.9 51.2 177.1 59.6 L161.9 58.0 C160.1 50.7 153.5 41.9 153.5 33.5 Z" fill="url(#gCone)"/>
<polygon points="165.5,34.5 169.3,34.9 171.7,55.6 168.3,55.2" fill="#fffbe0" opacity="0.8"/>
<path d="M190.8 41.8 A11.6 11.6 0 0 1 214.0 41.8 C214.0 50.8 212.8 60.9 211.3 69.9 L198.3 68.3 C196.8 60.3 190.8 50.8 190.8 41.8 Z" fill="url(#gCone)"/>
<polygon points="200.8,42.8 204.6,43.2 207.0,65.9 203.6,65.5" fill="#fffbe0" opacity="0.8"/>
</g>
<use href="#gGemS" transform="translate(820.4 582.8)"/>
<circle cx="854.2" cy="467.4" r="14.3" fill="url(#gMag)"/>
<circle cx="785.6" cy="506.8" r="14.3" fill="url(#gMag)"/>
<path d="M907.9 507.6 L907.8 522.0 A14.2 14.2 0 1 1 893.5 507.7 Z" fill="url(#gGrn)" stroke="#0a7a28" stroke-width="0.6"/>
<path d="M907.9 507.6 L907.8 522.0 L896.1 519.4 Z" fill="#0a6a22" opacity="0.3"/>
<path d="M861.6 535.2 L861.5 549.6 A14.2 14.2 0 1 1 847.2 535.3 Z" fill="url(#gGrn)" stroke="#0a7a28" stroke-width="0.6"/>
<path d="M861.6 535.2 L861.5 549.6 L849.8 547.0 Z" fill="#0a6a22" opacity="0.3"/>
<g transform="translate(871.8 535.7) scale(1.0)" fill="none" stroke-linecap="round" stroke-linejoin="round"><path d="M-4.1 0 L-4.1 38 L-16 61 M4.1 0 L4.1 38 L16.4 61 M-12.6 39.5 L-21.6 53 M12.6 38.6 L21 53" stroke="#8f7a06" stroke-width="4.9"/><path d="M-4.1 0 L-4.1 38 L-16 61 M4.1 0 L4.1 38 L16.4 61" stroke="url(#gAbY)" stroke-width="3.2"/><path d="M-12.6 39.5 L-21.6 53 M12.6 38.6 L21 53" stroke="#e5c61a" stroke-width="3.2"/></g>
<use href="#gGemS" transform="translate(871 604.1)"/>
<use href="#gGemS" transform="translate(918.7 629.1)"/>
<use href="#gPacS" transform="translate(812.8 545.3) scale(0.963)"/>
<use href="#gPacS" transform="translate(925.2 555.0) scale(0.963)"/>
<g transform="translate(813.1 481.2) scale(1.0)" fill="none" stroke-linecap="round" stroke-linejoin="round"><path d="M-4.1 0 L-4.1 38 L-16 61 M4.1 0 L4.1 38 L16.4 61 M-12.6 39.5 L-21.6 53 M12.6 38.6 L21 53" stroke="#8f7a06" stroke-width="4.9"/><path d="M-4.1 0 L-4.1 38 L-16 61 M4.1 0 L4.1 38 L16.4 61" stroke="url(#gAbY)" stroke-width="3.2"/><path d="M-12.6 39.5 L-21.6 53 M12.6 38.6 L21 53" stroke="#e5c61a" stroke-width="3.2"/></g>
<g transform="translate(925.2 491.1) scale(1.0)" fill="none" stroke-linecap="round" stroke-linejoin="round"><path d="M-4.1 0 L-4.1 38 L-16 61 M4.1 0 L4.1 38 L16.4 61 M-12.6 39.5 L-21.6 53 M12.6 38.6 L21 53" stroke="#8f7a06" stroke-width="4.9"/><path d="M-4.1 0 L-4.1 38 L-16 61 M4.1 0 L4.1 38 L16.4 61" stroke="url(#gAbY)" stroke-width="3.2"/><path d="M-12.6 39.5 L-21.6 53 M12.6 38.6 L21 53" stroke="#e5c61a" stroke-width="3.2"/></g>
<path d="M801.8 466.0 C802.8 474.0 808.2 476.2 810.7 474.2 S816.6 474.4 816.6 480.4" fill="none" stroke="#111" stroke-width="1.5" stroke-linecap="round"/>
<path d="M913.5 477.0 C914.5 485.0 920.1 486.7 922.6 484.7 S928.8 484.4 928.8 490.4" fill="none" stroke="#111" stroke-width="1.5" stroke-linecap="round"/>
<path d="M860.5 521.0 C861.5 529.0 867.0 531.0 869.5 529.0 S875.4 529.0 875.4 535.0" fill="none" stroke="#111" stroke-width="1.5" stroke-linecap="round"/>
<use href="#gNFs" transform="translate(802.1 447.5) scale(1.0)"/>
<use href="#gNFs" transform="translate(913.7 458.6) scale(1.0)"/>
<use href="#gNFs" transform="translate(860.5 502.6) scale(1.0)"/>
<use href="#gNFs" transform="translate(993.0 465.2) scale(0.62)"/>
<text x="1013.0" y="471.5" font-size="16.4" font-weight="bold" textLength="70.6" lengthAdjust="spacingAndGlyphs" fill="#111" >AuPt NFs</text>
<g transform="translate(992.0 489.5) scale(0.56)" fill="none" stroke-linecap="round" stroke-linejoin="round"><path d="M-4.1 0 L-4.1 38 L-16 61 M4.1 0 L4.1 38 L16.4 61 M-12.6 39.5 L-21.6 53 M12.6 38.6 L21 53" stroke="#8f7a06" stroke-width="7.1"/><path d="M-4.1 0 L-4.1 38 L-16 61 M4.1 0 L4.1 38 L16.4 61" stroke="url(#gAbY)" stroke-width="4.6"/><path d="M-12.6 39.5 L-21.6 53 M12.6 38.6 L21 53" stroke="#e5c61a" stroke-width="4.6"/></g>
<text x="1014.6" y="507.5" font-size="16.4" font-weight="bold" textLength="80.8" lengthAdjust="spacingAndGlyphs" fill="#111" >Florfenicol</text>
<text x="1022.5" y="526.6" font-size="16.4" font-weight="bold" textLength="64.9" lengthAdjust="spacingAndGlyphs" fill="#111" >antibody</text>
<use href="#gPacS" transform="translate(993.9 544.1) scale(0.519)"/>
<text x="1016.2" y="551.1" font-size="16.4" font-weight="bold" textLength="80.1" lengthAdjust="spacingAndGlyphs" fill="#111" >Florfenicol</text>
<use href="#gGemS" transform="translate(992.3 575.9) scale(0.62)"/>
<text x="1016.8" y="575.9" font-size="16.4" font-weight="bold" textLength="80.5" lengthAdjust="spacingAndGlyphs" fill="#111" >Florfenicol</text>
<text x="1028.9" y="595.0" font-size="16.4" font-weight="bold" textLength="56.3" lengthAdjust="spacingAndGlyphs" fill="#111" >antigen</text>
<path d="M992.9 617.6 L987.2 611.3 A7.6 7.6 0 1 1 998.6 611.3 Z" fill="url(#gGrn)" stroke="#0a7a28" stroke-width="0.6"/>
<path d="M992.9 617.6 L987.2 611.3 L992.9 608.1 Z" fill="#0a6a22" opacity="0.3"/>
<text x="1019.0" y="618.9" font-size="16.4" font-weight="bold" textLength="58.3" lengthAdjust="spacingAndGlyphs" fill="#111" >Fipronil</text>
<circle cx="992.9" cy="638.9" r="9" fill="url(#gMag)"/>
<text x="1018.4" y="649.1" font-size="16.4" font-weight="bold" textLength="95.4" lengthAdjust="spacingAndGlyphs" fill="#111" >Enrofloxacin</text>
<g transform="translate(1169.6 626.4) scale(1.0)">
<polygon points="0.0,0.0 209.7,34.6 208.3,77.3 0.7,15.5" fill="url(#gFront)"/>
<polygon points="209.7,34.6 253.2,-38.3 253.9,-20.6 208.3,77.3" fill="#1b4f8f"/>
<polygon points="0.0,0.0 80.2,-59.6 253.2,-38.3 209.7,34.6" fill="#f781ad"/>

<ellipse cx="115.6" cy="-47.8" rx="10.8" ry="6.2" fill="url(#gDot)"/>
<ellipse cx="183.3" cy="-39" rx="10.8" ry="6.2" fill="url(#gDot)"/>
<ellipse cx="215.7" cy="-33.1" rx="10.8" ry="6.2" fill="url(#gDot)"/>
<ellipse cx="240.2" cy="-30.4" rx="10.8" ry="6.2" fill="url(#gDot)"/>
<ellipse cx="70.7" cy="-33.9" rx="10.8" ry="6.2" fill="url(#gDot)"/>
<ellipse cx="97.2" cy="-26.5" rx="10.8" ry="6.2" fill="url(#gDot)"/>
<ellipse cx="124.4" cy="-22.8" rx="10.8" ry="6.2" fill="url(#gDot)"/>
<ellipse cx="167.1" cy="-20.6" rx="10.8" ry="6.2" fill="url(#gDot)"/>
<ellipse cx="202.4" cy="-13.2" rx="10.8" ry="6.2" fill="url(#gDot)"/>
<ellipse cx="228.4" cy="-9.9" rx="10.8" ry="6.2" fill="url(#gDot)"/>
<ellipse cx="50.8" cy="-14" rx="10.8" ry="6.2" fill="url(#gDot)"/>
<ellipse cx="81" cy="-8.8" rx="10.8" ry="6.2" fill="url(#gDot)"/>
<ellipse cx="111.9" cy="-3.7" rx="10.8" ry="6.2" fill="url(#gDot)"/>
<ellipse cx="147.2" cy="1.5" rx="10.8" ry="6.2" fill="url(#gDot)"/>
<ellipse cx="181.8" cy="8.1" rx="10.8" ry="6.2" fill="url(#gDot)"/>
<ellipse cx="214" cy="15.5" rx="10.8" ry="6.2" fill="url(#gDot)"/>
<path d="M241.7 -29.4 C243.7 -18.4 245.0 -8.4 246.0 -2.4 C247.2 -12.4 248.8 -24.4 250.8 -33.4 Z" fill="#f3df48"/>
<path d="M229.9 -8.9 C231.9 2.1 233.2 12.1 234.2 18.1 C235.4 8.1 237.0 -3.9 239.0 -12.9 Z" fill="#f3df48"/>
<path d="M215.5 16.5 C217.5 27.5 218.8 37.5 219.8 43.5 C221.0 33.5 222.6 21.5 224.6 12.5 Z" fill="#f3df48"/>
<path d="M5.2 3.7 A10.3 10.3 0 0 1 25.8 3.7 C25.8 11.0 25.0 19.2 23.7 26.5 L12.1 24.9 C10.8 18.7 5.2 11.0 5.2 3.7 Z" fill="url(#gCone)"/>
<polygon points="13.9,4.7 17.7,5.1 20.1,22.5 16.7,22.1" fill="#fffbe0" opacity="0.8"/>
<path d="M30.6 7.0 A9.9 9.9 0 0 1 50.4 7.0 C50.4 14.9 49.8 23.8 48.4 31.7 L37.4 30.1 C36.0 23.3 30.6 14.9 30.6 7.0 Z" fill="url(#gCone)"/>
<polygon points="38.9,8.0 42.7,8.4 45.1,27.7 41.7,27.3" fill="#fffbe0" opacity="0.8"/>
<path d="M58.2 11.7 A11 11 0 0 1 80.2 11.7 C80.2 20.0 79.2 29.2 77.8 37.5 L65.4 35.9 C64.0 28.7 58.2 20.0 58.2 11.7 Z" fill="url(#gCone)"/>
<polygon points="67.6,12.7 71.4,13.1 73.8,33.5 70.4,33.1" fill="#fffbe0" opacity="0.8"/>
<path d="M86.5 17.3 A12.1 12.1 0 0 1 110.7 17.3 C110.7 25.9 109.4 35.6 107.8 44.2 L94.2 42.6 C92.6 35.1 86.5 25.9 86.5 17.3 Z" fill="url(#gCone)"/>
<polygon points="97.0,18.3 100.8,18.7 103.2,40.2 99.8,39.8" fill="#fffbe0" opacity="0.8"/>
<path d="M117.8 25.0 A13.2 13.2 0 0 1 144.2 25.0 C144.2 33.7 142.5 43.6 140.8 52.3 L126.0 50.7 C124.3 43.0 117.8 33.7 117.8 25.0 Z" fill="url(#gCone)"/>
<polygon points="129.4,26.0 133.2,26.4 135.6,48.3 132.2,47.9" fill="#fffbe0" opacity="0.8"/>
<path d="M153.5 33.5 A13.6 13.6 0 0 1 180.7 33.5 C180.7 41.9 178.9 51.2 177.1 59.6 L161.9 58.0 C160.1 50.7 153.5 41.9 153.5 33.5 Z" fill="url(#gCone)"/>
<polygon points="165.5,34.5 169.3,34.9 171.7,55.6 168.3,55.2" fill="#fffbe0" opacity="0.8"/>
<path d="M190.8 41.8 A11.6 11.6 0 0 1 214.0 41.8 C214.0 50.8 212.8 60.9 211.3 69.9 L198.3 68.3 C196.8 60.3 190.8 50.8 190.8 41.8 Z" fill="url(#gCone)"/>
<polygon points="200.8,42.8 204.6,43.2 207.0,65.9 203.6,65.5" fill="#fffbe0" opacity="0.8"/>
</g>
<use href="#gPenS" transform="translate(1260.6 579.6)"/>
<circle cx="1268.4" cy="528.2" r="14.3" fill="url(#gMag)"/>
<circle cx="1342.2" cy="517.0" r="14.3" fill="url(#gMag)"/>
<g transform="translate(1308.2 539.3) scale(1.0)" fill="none" stroke-linecap="round" stroke-linejoin="round"><path d="M-4.1 0 L-4.1 38 L-16 61 M4.1 0 L4.1 38 L16.4 61 M-12.6 39.5 L-21.6 53 M12.6 38.6 L21 53" stroke="#7c0c0c" stroke-width="4.9"/><path d="M-4.1 0 L-4.1 38 L-16 61 M4.1 0 L4.1 38 L16.4 61" stroke="url(#gAbR)" stroke-width="3.2"/><path d="M-12.6 39.5 L-21.6 53 M12.6 38.6 L21 53" stroke="#c01414" stroke-width="3.2"/></g>
<use href="#gPenS" transform="translate(1308.6 606.6)"/>
<use href="#gPenS" transform="translate(1362.4 639)"/>
<use href="#gPacS" transform="translate(1269.0 482.0) scale(0.948)"/>
<use href="#gPacS" transform="translate(1324.7 476.6) scale(0.948)"/>
<path d="M1229.6 578.7 L1219.0 566.9 A14.2 14.2 0 1 1 1240.2 566.9 Z" fill="url(#gGrn)" stroke="#0a7a28" stroke-width="0.6"/>
<path d="M1229.6 578.7 L1219.0 566.9 L1229.6 560.9 Z" fill="#0a6a22" opacity="0.3"/>
<path d="M1373.4 577.1 L1362.8 565.3 A14.2 14.2 0 1 1 1384.0 565.3 Z" fill="url(#gGrn)" stroke="#0a7a28" stroke-width="0.6"/>
<path d="M1373.4 577.1 L1362.8 565.3 L1373.4 559.3 Z" fill="#0a6a22" opacity="0.3"/>
<g transform="translate(1231.2 491.6) scale(1.0)" fill="none" stroke-linecap="round" stroke-linejoin="round"><path d="M-4.1 0 L-4.1 38 L-16 61 M4.1 0 L4.1 38 L16.4 61 M-12.6 39.5 L-21.6 53 M12.6 38.6 L21 53" stroke="#7c0c0c" stroke-width="4.9"/><path d="M-4.1 0 L-4.1 38 L-16 61 M4.1 0 L4.1 38 L16.4 61" stroke="url(#gAbR)" stroke-width="3.2"/><path d="M-12.6 39.5 L-21.6 53 M12.6 38.6 L21 53" stroke="#c01414" stroke-width="3.2"/></g>
<g transform="translate(1374.4 488.4) scale(1.0)" fill="none" stroke-linecap="round" stroke-linejoin="round"><path d="M-4.1 0 L-4.1 38 L-16 61 M4.1 0 L4.1 38 L16.4 61 M-12.6 39.5 L-21.6 53 M12.6 38.6 L21 53" stroke="#7c0c0c" stroke-width="4.9"/><path d="M-4.1 0 L-4.1 38 L-16 61 M4.1 0 L4.1 38 L16.4 61" stroke="url(#gAbR)" stroke-width="3.2"/><path d="M-12.6 39.5 L-21.6 53 M12.6 38.6 L21 53" stroke="#c01414" stroke-width="3.2"/></g>
<path d="M1223.0 477.6 C1224.0 485.6 1227.9 487.3 1230.4 485.3 S1234.8 485.0 1234.8 491.0" fill="none" stroke="#111" stroke-width="1.5" stroke-linecap="round"/>
<path d="M1359.6 477.6 C1360.6 485.6 1367.8 485.6 1370.3 483.6 S1378.0 481.6 1378.0 487.6" fill="none" stroke="#111" stroke-width="1.5" stroke-linecap="round"/>
<path d="M1296.4 528.0 C1297.4 536.0 1303.1 536.3 1305.6 534.3 S1311.8 532.6 1311.8 538.6" fill="none" stroke="#111" stroke-width="1.5" stroke-linecap="round"/>
<use href="#gNFs" transform="translate(1223.2 458.8) scale(1.0)"/>
<use href="#gNFs" transform="translate(1359.7 458.8) scale(1.0)"/>
<use href="#gNFs" transform="translate(1296.4 509.1) scale(1.0)"/>
<g transform="translate(1436.0 520.5) scale(0.56)" fill="none" stroke-linecap="round" stroke-linejoin="round"><path d="M-4.1 0 L-4.1 38 L-16 61 M4.1 0 L4.1 38 L16.4 61 M-12.6 39.5 L-21.6 53 M12.6 38.6 L21 53" stroke="#7c0c0c" stroke-width="7.1"/><path d="M-4.1 0 L-4.1 38 L-16 61 M4.1 0 L4.1 38 L16.4 61" stroke="url(#gAbR)" stroke-width="4.6"/><path d="M-12.6 39.5 L-21.6 53 M12.6 38.6 L21 53" stroke="#c01414" stroke-width="4.6"/></g>
<text x="1453.9" y="540.9" font-size="16.4" font-weight="bold" textLength="57.9" lengthAdjust="spacingAndGlyphs" fill="#111" >Fipronil</text>
<text x="1453.9" y="560.0" font-size="16.4" font-weight="bold" textLength="65.9" lengthAdjust="spacingAndGlyphs" fill="#111" >antibody</text>
<use href="#gPenS" transform="translate(1437 578) scale(0.58)"/>
<text x="1453.9" y="579.7" font-size="16.4" font-weight="bold" textLength="57.9" lengthAdjust="spacingAndGlyphs" fill="#111" >Fipronil</text>
<text x="1455.2" y="598.8" font-size="16.4" font-weight="bold" textLength="55.7" lengthAdjust="spacingAndGlyphs" fill="#111" >antigen</text>
<g transform="translate(1574.9 613.7) scale(1.0)">
<polygon points="0.0,0.0 209.7,34.6 208.3,77.3 0.7,15.5" fill="url(#gFront)"/>
<polygon points="209.7,34.6 253.2,-38.3 253.9,-20.6 208.3,77.3" fill="#1b4f8f"/>
<polygon points="0.0,0.0 80.2,-59.6 253.2,-38.3 209.7,34.6" fill="#f781ad"/>

<ellipse cx="115.6" cy="-47.8" rx="10.8" ry="6.2" fill="url(#gDot)"/>
<ellipse cx="183.3" cy="-39" rx="10.8" ry="6.2" fill="url(#gDot)"/>
<ellipse cx="215.7" cy="-33.1" rx="10.8" ry="6.2" fill="url(#gDot)"/>
<ellipse cx="240.2" cy="-30.4" rx="10.8" ry="6.2" fill="url(#gDot)"/>
<ellipse cx="70.7" cy="-33.9" rx="10.8" ry="6.2" fill="url(#gDot)"/>
<ellipse cx="97.2" cy="-26.5" rx="10.8" ry="6.2" fill="url(#gDot)"/>
<ellipse cx="124.4" cy="-22.8" rx="10.8" ry="6.2" fill="url(#gDot)"/>
<ellipse cx="167.1" cy="-20.6" rx="10.8" ry="6.2" fill="url(#gDot)"/>
<ellipse cx="202.4" cy="-13.2" rx="10.8" ry="6.2" fill="url(#gDot)"/>
<ellipse cx="228.4" cy="-9.9" rx="10.8" ry="6.2" fill="url(#gDot)"/>
<ellipse cx="50.8" cy="-14" rx="10.8" ry="6.2" fill="url(#gDot)"/>
<ellipse cx="81" cy="-8.8" rx="10.8" ry="6.2" fill="url(#gDot)"/>
<ellipse cx="111.9" cy="-3.7" rx="10.8" ry="6.2" fill="url(#gDot)"/>
<ellipse cx="147.2" cy="1.5" rx="10.8" ry="6.2" fill="url(#gDot)"/>
<ellipse cx="181.8" cy="8.1" rx="10.8" ry="6.2" fill="url(#gDot)"/>
<ellipse cx="214" cy="15.5" rx="10.8" ry="6.2" fill="url(#gDot)"/>
<path d="M241.7 -29.4 C243.7 -18.4 245.0 -8.4 246.0 -2.4 C247.2 -12.4 248.8 -24.4 250.8 -33.4 Z" fill="#f3df48"/>
<path d="M229.9 -8.9 C231.9 2.1 233.2 12.1 234.2 18.1 C235.4 8.1 237.0 -3.9 239.0 -12.9 Z" fill="#f3df48"/>
<path d="M215.5 16.5 C217.5 27.5 218.8 37.5 219.8 43.5 C221.0 33.5 222.6 21.5 224.6 12.5 Z" fill="#f3df48"/>
<path d="M5.2 3.7 A10.3 10.3 0 0 1 25.8 3.7 C25.8 11.0 25.0 19.2 23.7 26.5 L12.1 24.9 C10.8 18.7 5.2 11.0 5.2 3.7 Z" fill="url(#gCone)"/>
<polygon points="13.9,4.7 17.7,5.1 20.1,22.5 16.7,22.1" fill="#fffbe0" opacity="0.8"/>
<path d="M30.6 7.0 A9.9 9.9 0 0 1 50.4 7.0 C50.4 14.9 49.8 23.8 48.4 31.7 L37.4 30.1 C36.0 23.3 30.6 14.9 30.6 7.0 Z" fill="url(#gCone)"/>
<polygon points="38.9,8.0 42.7,8.4 45.1,27.7 41.7,27.3" fill="#fffbe0" opacity="0.8"/>
<path d="M58.2 11.7 A11 11 0 0 1 80.2 11.7 C80.2 20.0 79.2 29.2 77.8 37.5 L65.4 35.9 C64.0 28.7 58.2 20.0 58.2 11.7 Z" fill="url(#gCone)"/>
<polygon points="67.6,12.7 71.4,13.1 73.8,33.5 70.4,33.1" fill="#fffbe0" opacity="0.8"/>
<path d="M86.5 17.3 A12.1 12.1 0 0 1 110.7 17.3 C110.7 25.9 109.4 35.6 107.8 44.2 L94.2 42.6 C92.6 35.1 86.5 25.9 86.5 17.3 Z" fill="url(#gCone)"/>
<polygon points="97.0,18.3 100.8,18.7 103.2,40.2 99.8,39.8" fill="#fffbe0" opacity="0.8"/>
<path d="M117.8 25.0 A13.2 13.2 0 0 1 144.2 25.0 C144.2 33.7 142.5 43.6 140.8 52.3 L126.0 50.7 C124.3 43.0 117.8 33.7 117.8 25.0 Z" fill="url(#gCone)"/>
<polygon points="129.4,26.0 133.2,26.4 135.6,48.3 132.2,47.9" fill="#fffbe0" opacity="0.8"/>
<path d="M153.5 33.5 A13.6 13.6 0 0 1 180.7 33.5 C180.7 41.9 178.9 51.2 177.1 59.6 L161.9 58.0 C160.1 50.7 153.5 41.9 153.5 33.5 Z" fill="url(#gCone)"/>
<polygon points="165.5,34.5 169.3,34.9 171.7,55.6 168.3,55.2" fill="#fffbe0" opacity="0.8"/>
<path d="M190.8 41.8 A11.6 11.6 0 0 1 214.0 41.8 C214.0 50.8 212.8 60.9 211.3 69.9 L198.3 68.3 C196.8 60.3 190.8 50.8 190.8 41.8 Z" fill="url(#gCone)"/>
<polygon points="200.8,42.8 204.6,43.2 207.0,65.9 203.6,65.5" fill="#fffbe0" opacity="0.8"/>
</g>
<use href="#gCrnS" transform="translate(1668.3 569.4)"/>
<circle cx="1625.0" cy="555.2" r="14.3" fill="url(#gMag)"/>
<circle cx="1791.4" cy="549.9" r="14.3" fill="url(#gMag)"/>
<g transform="translate(1717.6 525.0) scale(1.0)" fill="none" stroke-linecap="round" stroke-linejoin="round"><path d="M-4.1 0 L-4.1 38 L-16 61 M4.1 0 L4.1 38 L16.4 61 M-12.6 39.5 L-21.6 53 M12.6 38.6 L21 53" stroke="#0f1a66" stroke-width="4.9"/><path d="M-4.1 0 L-4.1 38 L-16 61 M4.1 0 L4.1 38 L16.4 61" stroke="url(#gAbB)" stroke-width="3.2"/><path d="M-12.6 39.5 L-21.6 53 M12.6 38.6 L21 53" stroke="#2435a8" stroke-width="3.2"/></g>
<use href="#gCrnS" transform="translate(1718.5 597.5)"/>
<use href="#gCrnS" transform="translate(1767.9 626.4)"/>
<path d="M1666.7 509.8 L1656.1 498.0 A14.2 14.2 0 1 1 1677.3 498.0 Z" fill="url(#gGrn)" stroke="#0a7a28" stroke-width="0.6"/>
<path d="M1666.7 509.8 L1656.1 498.0 L1666.7 492.1 Z" fill="#0a6a22" opacity="0.3"/>
<path d="M1752.6 508.3 L1742.0 496.5 A14.2 14.2 0 1 1 1763.2 496.5 Z" fill="url(#gGrn)" stroke="#0a7a28" stroke-width="0.6"/>
<path d="M1752.6 508.3 L1742.0 496.5 L1752.6 490.6 Z" fill="#0a6a22" opacity="0.3"/>
<use href="#gPacS" transform="translate(1685.8 528.2) scale(0.948)"/>
<use href="#gPacS" transform="translate(1751.0 526.6) scale(0.948)"/>
<g transform="translate(1624.4 485.2) scale(1.0)" fill="none" stroke-linecap="round" stroke-linejoin="round"><path d="M-4.1 0 L-4.1 38 L-16 61 M4.1 0 L4.1 38 L16.4 61 M-12.6 39.5 L-21.6 53 M12.6 38.6 L21 53" stroke="#0f1a66" stroke-width="4.9"/><path d="M-4.1 0 L-4.1 38 L-16 61 M4.1 0 L4.1 38 L16.4 61" stroke="url(#gAbB)" stroke-width="3.2"/><path d="M-12.6 39.5 L-21.6 53 M12.6 38.6 L21 53" stroke="#2435a8" stroke-width="3.2"/></g>
<g transform="translate(1790.8 478.9) scale(1.0)" fill="none" stroke-linecap="round" stroke-linejoin="round"><path d="M-4.1 0 L-4.1 38 L-16 61 M4.1 0 L4.1 38 L16.4 61 M-12.6 39.5 L-21.6 53 M12.6 38.6 L21 53" stroke="#0f1a66" stroke-width="4.9"/><path d="M-4.1 0 L-4.1 38 L-16 61 M4.1 0 L4.1 38 L16.4 61" stroke="url(#gAbB)" stroke-width="3.2"/><path d="M-12.6 39.5 L-21.6 53 M12.6 38.6 L21 53" stroke="#2435a8" stroke-width="3.2"/></g>
<path d="M1612.6 472.0 C1613.6 480.0 1619.3 481.3 1621.8 479.3 S1628.0 478.6 1628.0 484.6" fill="none" stroke="#111" stroke-width="1.5" stroke-linecap="round"/>
<path d="M1776.4 466.0 C1777.4 474.0 1784.4 475.1 1786.9 473.1 S1794.4 472.2 1794.4 478.2" fill="none" stroke="#111" stroke-width="1.5" stroke-linecap="round"/>
<path d="M1716.0 513.6 C1717.0 521.6 1717.6 522.0 1720.1 520.0 S1721.2 518.4 1721.2 524.4" fill="none" stroke="#111" stroke-width="1.5" stroke-linecap="round"/>
<use href="#gNFs" transform="translate(1612.6 453.4) scale(1.0)"/>
<use href="#gNFs" transform="translate(1776.4 447.0) scale(1.0)"/>
<use href="#gNFs" transform="translate(1716.0 494.8) scale(1.0)"/>
<g transform="translate(1840.1 492.0) scale(0.6)" fill="none" stroke-linecap="round" stroke-linejoin="round"><path d="M-4.1 0 L-4.1 38 L-16 61 M4.1 0 L4.1 38 L16.4 61 M-12.6 39.5 L-21.6 53 M12.6 38.6 L21 53" stroke="#0f1a66" stroke-width="6.9"/><path d="M-4.1 0 L-4.1 38 L-16 61 M4.1 0 L4.1 38 L16.4 61" stroke="url(#gAbB)" stroke-width="4.5"/><path d="M-12.6 39.5 L-21.6 53 M12.6 38.6 L21 53" stroke="#2435a8" stroke-width="4.5"/></g>
<text x="1862.3" y="504.3" font-size="16.4" font-weight="bold" textLength="94.9" lengthAdjust="spacingAndGlyphs" fill="#111" >Enrofloxacin</text>
<text x="1876.7" y="524.0" font-size="16.4" font-weight="bold" textLength="65.2" lengthAdjust="spacingAndGlyphs" fill="#111" >antibody</text>
<use href="#gCrnS" transform="translate(1841.7 552.4) scale(0.62)"/>
<text x="1866.2" y="558.4" font-size="16.4" font-weight="bold" textLength="94.8" lengthAdjust="spacingAndGlyphs" fill="#111" >Enrofloxacin</text>
<text x="1886.2" y="577.5" font-size="16.4" font-weight="bold" textLength="55.7" lengthAdjust="spacingAndGlyphs" fill="#111" >antigen</text>
<path d="M737.8 738.2 L737.8 973.2 L1015.1 973.2" fill="none" stroke="#000" stroke-width="2.4"/>
<line x1="733.3" y1="958.2" x2="737.8" y2="958.2" stroke="#111" stroke-width="1.6"/>
<text x="730.3" y="963.6" font-size="15.2" font-weight="bold" text-anchor="end" fill="#111" >0</text>
<line x1="735.2" y1="936.2" x2="737.8" y2="936.2" stroke="#111" stroke-width="1.3"/>
<line x1="733.3" y1="914.3" x2="737.8" y2="914.3" stroke="#111" stroke-width="1.6"/>
<text x="730.3" y="919.7" font-size="15.2" font-weight="bold" text-anchor="end" fill="#111" >14</text>
<line x1="735.2" y1="892.4" x2="737.8" y2="892.4" stroke="#111" stroke-width="1.3"/>
<line x1="733.3" y1="870.4" x2="737.8" y2="870.4" stroke="#111" stroke-width="1.6"/>
<text x="730.3" y="875.8" font-size="15.2" font-weight="bold" text-anchor="end" fill="#111" >28</text>
<line x1="735.2" y1="848.5" x2="737.8" y2="848.5" stroke="#111" stroke-width="1.3"/>
<line x1="733.3" y1="826.5" x2="737.8" y2="826.5" stroke="#111" stroke-width="1.6"/>
<text x="730.3" y="831.9" font-size="15.2" font-weight="bold" text-anchor="end" fill="#111" >42</text>
<line x1="735.2" y1="804.6" x2="737.8" y2="804.6" stroke="#111" stroke-width="1.3"/>
<line x1="733.3" y1="782.6" x2="737.8" y2="782.6" stroke="#111" stroke-width="1.6"/>
<text x="730.3" y="788.0" font-size="15.2" font-weight="bold" text-anchor="end" fill="#111" >56</text>
<line x1="735.2" y1="760.7" x2="737.8" y2="760.7" stroke="#111" stroke-width="1.3"/>
<line x1="733.3" y1="738.7" x2="737.8" y2="738.7" stroke="#111" stroke-width="1.6"/>
<text x="730.3" y="744.1" font-size="15.2" font-weight="bold" text-anchor="end" fill="#111" >70</text>
<line x1="737.8" y1="973.2" x2="737.8" y2="977.4" stroke="#111" stroke-width="1.6"/>
<text x="737.8" y="993.4" font-size="14.8" font-weight="bold" text-anchor="middle" fill="#111" >0</text>
<line x1="765.4" y1="973.2" x2="765.4" y2="975.8" stroke="#111" stroke-width="1.3"/>
<line x1="793.1" y1="973.2" x2="793.1" y2="977.4" stroke="#111" stroke-width="1.6"/>
<text x="793.1" y="993.4" font-size="14.8" font-weight="bold" text-anchor="middle" fill="#111" >200</text>
<line x1="820.8" y1="973.2" x2="820.8" y2="975.8" stroke="#111" stroke-width="1.3"/>
<line x1="848.4" y1="973.2" x2="848.4" y2="977.4" stroke="#111" stroke-width="1.6"/>
<text x="848.4" y="993.4" font-size="14.8" font-weight="bold" text-anchor="middle" fill="#111" >400</text>
<line x1="876.0" y1="973.2" x2="876.0" y2="975.8" stroke="#111" stroke-width="1.3"/>
<line x1="903.7" y1="973.2" x2="903.7" y2="977.4" stroke="#111" stroke-width="1.6"/>
<text x="903.7" y="993.4" font-size="14.8" font-weight="bold" text-anchor="middle" fill="#111" >600</text>
<line x1="931.3" y1="973.2" x2="931.3" y2="975.8" stroke="#111" stroke-width="1.3"/>
<line x1="959.0" y1="973.2" x2="959.0" y2="977.4" stroke="#111" stroke-width="1.6"/>
<text x="959.0" y="993.4" font-size="14.8" font-weight="bold" text-anchor="middle" fill="#111" >800</text>
<line x1="986.6" y1="973.2" x2="986.6" y2="975.8" stroke="#111" stroke-width="1.3"/>
<line x1="1014.3" y1="973.2" x2="1014.3" y2="977.4" stroke="#111" stroke-width="1.6"/>
<text x="1015.8" y="993.4" font-size="14.8" font-weight="bold" text-anchor="middle" fill="#111" >1000</text>
<text x="887.4" y="1010.3" font-size="15.5" font-weight="bold" text-anchor="middle" textLength="57.0" lengthAdjust="spacingAndGlyphs" fill="#111" >Time (s)</text>
<text x="709.7" y="847.6" font-size="15.5" font-weight="bold" text-anchor="middle" textLength="151.5" lengthAdjust="spacingAndGlyphs" fill="#111" transform="rotate(-90 709.7 847.6)" >Response unit (OD)</text>
<path d="M737.8 958.2 L1014.3 958.2" fill="none" stroke="#7a1a1a" stroke-width="2.4" stroke-linejoin="round"/>
<path d="M737.8 958.2 L748.9 958.2 L748.9 958.2 L751.0 950.2 L753.1 945.0 L755.2 941.7 L757.4 939.4 L759.5 938.0 L761.6 937.1 L763.8 936.5 L765.9 936.1 L768.0 935.8 L770.2 935.6 L772.3 935.5 L774.4 935.4 L776.5 935.4 L778.7 935.4 L780.8 935.3 L782.9 935.3 L785.1 935.3 L787.2 935.3 L789.3 935.3 L791.4 935.3 L793.6 935.3 L795.7 935.3 L797.8 935.3 L800.0 935.3 L802.1 935.3 L804.2 935.3 L806.3 935.3 L808.5 935.3 L810.6 935.3 L812.7 935.3 L814.9 935.3 L817.0 935.3 L819.1 935.3 L821.2 935.3 L823.4 935.3 L825.5 935.3 L827.6 935.3 L829.8 935.3 L831.9 935.3 L834.0 935.3 L836.2 935.3 L838.3 935.3 L840.4 935.3 L842.5 935.3 L844.7 935.3 L846.8 935.3 L848.9 935.3 L851.1 935.3 L853.2 935.3 L855.3 935.3 L855.3 935.3 L1014.3 935.3" fill="none" stroke="#cf6480" stroke-width="2.4" stroke-linejoin="round"/>
<path d="M737.8 958.2 L748.9 958.2 L748.9 958.2 L751.0 949.7 L753.1 942.9 L755.2 937.4 L757.4 933.1 L759.5 929.5 L761.6 926.7 L763.8 924.4 L765.9 922.6 L768.0 921.2 L770.2 920.0 L772.3 919.1 L774.4 918.3 L776.5 917.7 L778.7 917.2 L780.8 916.8 L782.9 916.5 L785.1 916.3 L787.2 916.1 L789.3 915.9 L791.4 915.8 L793.6 915.7 L795.7 915.6 L797.8 915.5 L800.0 915.5 L802.1 915.4 L804.2 915.4 L806.3 915.4 L808.5 915.3 L810.6 915.3 L812.7 915.3 L814.9 915.3 L817.0 915.3 L819.1 915.3 L821.2 915.3 L823.4 915.3 L825.5 915.3 L827.6 915.3 L829.8 915.3 L831.9 915.2 L834.0 915.2 L836.2 915.2 L838.3 915.2 L840.4 915.2 L842.5 915.2 L844.7 915.2 L846.8 915.2 L848.9 915.2 L851.1 915.2 L853.2 915.2 L855.3 915.2 L855.3 915.2 L1014.3 919.0" fill="none" stroke="#2f9ad0" stroke-width="2.4" stroke-linejoin="round"/>
<path d="M737.8 958.2 L748.9 958.2 L748.9 958.2 L751.0 952.8 L753.1 947.7 L755.2 943.1 L757.4 938.8 L759.5 934.9 L761.6 931.3 L763.8 927.9 L765.9 924.9 L768.0 922.0 L770.2 919.4 L772.3 917.0 L774.4 914.7 L776.5 912.7 L778.7 910.8 L780.8 909.0 L782.9 907.4 L785.1 905.9 L787.2 904.6 L789.3 903.3 L791.4 902.1 L793.6 901.1 L795.7 900.1 L797.8 899.1 L800.0 898.3 L802.1 897.5 L804.2 896.8 L806.3 896.1 L808.5 895.5 L810.6 895.0 L812.7 894.5 L814.9 894.0 L817.0 893.5 L819.1 893.1 L821.2 892.8 L823.4 892.4 L825.5 892.1 L827.6 891.8 L829.8 891.5 L831.9 891.3 L834.0 891.0 L836.2 890.8 L838.3 890.6 L840.4 890.5 L842.5 890.3 L844.7 890.1 L846.8 890.0 L848.9 889.9 L851.1 889.7 L853.2 889.6 L855.3 889.5 L855.3 889.5 L1014.3 891.4" fill="none" stroke="#f0952a" stroke-width="2.4" stroke-linejoin="round"/>
<path d="M737.8 958.2 L748.9 958.2 L748.9 958.2 L751.0 952.8 L753.1 947.6 L755.2 942.7 L757.4 938.1 L759.5 933.7 L761.6 929.5 L763.8 925.5 L765.9 921.7 L768.0 918.1 L770.2 914.7 L772.3 911.5 L774.4 908.4 L776.5 905.4 L778.7 902.7 L780.8 900.0 L782.9 897.5 L785.1 895.1 L787.2 892.9 L789.3 890.7 L791.4 888.7 L793.6 886.7 L795.7 884.9 L797.8 883.1 L800.0 881.5 L802.1 879.9 L804.2 878.4 L806.3 876.9 L808.5 875.6 L810.6 874.3 L812.7 873.1 L814.9 871.9 L817.0 870.8 L819.1 869.8 L821.2 868.8 L823.4 867.8 L825.5 866.9 L827.6 866.1 L829.8 865.3 L831.9 864.5 L834.0 863.8 L836.2 863.1 L838.3 862.4 L840.4 861.8 L842.5 861.2 L844.7 860.6 L846.8 860.1 L848.9 859.6 L851.1 859.1 L853.2 858.6 L855.3 858.2 L855.3 858.2 L1014.3 862.2" fill="none" stroke="#111111" stroke-width="2.4" stroke-linejoin="round"/>
<path d="M737.8 958.2 L748.9 958.2 L748.9 958.2 L751.0 949.4 L753.1 941.2 L755.2 933.5 L757.4 926.4 L759.5 919.8 L761.6 913.6 L763.8 907.9 L765.9 902.5 L768.0 897.5 L770.2 892.9 L772.3 888.6 L774.4 884.5 L776.5 880.8 L778.7 877.3 L780.8 874.1 L782.9 871.0 L785.1 868.2 L787.2 865.6 L789.3 863.1 L791.4 860.9 L793.6 858.8 L795.7 856.8 L797.8 854.9 L800.0 853.2 L802.1 851.6 L804.2 850.2 L806.3 848.8 L808.5 847.5 L810.6 846.3 L812.7 845.2 L814.9 844.1 L817.0 843.2 L819.1 842.3 L821.2 841.4 L823.4 840.7 L825.5 839.9 L827.6 839.2 L829.8 838.6 L831.9 838.0 L834.0 837.5 L836.2 837.0 L838.3 836.5 L840.4 836.1 L842.5 835.6 L844.7 835.3 L846.8 834.9 L848.9 834.6 L851.1 834.3 L853.2 834.0 L855.3 833.7 L855.3 833.7 L1014.3 854.4" fill="none" stroke="#cf1e1e" stroke-width="2.4" stroke-linejoin="round"/>
<path d="M737.8 958.2 L748.9 958.2 L748.9 958.2 L751.0 947.2 L753.1 936.9 L755.2 927.4 L757.4 918.5 L759.5 910.3 L761.6 902.6 L763.8 895.5 L765.9 888.9 L768.0 882.8 L770.2 877.1 L772.3 871.8 L774.4 866.9 L776.5 862.3 L778.7 858.0 L780.8 854.1 L782.9 850.4 L785.1 847.0 L787.2 843.8 L789.3 840.9 L791.4 838.1 L793.6 835.6 L795.7 833.2 L797.8 831.0 L800.0 829.0 L802.1 827.1 L804.2 825.3 L806.3 823.7 L808.5 822.2 L810.6 820.7 L812.7 819.4 L814.9 818.2 L817.0 817.1 L819.1 816.0 L821.2 815.0 L823.4 814.1 L825.5 813.3 L827.6 812.5 L829.8 811.7 L831.9 811.1 L834.0 810.4 L836.2 809.8 L838.3 809.3 L840.4 808.8 L842.5 808.3 L844.7 807.9 L846.8 807.5 L848.9 807.1 L851.1 806.7 L853.2 806.4 L855.3 806.1 L855.3 806.1 L1014.3 829.9" fill="none" stroke="#1616b8" stroke-width="2.4" stroke-linejoin="round"/>
<path d="M737.8 958.2 L748.9 958.2 L748.9 958.2 L751.0 941.9 L753.1 926.9 L755.2 912.9 L757.4 900.0 L759.5 888.1 L761.6 877.0 L763.8 866.8 L765.9 857.3 L768.0 848.5 L770.2 840.3 L772.3 832.8 L774.4 825.8 L776.5 819.4 L778.7 813.4 L780.8 807.9 L782.9 802.8 L785.1 798.0 L787.2 793.6 L789.3 789.5 L791.4 785.8 L793.6 782.3 L795.7 779.1 L797.8 776.1 L800.0 773.3 L802.1 770.7 L804.2 768.4 L806.3 766.2 L808.5 764.1 L810.6 762.3 L812.7 760.5 L814.9 758.9 L817.0 757.4 L819.1 756.0 L821.2 754.7 L823.4 753.6 L825.5 752.5 L827.6 751.4 L829.8 750.5 L831.9 749.6 L834.0 748.8 L836.2 748.1 L838.3 747.4 L840.4 746.7 L842.5 746.1 L844.7 745.6 L846.8 745.1 L848.9 744.6 L851.1 744.2 L853.2 743.8 L855.3 743.4 L855.3 743.4 L1014.3 759.7" fill="none" stroke="#e21fd2" stroke-width="2.4" stroke-linejoin="round"/>
<line x1="985.3" y1="763.1" x2="1018.5" y2="763.1" stroke="#e21fd2" stroke-width="2.3"/>
<text x="1023.4" y="768.7" font-size="17.2" font-weight="bold" textLength="58.6" lengthAdjust="spacingAndGlyphs" fill="#111" >1600 nM</text>
<line x1="985.3" y1="783.9" x2="1018.5" y2="783.9" stroke="#1616b8" stroke-width="2.3"/>
<text x="1023.4" y="789.5" font-size="17.2" font-weight="bold" textLength="50.4" lengthAdjust="spacingAndGlyphs" fill="#111" >800 nM</text>
<line x1="985.3" y1="804.1" x2="1018.5" y2="804.1" stroke="#cf1e1e" stroke-width="2.3"/>
<text x="1023.4" y="809.7" font-size="17.2" font-weight="bold" textLength="50.4" lengthAdjust="spacingAndGlyphs" fill="#111" >400 nM</text>
<line x1="985.3" y1="824.3" x2="1018.5" y2="824.3" stroke="#111111" stroke-width="2.3"/>
<text x="1023.4" y="829.9" font-size="17.2" font-weight="bold" textLength="50.4" lengthAdjust="spacingAndGlyphs" fill="#111" >200 nM</text>
<line x1="985.3" y1="844.2" x2="1018.5" y2="844.2" stroke="#f0952a" stroke-width="2.3"/>
<text x="1023.4" y="849.8" font-size="17.2" font-weight="bold" textLength="50.4" lengthAdjust="spacingAndGlyphs" fill="#111" >100 nM</text>
<line x1="985.3" y1="864.4" x2="1018.5" y2="864.4" stroke="#2f9ad0" stroke-width="2.3"/>
<text x="1023.4" y="870.0" font-size="17.2" font-weight="bold" textLength="41.9" lengthAdjust="spacingAndGlyphs" fill="#111" >50 nM</text>
<line x1="985.3" y1="884.9" x2="1018.5" y2="884.9" stroke="#cf6480" stroke-width="2.3"/>
<text x="1023.4" y="890.5" font-size="17.2" font-weight="bold" textLength="41.9" lengthAdjust="spacingAndGlyphs" fill="#111" >25 nM</text>
<line x1="985.3" y1="905.4" x2="1018.5" y2="905.4" stroke="#7a1a1a" stroke-width="2.3"/>
<text x="1023.4" y="911.0" font-size="17.2" font-weight="bold" textLength="33.9" lengthAdjust="spacingAndGlyphs" fill="#111" >0 nM</text>
<path d="M1178.2 741.1 L1178.2 977.0 L1455.2 977.0" fill="none" stroke="#000" stroke-width="2.4"/>
<line x1="1173.7" y1="956.6" x2="1178.2" y2="956.6" stroke="#111" stroke-width="1.6"/>
<text x="1170.0" y="962.0" font-size="15.2" font-weight="bold" text-anchor="end" fill="#111" >0</text>
<line x1="1175.6" y1="935.1" x2="1178.2" y2="935.1" stroke="#111" stroke-width="1.3"/>
<line x1="1173.7" y1="913.6" x2="1178.2" y2="913.6" stroke="#111" stroke-width="1.6"/>
<text x="1170.0" y="919.0" font-size="15.2" font-weight="bold" text-anchor="end" fill="#111" >11</text>
<line x1="1175.6" y1="892.1" x2="1178.2" y2="892.1" stroke="#111" stroke-width="1.3"/>
<line x1="1173.7" y1="870.6" x2="1178.2" y2="870.6" stroke="#111" stroke-width="1.6"/>
<text x="1170.0" y="876.0" font-size="15.2" font-weight="bold" text-anchor="end" fill="#111" >22</text>
<line x1="1175.6" y1="849.1" x2="1178.2" y2="849.1" stroke="#111" stroke-width="1.3"/>
<line x1="1173.7" y1="827.6" x2="1178.2" y2="827.6" stroke="#111" stroke-width="1.6"/>
<text x="1170.0" y="833.0" font-size="15.2" font-weight="bold" text-anchor="end" fill="#111" >33</text>
<line x1="1175.6" y1="806.1" x2="1178.2" y2="806.1" stroke="#111" stroke-width="1.3"/>
<line x1="1173.7" y1="784.6" x2="1178.2" y2="784.6" stroke="#111" stroke-width="1.6"/>
<text x="1170.0" y="790.0" font-size="15.2" font-weight="bold" text-anchor="end" fill="#111" >44</text>
<line x1="1175.6" y1="763.1" x2="1178.2" y2="763.1" stroke="#111" stroke-width="1.3"/>
<line x1="1173.7" y1="741.6" x2="1178.2" y2="741.6" stroke="#111" stroke-width="1.6"/>
<text x="1170.0" y="747.0" font-size="15.2" font-weight="bold" text-anchor="end" fill="#111" >55</text>
<line x1="1178.2" y1="977.0" x2="1178.2" y2="981.2" stroke="#111" stroke-width="1.6"/>
<text x="1178.2" y="995.3" font-size="14.8" font-weight="bold" text-anchor="middle" fill="#111" >0</text>
<line x1="1205.8" y1="977.0" x2="1205.8" y2="979.6" stroke="#111" stroke-width="1.3"/>
<line x1="1233.4" y1="977.0" x2="1233.4" y2="981.2" stroke="#111" stroke-width="1.6"/>
<text x="1233.4" y="995.3" font-size="14.8" font-weight="bold" text-anchor="middle" fill="#111" >200</text>
<line x1="1261.1" y1="977.0" x2="1261.1" y2="979.6" stroke="#111" stroke-width="1.3"/>
<line x1="1288.7" y1="977.0" x2="1288.7" y2="981.2" stroke="#111" stroke-width="1.6"/>
<text x="1288.7" y="995.3" font-size="14.8" font-weight="bold" text-anchor="middle" fill="#111" >400</text>
<line x1="1316.3" y1="977.0" x2="1316.3" y2="979.6" stroke="#111" stroke-width="1.3"/>
<line x1="1343.9" y1="977.0" x2="1343.9" y2="981.2" stroke="#111" stroke-width="1.6"/>
<text x="1343.9" y="995.3" font-size="14.8" font-weight="bold" text-anchor="middle" fill="#111" >600</text>
<line x1="1371.5" y1="977.0" x2="1371.5" y2="979.6" stroke="#111" stroke-width="1.3"/>
<line x1="1399.2" y1="977.0" x2="1399.2" y2="981.2" stroke="#111" stroke-width="1.6"/>
<text x="1399.2" y="995.3" font-size="14.8" font-weight="bold" text-anchor="middle" fill="#111" >800</text>
<line x1="1426.8" y1="977.0" x2="1426.8" y2="979.6" stroke="#111" stroke-width="1.3"/>
<line x1="1454.4" y1="977.0" x2="1454.4" y2="981.2" stroke="#111" stroke-width="1.6"/>
<text x="1455.9" y="995.3" font-size="14.8" font-weight="bold" text-anchor="middle" fill="#111" >1000</text>
<text x="1327.8" y="1012.3" font-size="15.5" font-weight="bold" text-anchor="middle" textLength="57.1" lengthAdjust="spacingAndGlyphs" fill="#111" >Time (s)</text>
<text x="1149.8" y="849.2" font-size="15.5" font-weight="bold" text-anchor="middle" textLength="151.5" lengthAdjust="spacingAndGlyphs" fill="#111" transform="rotate(-90 1149.8 849.2)" >Response unit (OD)</text>
<path d="M1178.2 956.6 L1454.4 956.6" fill="none" stroke="#7a1a1a" stroke-width="2.4" stroke-linejoin="round"/>
<path d="M1178.2 956.6 L1189.2 956.6 L1189.2 956.6 L1191.4 956.5 L1193.5 956.4 L1195.6 956.4 L1197.8 956.3 L1199.9 956.2 L1202.0 956.1 L1204.1 956.1 L1206.3 956.0 L1208.4 955.9 L1210.5 955.9 L1212.6 955.8 L1214.8 955.7 L1216.9 955.7 L1219.0 955.6 L1221.1 955.6 L1223.3 955.5 L1225.4 955.5 L1227.5 955.4 L1229.7 955.3 L1231.8 955.3 L1233.9 955.2 L1236.0 955.2 L1238.2 955.2 L1240.3 955.1 L1242.4 955.1 L1244.5 955.0 L1246.7 955.0 L1248.8 954.9 L1250.9 954.9 L1253.1 954.9 L1255.2 954.8 L1257.3 954.8 L1259.4 954.7 L1261.6 954.7 L1263.7 954.7 L1265.8 954.6 L1267.9 954.6 L1270.1 954.6 L1272.2 954.5 L1274.3 954.5 L1276.4 954.5 L1278.6 954.5 L1280.7 954.4 L1282.8 954.4 L1285.0 954.4 L1287.1 954.4 L1289.2 954.3 L1291.3 954.3 L1293.5 954.3 L1295.6 954.3 L1295.6 954.3 L1454.4 952.7" fill="none" stroke="#cf6480" stroke-width="2.4" stroke-linejoin="round"/>
<path d="M1178.2 956.6 L1189.2 956.6 L1189.2 956.6 L1191.4 956.1 L1193.5 955.6 L1195.6 955.1 L1197.8 954.7 L1199.9 954.3 L1202.0 953.9 L1204.1 953.5 L1206.3 953.2 L1208.4 952.8 L1210.5 952.5 L1212.6 952.2 L1214.8 951.9 L1216.9 951.7 L1219.0 951.4 L1221.1 951.1 L1223.3 950.9 L1225.4 950.7 L1227.5 950.5 L1229.7 950.3 L1231.8 950.1 L1233.9 949.9 L1236.0 949.7 L1238.2 949.6 L1240.3 949.4 L1242.4 949.3 L1244.5 949.1 L1246.7 949.0 L1248.8 948.9 L1250.9 948.7 L1253.1 948.6 L1255.2 948.5 L1257.3 948.4 L1259.4 948.3 L1261.6 948.2 L1263.7 948.1 L1265.8 948.0 L1267.9 948.0 L1270.1 947.9 L1272.2 947.8 L1274.3 947.7 L1276.4 947.7 L1278.6 947.6 L1280.7 947.6 L1282.8 947.5 L1285.0 947.4 L1287.1 947.4 L1289.2 947.3 L1291.3 947.3 L1293.5 947.3 L1295.6 947.2 L1295.6 947.2 L1454.4 946.4" fill="none" stroke="#2f9ad0" stroke-width="2.4" stroke-linejoin="round"/>
<path d="M1178.2 956.6 L1189.2 956.6 L1189.2 956.6 L1191.4 955.8 L1193.5 955.0 L1195.6 954.3 L1197.8 953.6 L1199.9 952.9 L1202.0 952.2 L1204.1 951.5 L1206.3 950.8 L1208.4 950.2 L1210.5 949.6 L1212.6 949.0 L1214.8 948.4 L1216.9 947.8 L1219.0 947.2 L1221.1 946.7 L1223.3 946.1 L1225.4 945.6 L1227.5 945.1 L1229.7 944.6 L1231.8 944.1 L1233.9 943.6 L1236.0 943.2 L1238.2 942.7 L1240.3 942.3 L1242.4 941.9 L1244.5 941.5 L1246.7 941.1 L1248.8 940.7 L1250.9 940.3 L1253.1 939.9 L1255.2 939.5 L1257.3 939.2 L1259.4 938.8 L1261.6 938.5 L1263.7 938.2 L1265.8 937.8 L1267.9 937.5 L1270.1 937.2 L1272.2 936.9 L1274.3 936.6 L1276.4 936.4 L1278.6 936.1 L1280.7 935.8 L1282.8 935.6 L1285.0 935.3 L1287.1 935.1 L1289.2 934.8 L1291.3 934.6 L1293.5 934.3 L1295.6 934.1 L1295.6 934.1 L1454.4 923.0" fill="none" stroke="#f0952a" stroke-width="2.4" stroke-linejoin="round"/>
<path d="M1178.2 956.6 L1189.2 956.6 L1189.2 956.6 L1191.4 953.9 L1193.5 951.4 L1195.6 948.9 L1197.8 946.6 L1199.9 944.3 L1202.0 942.2 L1204.1 940.1 L1206.3 938.1 L1208.4 936.2 L1210.5 934.4 L1212.6 932.7 L1214.8 931.0 L1216.9 929.4 L1219.0 927.9 L1221.1 926.4 L1223.3 925.0 L1225.4 923.6 L1227.5 922.3 L1229.7 921.1 L1231.8 919.9 L1233.9 918.8 L1236.0 917.7 L1238.2 916.6 L1240.3 915.6 L1242.4 914.7 L1244.5 913.8 L1246.7 912.9 L1248.8 912.1 L1250.9 911.2 L1253.1 910.5 L1255.2 909.7 L1257.3 909.0 L1259.4 908.3 L1261.6 907.7 L1263.7 907.1 L1265.8 906.5 L1267.9 905.9 L1270.1 905.4 L1272.2 904.8 L1274.3 904.3 L1276.4 903.8 L1278.6 903.4 L1280.7 902.9 L1282.8 902.5 L1285.0 902.1 L1287.1 901.7 L1289.2 901.3 L1291.3 901.0 L1293.5 900.6 L1295.6 900.3 L1295.6 900.3 L1454.4 888.6" fill="none" stroke="#111111" stroke-width="2.4" stroke-linejoin="round"/>
<path d="M1178.2 956.6 L1189.2 956.6 L1189.2 956.6 L1191.4 951.1 L1193.5 945.9 L1195.6 941.0 L1197.8 936.3 L1199.9 931.9 L1202.0 927.7 L1204.1 923.8 L1206.3 920.0 L1208.4 916.5 L1210.5 913.1 L1212.6 910.0 L1214.8 907.0 L1216.9 904.1 L1219.0 901.4 L1221.1 898.9 L1223.3 896.5 L1225.4 894.2 L1227.5 892.0 L1229.7 890.0 L1231.8 888.1 L1233.9 886.2 L1236.0 884.5 L1238.2 882.9 L1240.3 881.3 L1242.4 879.8 L1244.5 878.5 L1246.7 877.1 L1248.8 875.9 L1250.9 874.7 L1253.1 873.6 L1255.2 872.5 L1257.3 871.5 L1259.4 870.6 L1261.6 869.7 L1263.7 868.9 L1265.8 868.1 L1267.9 867.3 L1270.1 866.6 L1272.2 865.9 L1274.3 865.3 L1276.4 864.6 L1278.6 864.1 L1280.7 863.5 L1282.8 863.0 L1285.0 862.5 L1287.1 862.1 L1289.2 861.6 L1291.3 861.2 L1293.5 860.8 L1295.6 860.4 L1295.6 860.4 L1454.4 852.6" fill="none" stroke="#cf1e1e" stroke-width="2.4" stroke-linejoin="round"/>
<path d="M1178.2 956.6 L1189.2 956.6 L1189.2 956.6 L1191.4 948.2 L1193.5 940.3 L1195.6 932.9 L1197.8 925.9 L1199.9 919.3 L1202.0 913.1 L1204.1 907.2 L1206.3 901.7 L1208.4 896.5 L1210.5 891.6 L1212.6 886.9 L1214.8 882.6 L1216.9 878.5 L1219.0 874.6 L1221.1 870.9 L1223.3 867.5 L1225.4 864.2 L1227.5 861.2 L1229.7 858.3 L1231.8 855.6 L1233.9 853.0 L1236.0 850.6 L1238.2 848.3 L1240.3 846.2 L1242.4 844.2 L1244.5 842.3 L1246.7 840.5 L1248.8 838.8 L1250.9 837.2 L1253.1 835.7 L1255.2 834.3 L1257.3 832.9 L1259.4 831.7 L1261.6 830.5 L1263.7 829.4 L1265.8 828.3 L1267.9 827.3 L1270.1 826.4 L1272.2 825.5 L1274.3 824.7 L1276.4 823.9 L1278.6 823.2 L1280.7 822.5 L1282.8 821.8 L1285.0 821.2 L1287.1 820.6 L1289.2 820.1 L1291.3 819.6 L1293.5 819.1 L1295.6 818.6 L1295.6 818.6 L1454.4 811.6" fill="none" stroke="#1616b8" stroke-width="2.4" stroke-linejoin="round"/>
<path d="M1178.2 956.6 L1189.2 956.6 L1189.2 956.6 L1191.4 943.9 L1193.5 932.0 L1195.6 920.9 L1197.8 910.6 L1199.9 901.0 L1202.0 892.0 L1204.1 883.7 L1206.3 875.9 L1208.4 868.6 L1210.5 861.8 L1212.6 855.5 L1214.8 849.6 L1216.9 844.1 L1219.0 839.0 L1221.1 834.2 L1223.3 829.8 L1225.4 825.6 L1227.5 821.8 L1229.7 818.1 L1231.8 814.8 L1233.9 811.6 L1236.0 808.7 L1238.2 806.0 L1240.3 803.4 L1242.4 801.1 L1244.5 798.9 L1246.7 796.8 L1248.8 794.9 L1250.9 793.1 L1253.1 791.4 L1255.2 789.9 L1257.3 788.4 L1259.4 787.0 L1261.6 785.8 L1263.7 784.6 L1265.8 783.5 L1267.9 782.5 L1270.1 781.5 L1272.2 780.6 L1274.3 779.8 L1276.4 779.0 L1278.6 778.3 L1280.7 777.6 L1282.8 777.0 L1285.0 776.4 L1287.1 775.9 L1289.2 775.4 L1291.3 774.9 L1293.5 774.5 L1295.6 774.0 L1295.6 774.0 L1454.4 773.7" fill="none" stroke="#e21fd2" stroke-width="2.4" stroke-linejoin="round"/>
<line x1="1426.7" y1="763.7" x2="1459.9" y2="763.7" stroke="#e21fd2" stroke-width="2.3"/>
<text x="1464.8" y="769.3" font-size="17.2" font-weight="bold" textLength="58.7" lengthAdjust="spacingAndGlyphs" fill="#111" >1600 nM</text>
<line x1="1426.7" y1="784.3" x2="1459.9" y2="784.3" stroke="#1616b8" stroke-width="2.3"/>
<text x="1464.8" y="789.9" font-size="17.2" font-weight="bold" textLength="50.5" lengthAdjust="spacingAndGlyphs" fill="#111" >800 nM</text>
<line x1="1426.7" y1="804.5" x2="1459.9" y2="804.5" stroke="#cf1e1e" stroke-width="2.3"/>
<text x="1464.8" y="810.1" font-size="17.2" font-weight="bold" textLength="50.5" lengthAdjust="spacingAndGlyphs" fill="#111" >400 nM</text>
<line x1="1426.7" y1="824.7" x2="1459.9" y2="824.7" stroke="#111111" stroke-width="2.3"/>
<text x="1464.8" y="830.3" font-size="17.2" font-weight="bold" textLength="50.5" lengthAdjust="spacingAndGlyphs" fill="#111" >200 nM</text>
<line x1="1426.7" y1="844.2" x2="1459.9" y2="844.2" stroke="#f0952a" stroke-width="2.3"/>
<text x="1464.8" y="849.8" font-size="17.2" font-weight="bold" textLength="50.5" lengthAdjust="spacingAndGlyphs" fill="#111" >100 nM</text>
<line x1="1426.7" y1="865.0" x2="1459.9" y2="865.0" stroke="#2f9ad0" stroke-width="2.3"/>
<text x="1464.8" y="870.6" font-size="17.2" font-weight="bold" textLength="42.0" lengthAdjust="spacingAndGlyphs" fill="#111" >50 nM</text>
<line x1="1426.7" y1="885.2" x2="1459.9" y2="885.2" stroke="#cf6480" stroke-width="2.3"/>
<text x="1464.8" y="890.8" font-size="17.2" font-weight="bold" textLength="42.0" lengthAdjust="spacingAndGlyphs" fill="#111" >25 nM</text>
<line x1="1426.7" y1="905.4" x2="1459.9" y2="905.4" stroke="#7a1a1a" stroke-width="2.3"/>
<text x="1464.8" y="911.0" font-size="17.2" font-weight="bold" textLength="33.9" lengthAdjust="spacingAndGlyphs" fill="#111" >0 nM</text>
<path d="M1624.4 745.3 L1624.4 981.3 L1901.7 981.3" fill="none" stroke="#000" stroke-width="2.4"/>
<line x1="1619.9" y1="973.8" x2="1624.4" y2="973.8" stroke="#111" stroke-width="1.6"/>
<text x="1616.6" y="979.2" font-size="15.2" font-weight="bold" text-anchor="end" fill="#111" >0</text>
<line x1="1621.8" y1="951.0" x2="1624.4" y2="951.0" stroke="#111" stroke-width="1.3"/>
<line x1="1619.9" y1="928.2" x2="1624.4" y2="928.2" stroke="#111" stroke-width="1.6"/>
<text x="1616.6" y="933.6" font-size="15.2" font-weight="bold" text-anchor="end" fill="#111" >32</text>
<line x1="1621.8" y1="905.4" x2="1624.4" y2="905.4" stroke="#111" stroke-width="1.3"/>
<line x1="1619.9" y1="882.6" x2="1624.4" y2="882.6" stroke="#111" stroke-width="1.6"/>
<text x="1616.6" y="888.0" font-size="15.2" font-weight="bold" text-anchor="end" fill="#111" >64</text>
<line x1="1621.8" y1="859.8" x2="1624.4" y2="859.8" stroke="#111" stroke-width="1.3"/>
<line x1="1619.9" y1="837.0" x2="1624.4" y2="837.0" stroke="#111" stroke-width="1.6"/>
<text x="1616.6" y="842.4" font-size="15.2" font-weight="bold" text-anchor="end" fill="#111" >96</text>
<line x1="1621.8" y1="814.2" x2="1624.4" y2="814.2" stroke="#111" stroke-width="1.3"/>
<line x1="1619.9" y1="791.4" x2="1624.4" y2="791.4" stroke="#111" stroke-width="1.6"/>
<text x="1616.6" y="796.8" font-size="15.2" font-weight="bold" text-anchor="end" fill="#111" >128</text>
<line x1="1621.8" y1="768.6" x2="1624.4" y2="768.6" stroke="#111" stroke-width="1.3"/>
<line x1="1619.9" y1="745.8" x2="1624.4" y2="745.8" stroke="#111" stroke-width="1.6"/>
<text x="1616.6" y="751.2" font-size="15.2" font-weight="bold" text-anchor="end" fill="#111" >160</text>
<line x1="1624.4" y1="981.3" x2="1624.4" y2="985.5" stroke="#111" stroke-width="1.6"/>
<text x="1624.4" y="1000.9" font-size="14.8" font-weight="bold" text-anchor="middle" fill="#111" >0</text>
<line x1="1652.1" y1="981.3" x2="1652.1" y2="983.9" stroke="#111" stroke-width="1.3"/>
<line x1="1679.7" y1="981.3" x2="1679.7" y2="985.5" stroke="#111" stroke-width="1.6"/>
<text x="1679.7" y="1000.9" font-size="14.8" font-weight="bold" text-anchor="middle" fill="#111" >200</text>
<line x1="1707.4" y1="981.3" x2="1707.4" y2="983.9" stroke="#111" stroke-width="1.3"/>
<line x1="1735.0" y1="981.3" x2="1735.0" y2="985.5" stroke="#111" stroke-width="1.6"/>
<text x="1735.0" y="1000.9" font-size="14.8" font-weight="bold" text-anchor="middle" fill="#111" >400</text>
<line x1="1762.7" y1="981.3" x2="1762.7" y2="983.9" stroke="#111" stroke-width="1.3"/>
<line x1="1790.3" y1="981.3" x2="1790.3" y2="985.5" stroke="#111" stroke-width="1.6"/>
<text x="1790.3" y="1000.9" font-size="14.8" font-weight="bold" text-anchor="middle" fill="#111" >600</text>
<line x1="1818.0" y1="981.3" x2="1818.0" y2="983.9" stroke="#111" stroke-width="1.3"/>
<line x1="1845.6" y1="981.3" x2="1845.6" y2="985.5" stroke="#111" stroke-width="1.6"/>
<text x="1845.6" y="1000.9" font-size="14.8" font-weight="bold" text-anchor="middle" fill="#111" >800</text>
<line x1="1873.2" y1="981.3" x2="1873.2" y2="983.9" stroke="#111" stroke-width="1.3"/>
<line x1="1900.9" y1="981.3" x2="1900.9" y2="985.5" stroke="#111" stroke-width="1.6"/>
<text x="1902.4" y="1000.9" font-size="14.8" font-weight="bold" text-anchor="middle" fill="#111" >1000</text>
<text x="1774.1" y="1017.8" font-size="15.5" font-weight="bold" text-anchor="middle" textLength="57.0" lengthAdjust="spacingAndGlyphs" fill="#111" >Time (s)</text>
<text x="1588.2" y="854.6" font-size="15.5" font-weight="bold" text-anchor="middle" textLength="152.4" lengthAdjust="spacingAndGlyphs" fill="#111" transform="rotate(-90 1588.2 854.6)" >Response unit (OD)</text>
<path d="M1624.4 973.8 L1900.9 973.8" fill="none" stroke="#7a1a1a" stroke-width="2.4" stroke-linejoin="round"/>
<path d="M1624.4 973.8 L1636.8 973.8 L1636.8 973.8 L1639.0 973.2 L1641.1 972.6 L1643.2 972.1 L1645.4 971.6 L1647.5 971.1 L1649.6 970.6 L1651.7 970.2 L1653.9 969.8 L1656.0 969.4 L1658.1 969.0 L1660.3 968.6 L1662.4 968.3 L1664.5 968.0 L1666.6 967.6 L1668.8 967.3 L1670.9 967.1 L1673.0 966.8 L1675.2 966.5 L1677.3 966.3 L1679.4 966.0 L1681.6 965.8 L1683.7 965.6 L1685.8 965.4 L1687.9 965.2 L1690.1 965.0 L1692.2 964.8 L1694.3 964.7 L1696.5 964.5 L1698.6 964.3 L1700.7 964.2 L1702.8 964.1 L1705.0 963.9 L1707.1 963.8 L1709.2 963.7 L1711.4 963.6 L1713.5 963.5 L1715.6 963.3 L1717.7 963.2 L1719.9 963.2 L1722.0 963.1 L1724.1 963.0 L1726.3 962.9 L1728.4 962.8 L1730.5 962.7 L1732.6 962.7 L1734.8 962.6 L1736.9 962.5 L1739.0 962.5 L1741.2 962.4 L1741.9 962.4 L1900.9 961.4" fill="none" stroke="#cf6480" stroke-width="2.4" stroke-linejoin="round"/>
<path d="M1624.4 973.8 L1636.8 973.8 L1636.8 973.8 L1639.0 973.5 L1641.1 973.1 L1643.2 972.8 L1645.4 972.4 L1647.5 972.1 L1649.6 971.7 L1651.7 971.4 L1653.9 971.0 L1656.0 970.7 L1658.1 970.3 L1660.3 970.0 L1662.4 969.6 L1664.5 969.3 L1666.6 968.9 L1668.8 968.6 L1670.9 968.2 L1673.0 967.9 L1675.2 967.5 L1677.3 967.2 L1679.4 966.8 L1681.6 966.5 L1683.7 966.1 L1685.8 965.8 L1687.9 965.4 L1690.1 965.1 L1692.2 964.7 L1694.3 964.4 L1696.5 964.0 L1698.6 963.7 L1700.7 963.3 L1702.8 963.0 L1705.0 962.6 L1707.1 962.3 L1709.2 961.9 L1711.4 961.6 L1713.5 961.2 L1715.6 960.9 L1717.7 960.5 L1719.9 960.2 L1722.0 959.8 L1724.1 959.5 L1726.3 959.1 L1728.4 958.8 L1730.5 958.4 L1732.6 958.1 L1734.8 957.7 L1736.9 957.4 L1739.0 957.0 L1741.2 956.7 L1741.9 956.6 L1900.9 959.5" fill="none" stroke="#2f9ad0" stroke-width="2.4" stroke-linejoin="round"/>
<path d="M1624.4 973.8 L1636.8 973.8 L1636.8 973.8 L1639.0 973.1 L1641.1 972.4 L1643.2 971.8 L1645.4 971.1 L1647.5 970.4 L1649.6 969.7 L1651.7 969.1 L1653.9 968.4 L1656.0 967.7 L1658.1 967.0 L1660.3 966.3 L1662.4 965.7 L1664.5 965.0 L1666.6 964.3 L1668.8 963.6 L1670.9 962.9 L1673.0 962.3 L1675.2 961.6 L1677.3 960.9 L1679.4 960.2 L1681.6 959.6 L1683.7 958.9 L1685.8 958.2 L1687.9 957.5 L1690.1 956.8 L1692.2 956.2 L1694.3 955.5 L1696.5 954.8 L1698.6 954.1 L1700.7 953.4 L1702.8 952.8 L1705.0 952.1 L1707.1 951.4 L1709.2 950.7 L1711.4 950.1 L1713.5 949.4 L1715.6 948.7 L1717.7 948.0 L1719.9 947.3 L1722.0 946.7 L1724.1 946.0 L1726.3 945.3 L1728.4 944.6 L1730.5 943.9 L1732.6 943.3 L1734.8 942.6 L1736.9 941.9 L1739.0 941.2 L1741.2 940.6 L1741.9 940.3 L1900.9 941.2" fill="none" stroke="#f0952a" stroke-width="2.4" stroke-linejoin="round"/>
<path d="M1624.4 973.8 L1636.8 973.8 L1636.8 973.8 L1639.0 970.3 L1641.1 966.9 L1643.2 963.6 L1645.4 960.4 L1647.5 957.3 L1649.6 954.3 L1651.7 951.3 L1653.9 948.5 L1656.0 945.7 L1658.1 943.0 L1660.3 940.4 L1662.4 937.9 L1664.5 935.4 L1666.6 933.1 L1668.8 930.7 L1670.9 928.5 L1673.0 926.3 L1675.2 924.2 L1677.3 922.1 L1679.4 920.2 L1681.6 918.2 L1683.7 916.3 L1685.8 914.5 L1687.9 912.7 L1690.1 911.0 L1692.2 909.3 L1694.3 907.7 L1696.5 906.1 L1698.6 904.6 L1700.7 903.1 L1702.8 901.7 L1705.0 900.3 L1707.1 898.9 L1709.2 897.6 L1711.4 896.3 L1713.5 895.1 L1715.6 893.9 L1717.7 892.7 L1719.9 891.6 L1722.0 890.5 L1724.1 889.4 L1726.3 888.4 L1728.4 887.4 L1730.5 886.4 L1732.6 885.4 L1734.8 884.5 L1736.9 883.6 L1739.0 882.7 L1741.2 881.9 L1741.9 881.6 L1900.9 877.8" fill="none" stroke="#111111" stroke-width="2.4" stroke-linejoin="round"/>
<path d="M1624.4 973.8 L1636.8 973.8 L1636.8 973.8 L1639.0 966.4 L1641.1 959.3 L1643.2 952.6 L1645.4 946.2 L1647.5 940.2 L1649.6 934.4 L1651.7 928.9 L1653.9 923.8 L1656.0 918.8 L1658.1 914.1 L1660.3 909.7 L1662.4 905.5 L1664.5 901.4 L1666.6 897.6 L1668.8 894.0 L1670.9 890.6 L1673.0 887.3 L1675.2 884.2 L1677.3 881.2 L1679.4 878.4 L1681.6 875.8 L1683.7 873.2 L1685.8 870.8 L1687.9 868.5 L1690.1 866.4 L1692.2 864.3 L1694.3 862.4 L1696.5 860.5 L1698.6 858.7 L1700.7 857.1 L1702.8 855.5 L1705.0 854.0 L1707.1 852.5 L1709.2 851.1 L1711.4 849.8 L1713.5 848.6 L1715.6 847.4 L1717.7 846.3 L1719.9 845.3 L1722.0 844.3 L1724.1 843.3 L1726.3 842.4 L1728.4 841.5 L1730.5 840.7 L1732.6 840.0 L1734.8 839.2 L1736.9 838.5 L1739.0 837.8 L1741.2 837.2 L1741.9 837.0 L1900.9 839.6" fill="none" stroke="#cf1e1e" stroke-width="2.4" stroke-linejoin="round"/>
<path d="M1624.4 973.8 L1636.8 973.8 L1636.8 973.8 L1639.0 960.1 L1641.1 947.5 L1643.2 935.9 L1645.4 925.2 L1647.5 915.3 L1649.6 906.2 L1651.7 897.7 L1653.9 890.0 L1656.0 882.8 L1658.1 876.3 L1660.3 870.2 L1662.4 864.6 L1664.5 859.4 L1666.6 854.6 L1668.8 850.2 L1670.9 846.2 L1673.0 842.4 L1675.2 839.0 L1677.3 835.8 L1679.4 832.9 L1681.6 830.2 L1683.7 827.7 L1685.8 825.4 L1687.9 823.3 L1690.1 821.3 L1692.2 819.5 L1694.3 817.8 L1696.5 816.3 L1698.6 814.9 L1700.7 813.6 L1702.8 812.4 L1705.0 811.3 L1707.1 810.3 L1709.2 809.3 L1711.4 808.5 L1713.5 807.7 L1715.6 806.9 L1717.7 806.2 L1719.9 805.6 L1722.0 805.0 L1724.1 804.5 L1726.3 804.0 L1728.4 803.5 L1730.5 803.1 L1732.6 802.7 L1734.8 802.4 L1736.9 802.1 L1739.0 801.7 L1741.2 801.5 L1741.9 801.4 L1900.9 800.2" fill="none" stroke="#1616b8" stroke-width="2.4" stroke-linejoin="round"/>
<path d="M1624.4 973.8 L1636.8 973.8 L1636.8 973.8 L1639.0 951.5 L1641.1 931.8 L1643.2 914.4 L1645.4 899.0 L1647.5 885.5 L1649.6 873.5 L1651.7 862.9 L1653.9 853.6 L1656.0 845.3 L1658.1 838.0 L1660.3 831.6 L1662.4 825.9 L1664.5 820.9 L1666.6 816.4 L1668.8 812.5 L1670.9 809.0 L1673.0 806.0 L1675.2 803.3 L1677.3 800.9 L1679.4 798.8 L1681.6 796.9 L1683.7 795.3 L1685.8 793.8 L1687.9 792.6 L1690.1 791.4 L1692.2 790.4 L1694.3 789.5 L1696.5 788.8 L1698.6 788.1 L1700.7 787.5 L1702.8 786.9 L1705.0 786.5 L1707.1 786.0 L1709.2 785.7 L1711.4 785.3 L1713.5 785.0 L1715.6 784.8 L1717.7 784.6 L1719.9 784.4 L1722.0 784.2 L1724.1 784.0 L1726.3 783.9 L1728.4 783.8 L1730.5 783.7 L1732.6 783.6 L1734.8 783.5 L1736.9 783.4 L1739.0 783.4 L1741.2 783.3 L1741.9 783.3 L1900.9 781.4" fill="none" stroke="#e21fd2" stroke-width="2.4" stroke-linejoin="round"/>
<line x1="1875.9" y1="771.2" x2="1909.1" y2="771.2" stroke="#e21fd2" stroke-width="2.3"/>
<text x="1914.0" y="776.8" font-size="17.2" font-weight="bold" textLength="58.6" lengthAdjust="spacingAndGlyphs" fill="#111" >1600 nM</text>
<line x1="1875.9" y1="791.4" x2="1909.1" y2="791.4" stroke="#1616b8" stroke-width="2.3"/>
<text x="1914.0" y="797.0" font-size="17.2" font-weight="bold" textLength="50.4" lengthAdjust="spacingAndGlyphs" fill="#111" >800 nM</text>
<line x1="1875.9" y1="812.0" x2="1909.1" y2="812.0" stroke="#cf1e1e" stroke-width="2.3"/>
<text x="1914.0" y="817.6" font-size="17.2" font-weight="bold" textLength="50.4" lengthAdjust="spacingAndGlyphs" fill="#111" >400 nM</text>
<line x1="1875.9" y1="832.2" x2="1909.1" y2="832.2" stroke="#111111" stroke-width="2.3"/>
<text x="1914.0" y="837.8" font-size="17.2" font-weight="bold" textLength="50.4" lengthAdjust="spacingAndGlyphs" fill="#111" >200 nM</text>
<line x1="1875.9" y1="852.3" x2="1909.1" y2="852.3" stroke="#f0952a" stroke-width="2.3"/>
<text x="1914.0" y="857.9" font-size="17.2" font-weight="bold" textLength="50.4" lengthAdjust="spacingAndGlyphs" fill="#111" >100 nM</text>
<line x1="1875.9" y1="872.9" x2="1909.1" y2="872.9" stroke="#2f9ad0" stroke-width="2.3"/>
<text x="1914.0" y="878.5" font-size="17.2" font-weight="bold" textLength="41.9" lengthAdjust="spacingAndGlyphs" fill="#111" >50 nM</text>
<line x1="1875.9" y1="893.1" x2="1909.1" y2="893.1" stroke="#cf6480" stroke-width="2.3"/>
<text x="1914.0" y="898.7" font-size="17.2" font-weight="bold" textLength="41.9" lengthAdjust="spacingAndGlyphs" fill="#111" >25 nM</text>
<line x1="1875.9" y1="913.9" x2="1909.1" y2="913.9" stroke="#7a1a1a" stroke-width="2.3"/>
<text x="1914.0" y="919.5" font-size="17.2" font-weight="bold" textLength="33.9" lengthAdjust="spacingAndGlyphs" fill="#111" >0 nM</text>
</svg>
</body></html>
